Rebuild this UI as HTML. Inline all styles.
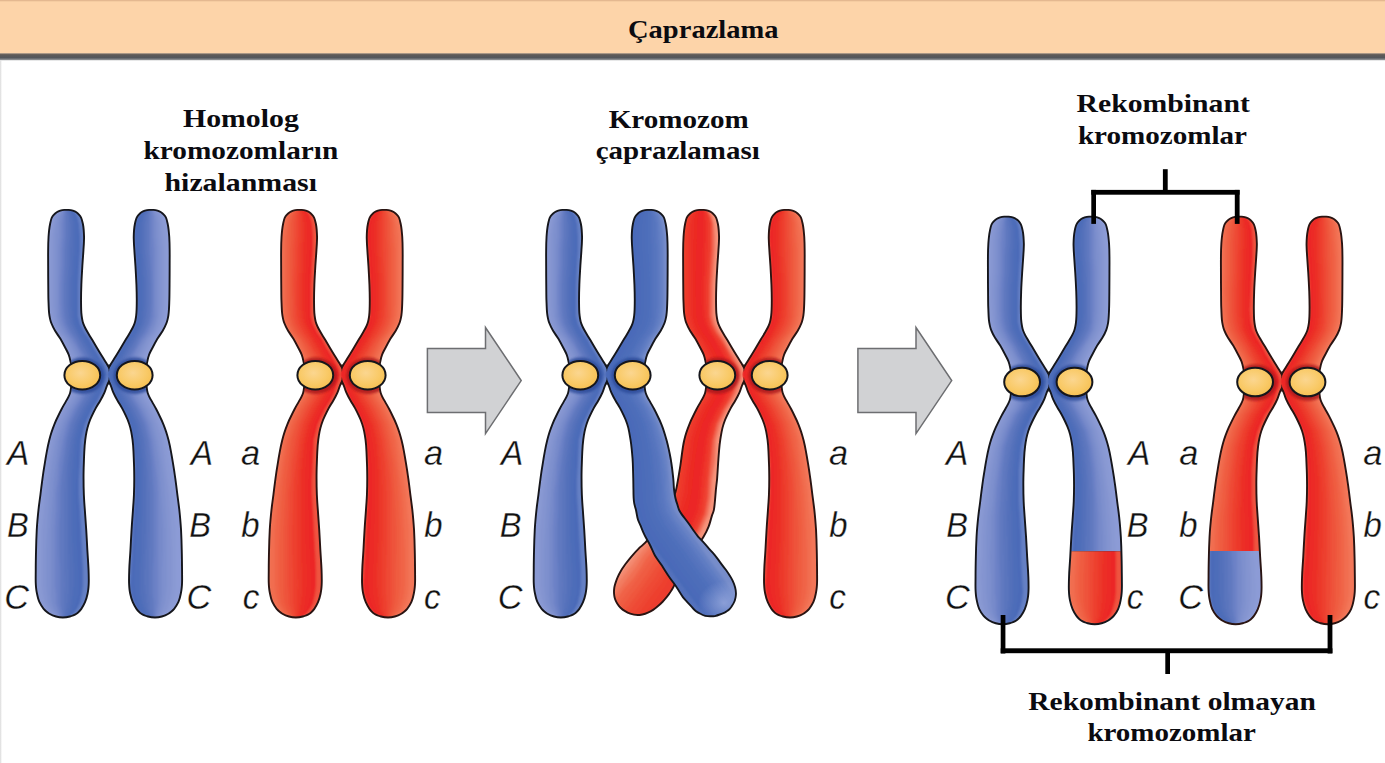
<!DOCTYPE html>
<html><head><meta charset="utf-8"><title>Çaprazlama</title>
<style>
html,body{margin:0;padding:0;background:#fff;width:1385px;height:763px;overflow:hidden}
svg{display:block}
.sf{font-family:"Liberation Serif",serif;font-weight:bold;fill:#0b0b10}
.lb{font-family:"Liberation Sans",sans-serif;font-style:italic;font-size:35px;fill:#111;stroke:#fff;stroke-width:0.3px}
</style></head>
<body>
<svg width="1385" height="763" viewBox="0 0 1385 763">
<defs>
<filter id="bl" x="-20%" y="-5%" width="140%" height="110%"><feGaussianBlur stdDeviation="0.8"/></filter>
<filter id="hb2" x="-30%" y="-30%" width="160%" height="160%"><feGaussianBlur stdDeviation="1.3"/></filter>
<radialGradient id="cg" cx="0.45" cy="0.42" r="0.62"><stop offset="0" stop-color="#fbd690"/><stop offset="0.6" stop-color="#f9ca68"/><stop offset="1" stop-color="#f6bf50"/></radialGradient>
<linearGradient id="hb" x1="0" y1="0" x2="0" y2="1">
<stop offset="0" stop-color="#a08872"/><stop offset="0.2" stop-color="#5e5a58"/><stop offset="0.6" stop-color="#53565b"/>
<stop offset="0.85" stop-color="#8d8f92"/><stop offset="1" stop-color="#ffffff"/></linearGradient>
<radialGradient id="bend"><stop offset="0" stop-color="#b8c2ec" stop-opacity="0.55"/><stop offset="1" stop-color="#b8c2ec" stop-opacity="0"/></radialGradient>
<linearGradient id="lg" x1="0" y1="0" x2="1" y2="0"><stop offset="0" stop-color="#d9d9d9"/><stop offset="1" stop-color="#ffffff"/></linearGradient>
<clipPath id="c1"><path d="M66.40,210.80 C69.03,210.79 72.16,211.14 74.40,212.22 C76.46,213.22 78.27,214.86 79.51,216.74 C80.83,218.73 81.35,221.16 81.93,223.95 C82.69,227.57 83.00,232.45 83.10,236.74 C83.20,241.09 82.77,245.29 82.50,249.89 C82.21,254.96 81.74,260.32 81.40,265.89 C81.04,271.96 80.62,278.66 80.40,284.93 C80.19,291.04 80.02,297.50 80.10,303.02 C80.17,307.68 80.21,312.10 80.71,315.91 C81.12,319.01 81.56,321.54 82.51,324.24 C83.50,327.05 85.16,329.75 86.64,332.42 C88.11,335.09 89.80,337.65 91.37,340.28 C92.94,342.90 94.50,345.55 96.07,348.18 C97.63,350.79 99.33,353.61 100.78,355.99 C102.00,357.99 103.10,359.74 104.18,361.50 C105.19,363.12 106.14,364.63 107.07,366.18 C107.98,367.69 109.18,369.20 109.73,370.69 C110.20,371.97 110.40,373.23 110.40,374.50 C110.40,375.77 110.19,377.01 109.72,378.33 C109.16,379.91 107.86,381.31 106.96,383.23 C105.80,385.72 104.82,389.31 103.56,392.13 C102.37,394.81 101.05,397.23 99.64,399.78 C98.17,402.43 96.55,404.58 94.90,407.75 C92.63,412.10 89.47,418.28 87.70,423.70 C85.98,428.96 85.11,433.90 84.31,439.77 C83.37,446.73 83.18,455.84 82.90,462.82 C82.67,468.60 82.60,473.41 82.60,478.70 C82.60,483.97 82.68,489.23 82.90,494.48 C83.12,499.71 83.53,504.59 83.90,510.13 C84.32,516.38 84.89,523.45 85.30,530.12 C85.72,536.78 86.02,543.45 86.40,550.11 C86.79,556.77 87.40,563.91 87.60,570.07 C87.78,575.38 87.95,580.64 87.70,584.92 C87.51,588.21 87.24,590.77 86.64,593.61 C86.05,596.42 85.22,599.35 84.15,601.87 C83.16,604.20 81.99,606.38 80.58,608.26 C79.24,610.04 77.75,611.71 75.95,612.92 C74.10,614.16 71.79,614.97 69.60,615.57 C67.41,616.16 65.05,616.50 62.80,616.50 C60.59,616.50 58.35,616.16 56.21,615.57 C54.05,614.97 51.86,614.09 49.91,612.89 C47.89,611.64 45.93,609.99 44.34,608.16 C42.73,606.31 41.39,604.16 40.34,601.83 C39.22,599.34 38.55,596.41 37.96,593.61 C37.36,590.77 37.03,588.20 36.80,584.90 C36.50,580.60 36.68,575.34 36.70,570.01 C36.73,563.84 36.83,556.70 37.00,550.05 C37.17,543.40 37.30,536.75 37.70,530.11 C38.10,523.47 38.73,516.42 39.39,510.20 C39.98,504.68 40.72,499.84 41.38,494.64 C42.05,489.43 42.65,484.19 43.38,478.96 C44.11,473.72 44.79,468.95 45.77,463.23 C46.96,456.33 48.39,447.26 50.14,440.45 C51.61,434.76 53.15,430.10 55.17,425.00 C57.24,419.76 60.30,413.73 62.50,409.45 C64.09,406.35 65.48,404.25 66.88,401.59 C68.28,398.92 69.99,396.34 70.91,393.47 C71.84,390.56 72.07,386.88 72.38,384.24 C72.62,382.29 72.71,380.77 72.80,379.10 C72.88,377.52 72.92,376.02 72.90,374.48 C72.88,372.93 72.83,371.41 72.69,369.84 C72.56,368.22 72.33,366.54 72.08,364.90 C71.82,363.28 71.54,361.74 71.15,360.06 C70.72,358.22 70.34,356.33 69.56,354.29 C68.61,351.80 66.96,348.97 65.58,346.32 C64.19,343.64 62.80,340.93 61.23,338.32 C59.63,335.67 57.56,333.17 56.04,330.55 C54.60,328.04 53.23,325.51 52.28,322.94 C51.37,320.47 50.84,318.28 50.38,315.44 C49.80,311.82 49.70,307.47 49.50,302.93 C49.26,297.48 49.27,291.05 49.20,284.98 C49.13,278.74 49.12,272.05 49.10,265.99 C49.09,260.44 49.02,255.09 49.10,250.03 C49.17,245.42 49.16,241.20 49.49,236.84 C49.82,232.52 50.26,227.61 51.06,223.97 C51.67,221.19 52.05,218.74 53.38,216.76 C54.66,214.85 56.69,213.22 58.80,212.22 C61.01,211.18 63.83,210.81 66.40,210.80Z"/></clipPath>
<clipPath id="c2"><path d="M151.40,210.80 C153.97,210.81 156.79,211.18 159.00,212.22 C161.11,213.22 163.14,214.85 164.42,216.76 C165.75,218.74 166.13,221.19 166.74,223.97 C167.54,227.61 167.98,232.52 168.31,236.84 C168.64,241.20 168.63,245.42 168.70,250.03 C168.78,255.09 168.71,260.44 168.70,265.99 C168.68,272.05 168.67,278.74 168.60,284.98 C168.53,291.05 168.54,297.48 168.30,302.93 C168.10,307.47 168.00,311.82 167.42,315.44 C166.96,318.28 166.43,320.47 165.52,322.94 C164.57,325.51 163.20,328.04 161.76,330.55 C160.24,333.17 158.17,335.67 156.57,338.32 C155.00,340.93 153.61,343.64 152.22,346.32 C150.84,348.97 149.19,351.80 148.24,354.29 C147.46,356.33 147.08,358.22 146.65,360.06 C146.26,361.74 145.98,363.28 145.72,364.90 C145.47,366.54 145.24,368.22 145.11,369.84 C144.97,371.41 144.92,372.93 144.90,374.48 C144.88,376.02 144.92,377.52 145.00,379.10 C145.09,380.77 145.18,382.29 145.42,384.24 C145.73,386.88 145.96,390.56 146.89,393.47 C147.81,396.34 149.52,398.92 150.92,401.59 C152.32,404.25 153.71,406.35 155.30,409.45 C157.50,413.73 160.56,419.76 162.63,425.00 C164.65,430.10 166.19,434.76 167.66,440.45 C169.41,447.26 170.84,456.33 172.03,463.23 C173.01,468.95 173.69,473.72 174.42,478.96 C175.15,484.19 175.75,489.43 176.42,494.64 C177.08,499.84 177.82,504.68 178.41,510.20 C179.07,516.42 179.70,523.47 180.10,530.11 C180.50,536.75 180.63,543.40 180.80,550.05 C180.97,556.70 181.07,563.84 181.10,570.01 C181.12,575.34 181.30,580.60 181.00,584.90 C180.77,588.20 180.44,590.77 179.84,593.61 C179.25,596.41 178.58,599.34 177.46,601.83 C176.41,604.16 175.07,606.31 173.46,608.16 C171.87,609.99 169.91,611.64 167.89,612.89 C165.94,614.09 163.75,614.97 161.59,615.57 C159.45,616.16 157.21,616.50 155.00,616.50 C152.75,616.50 150.39,616.16 148.20,615.57 C146.01,614.97 143.70,614.16 141.85,612.92 C140.05,611.71 138.56,610.04 137.22,608.26 C135.81,606.38 134.64,604.20 133.65,601.87 C132.58,599.35 131.75,596.42 131.16,593.61 C130.56,590.77 130.29,588.21 130.10,584.92 C129.85,580.64 130.02,575.38 130.20,570.07 C130.40,563.91 131.01,556.77 131.40,550.11 C131.78,543.45 132.08,536.78 132.50,530.12 C132.91,523.45 133.48,516.38 133.90,510.13 C134.27,504.59 134.68,499.71 134.90,494.48 C135.12,489.23 135.20,483.97 135.20,478.70 C135.20,473.41 135.13,468.60 134.90,462.82 C134.62,455.84 134.43,446.73 133.49,439.77 C132.69,433.90 131.82,428.96 130.10,423.70 C128.33,418.28 125.17,412.10 122.90,407.75 C121.25,404.58 119.63,402.43 118.16,399.78 C116.75,397.23 115.43,394.81 114.24,392.13 C112.98,389.31 112.00,385.72 110.84,383.23 C109.94,381.31 108.64,379.91 108.08,378.33 C107.61,377.01 107.40,375.77 107.40,374.50 C107.40,373.23 107.60,371.97 108.07,370.69 C108.62,369.20 109.82,367.69 110.73,366.18 C111.66,364.63 112.61,363.12 113.62,361.50 C114.70,359.74 115.80,357.99 117.02,355.99 C118.47,353.61 120.17,350.79 121.73,348.18 C123.30,345.55 124.86,342.90 126.43,340.28 C128.00,337.65 129.69,335.09 131.16,332.42 C132.64,329.75 134.30,327.05 135.29,324.24 C136.24,321.54 136.68,319.01 137.09,315.91 C137.59,312.10 137.63,307.68 137.70,303.02 C137.78,297.50 137.61,291.04 137.40,284.93 C137.18,278.66 136.76,271.96 136.40,265.89 C136.06,260.32 135.59,254.96 135.30,249.89 C135.03,245.29 134.60,241.09 134.70,236.74 C134.80,232.45 135.11,227.57 135.87,223.95 C136.45,221.16 136.97,218.73 138.29,216.74 C139.53,214.86 141.34,213.22 143.40,212.22 C145.64,211.14 148.77,210.79 151.40,210.80Z"/></clipPath>
<clipPath id="h3"><path d="M66.40,210.80 C69.03,210.79 72.16,211.14 74.40,212.22 C76.46,213.22 78.27,214.86 79.51,216.74 C80.83,218.73 81.35,221.16 81.93,223.95 C82.69,227.57 83.00,232.45 83.10,236.74 C83.20,241.09 82.77,245.29 82.50,249.89 C82.21,254.96 81.74,260.32 81.40,265.89 C81.04,271.96 80.62,278.66 80.40,284.93 C80.19,291.04 80.02,297.50 80.10,303.02 C80.17,307.68 80.21,312.10 80.71,315.91 C81.12,319.01 81.56,321.54 82.51,324.24 C83.50,327.05 85.16,329.75 86.64,332.42 C88.11,335.09 89.80,337.65 91.37,340.28 C92.94,342.90 94.50,345.55 96.07,348.18 C97.63,350.79 99.33,353.61 100.78,355.99 C102.00,357.99 103.10,359.74 104.18,361.50 C105.19,363.12 106.14,364.63 107.07,366.18 C107.98,367.69 109.18,369.20 109.73,370.69 C110.20,371.97 110.40,373.23 110.40,374.50 C110.40,375.77 110.19,377.01 109.72,378.33 C109.16,379.91 107.86,381.31 106.96,383.23 C105.80,385.72 104.82,389.31 103.56,392.13 C102.37,394.81 101.05,397.23 99.64,399.78 C98.17,402.43 96.55,404.58 94.90,407.75 C92.63,412.10 89.47,418.28 87.70,423.70 C85.98,428.96 85.11,433.90 84.31,439.77 C83.37,446.73 83.18,455.84 82.90,462.82 C82.67,468.60 82.60,473.41 82.60,478.70 C82.60,483.97 82.68,489.23 82.90,494.48 C83.12,499.71 83.53,504.59 83.90,510.13 C84.32,516.38 84.89,523.45 85.30,530.12 C85.72,536.78 86.02,543.45 86.40,550.11 C86.79,556.77 87.40,563.91 87.60,570.07 C87.78,575.38 87.95,580.64 87.70,584.92 C87.51,588.21 87.24,590.77 86.64,593.61 C86.05,596.42 85.22,599.35 84.15,601.87 C83.16,604.20 81.99,606.38 80.58,608.26 C79.24,610.04 77.75,611.71 75.95,612.92 C74.10,614.16 71.79,614.97 69.60,615.57 C67.41,616.16 65.05,616.50 62.80,616.50 C60.59,616.50 58.35,616.16 56.21,615.57 C54.05,614.97 51.86,614.09 49.91,612.89 C47.89,611.64 45.93,609.99 44.34,608.16 C42.73,606.31 41.39,604.16 40.34,601.83 C39.22,599.34 38.55,596.41 37.96,593.61 C37.36,590.77 37.03,588.20 36.80,584.90 C36.50,580.60 36.68,575.34 36.70,570.01 C36.73,563.84 36.83,556.70 37.00,550.05 C37.17,543.40 37.30,536.75 37.70,530.11 C38.10,523.47 38.73,516.42 39.39,510.20 C39.98,504.68 40.72,499.84 41.38,494.64 C42.05,489.43 42.65,484.19 43.38,478.96 C44.11,473.72 44.79,468.95 45.77,463.23 C46.96,456.33 48.39,447.26 50.14,440.45 C51.61,434.76 53.15,430.10 55.17,425.00 C57.24,419.76 60.30,413.73 62.50,409.45 C64.09,406.35 65.48,404.25 66.88,401.59 C68.28,398.92 69.99,396.34 70.91,393.47 C71.84,390.56 72.07,386.88 72.38,384.24 C72.62,382.29 72.71,380.77 72.80,379.10 C72.88,377.52 72.92,376.02 72.90,374.48 C72.88,372.93 72.83,371.41 72.69,369.84 C72.56,368.22 72.33,366.54 72.08,364.90 C71.82,363.28 71.54,361.74 71.15,360.06 C70.72,358.22 70.34,356.33 69.56,354.29 C68.61,351.80 66.96,348.97 65.58,346.32 C64.19,343.64 62.80,340.93 61.23,338.32 C59.63,335.67 57.56,333.17 56.04,330.55 C54.60,328.04 53.23,325.51 52.28,322.94 C51.37,320.47 50.84,318.28 50.38,315.44 C49.80,311.82 49.70,307.47 49.50,302.93 C49.26,297.48 49.27,291.05 49.20,284.98 C49.13,278.74 49.12,272.05 49.10,265.99 C49.09,260.44 49.02,255.09 49.10,250.03 C49.17,245.42 49.16,241.20 49.49,236.84 C49.82,232.52 50.26,227.61 51.06,223.97 C51.67,221.19 52.05,218.74 53.38,216.76 C54.66,214.85 56.69,213.22 58.80,212.22 C61.01,211.18 63.83,210.81 66.40,210.80Z"/><path d="M151.40,210.80 C153.97,210.81 156.79,211.18 159.00,212.22 C161.11,213.22 163.14,214.85 164.42,216.76 C165.75,218.74 166.13,221.19 166.74,223.97 C167.54,227.61 167.98,232.52 168.31,236.84 C168.64,241.20 168.63,245.42 168.70,250.03 C168.78,255.09 168.71,260.44 168.70,265.99 C168.68,272.05 168.67,278.74 168.60,284.98 C168.53,291.05 168.54,297.48 168.30,302.93 C168.10,307.47 168.00,311.82 167.42,315.44 C166.96,318.28 166.43,320.47 165.52,322.94 C164.57,325.51 163.20,328.04 161.76,330.55 C160.24,333.17 158.17,335.67 156.57,338.32 C155.00,340.93 153.61,343.64 152.22,346.32 C150.84,348.97 149.19,351.80 148.24,354.29 C147.46,356.33 147.08,358.22 146.65,360.06 C146.26,361.74 145.98,363.28 145.72,364.90 C145.47,366.54 145.24,368.22 145.11,369.84 C144.97,371.41 144.92,372.93 144.90,374.48 C144.88,376.02 144.92,377.52 145.00,379.10 C145.09,380.77 145.18,382.29 145.42,384.24 C145.73,386.88 145.96,390.56 146.89,393.47 C147.81,396.34 149.52,398.92 150.92,401.59 C152.32,404.25 153.71,406.35 155.30,409.45 C157.50,413.73 160.56,419.76 162.63,425.00 C164.65,430.10 166.19,434.76 167.66,440.45 C169.41,447.26 170.84,456.33 172.03,463.23 C173.01,468.95 173.69,473.72 174.42,478.96 C175.15,484.19 175.75,489.43 176.42,494.64 C177.08,499.84 177.82,504.68 178.41,510.20 C179.07,516.42 179.70,523.47 180.10,530.11 C180.50,536.75 180.63,543.40 180.80,550.05 C180.97,556.70 181.07,563.84 181.10,570.01 C181.12,575.34 181.30,580.60 181.00,584.90 C180.77,588.20 180.44,590.77 179.84,593.61 C179.25,596.41 178.58,599.34 177.46,601.83 C176.41,604.16 175.07,606.31 173.46,608.16 C171.87,609.99 169.91,611.64 167.89,612.89 C165.94,614.09 163.75,614.97 161.59,615.57 C159.45,616.16 157.21,616.50 155.00,616.50 C152.75,616.50 150.39,616.16 148.20,615.57 C146.01,614.97 143.70,614.16 141.85,612.92 C140.05,611.71 138.56,610.04 137.22,608.26 C135.81,606.38 134.64,604.20 133.65,601.87 C132.58,599.35 131.75,596.42 131.16,593.61 C130.56,590.77 130.29,588.21 130.10,584.92 C129.85,580.64 130.02,575.38 130.20,570.07 C130.40,563.91 131.01,556.77 131.40,550.11 C131.78,543.45 132.08,536.78 132.50,530.12 C132.91,523.45 133.48,516.38 133.90,510.13 C134.27,504.59 134.68,499.71 134.90,494.48 C135.12,489.23 135.20,483.97 135.20,478.70 C135.20,473.41 135.13,468.60 134.90,462.82 C134.62,455.84 134.43,446.73 133.49,439.77 C132.69,433.90 131.82,428.96 130.10,423.70 C128.33,418.28 125.17,412.10 122.90,407.75 C121.25,404.58 119.63,402.43 118.16,399.78 C116.75,397.23 115.43,394.81 114.24,392.13 C112.98,389.31 112.00,385.72 110.84,383.23 C109.94,381.31 108.64,379.91 108.08,378.33 C107.61,377.01 107.40,375.77 107.40,374.50 C107.40,373.23 107.60,371.97 108.07,370.69 C108.62,369.20 109.82,367.69 110.73,366.18 C111.66,364.63 112.61,363.12 113.62,361.50 C114.70,359.74 115.80,357.99 117.02,355.99 C118.47,353.61 120.17,350.79 121.73,348.18 C123.30,345.55 124.86,342.90 126.43,340.28 C128.00,337.65 129.69,335.09 131.16,332.42 C132.64,329.75 134.30,327.05 135.29,324.24 C136.24,321.54 136.68,319.01 137.09,315.91 C137.59,312.10 137.63,307.68 137.70,303.02 C137.78,297.50 137.61,291.04 137.40,284.93 C137.18,278.66 136.76,271.96 136.40,265.89 C136.06,260.32 135.59,254.96 135.30,249.89 C135.03,245.29 134.60,241.09 134.70,236.74 C134.80,232.45 135.11,227.57 135.87,223.95 C136.45,221.16 136.97,218.73 138.29,216.74 C139.53,214.86 141.34,213.22 143.40,212.22 C145.64,211.14 148.77,210.79 151.40,210.80Z"/></clipPath>
<clipPath id="c4"><path d="M299.40,210.80 C302.03,210.79 305.16,211.14 307.40,212.22 C309.46,213.22 311.27,214.86 312.51,216.74 C313.83,218.73 314.35,221.16 314.93,223.95 C315.69,227.57 316.00,232.45 316.10,236.74 C316.20,241.09 315.77,245.29 315.50,249.89 C315.21,254.96 314.74,260.32 314.40,265.89 C314.04,271.96 313.62,278.66 313.40,284.93 C313.19,291.04 313.02,297.50 313.10,303.02 C313.17,307.68 313.21,312.10 313.71,315.91 C314.12,319.01 314.56,321.54 315.51,324.24 C316.50,327.05 318.16,329.75 319.64,332.42 C321.11,335.09 322.80,337.65 324.37,340.28 C325.94,342.90 327.50,345.55 329.07,348.18 C330.63,350.79 332.33,353.61 333.78,355.99 C335.00,357.99 336.10,359.74 337.18,361.50 C338.19,363.12 339.14,364.63 340.07,366.18 C340.98,367.69 342.18,369.20 342.73,370.69 C343.20,371.97 343.40,373.23 343.40,374.50 C343.40,375.77 343.19,377.01 342.72,378.33 C342.16,379.91 340.86,381.31 339.96,383.23 C338.80,385.72 337.82,389.31 336.56,392.13 C335.37,394.81 334.05,397.23 332.64,399.78 C331.17,402.43 329.55,404.58 327.90,407.75 C325.63,412.10 322.47,418.28 320.70,423.70 C318.98,428.96 318.11,433.90 317.31,439.77 C316.37,446.73 316.18,455.84 315.90,462.82 C315.67,468.60 315.60,473.41 315.60,478.70 C315.60,483.97 315.68,489.23 315.90,494.48 C316.12,499.71 316.53,504.59 316.90,510.13 C317.32,516.38 317.89,523.45 318.30,530.12 C318.72,536.78 319.02,543.45 319.40,550.11 C319.79,556.77 320.40,563.91 320.60,570.07 C320.78,575.38 320.95,580.64 320.70,584.92 C320.51,588.21 320.24,590.77 319.64,593.61 C319.05,596.42 318.22,599.35 317.15,601.87 C316.16,604.20 314.99,606.38 313.58,608.26 C312.24,610.04 310.75,611.71 308.95,612.92 C307.10,614.16 304.79,614.97 302.60,615.57 C300.41,616.16 298.05,616.50 295.80,616.50 C293.59,616.50 291.35,616.16 289.21,615.57 C287.05,614.97 284.86,614.09 282.91,612.89 C280.89,611.64 278.93,609.99 277.34,608.16 C275.73,606.31 274.39,604.16 273.34,601.83 C272.22,599.34 271.55,596.41 270.96,593.61 C270.36,590.77 270.03,588.20 269.80,584.90 C269.50,580.60 269.68,575.34 269.70,570.01 C269.73,563.84 269.83,556.70 270.00,550.05 C270.17,543.40 270.30,536.75 270.70,530.11 C271.10,523.47 271.73,516.42 272.39,510.20 C272.98,504.68 273.72,499.84 274.38,494.64 C275.05,489.43 275.65,484.19 276.38,478.96 C277.11,473.72 277.79,468.95 278.77,463.23 C279.96,456.33 281.39,447.26 283.14,440.45 C284.61,434.76 286.15,430.10 288.17,425.00 C290.24,419.76 293.30,413.73 295.50,409.45 C297.09,406.35 298.48,404.25 299.88,401.59 C301.28,398.92 302.99,396.34 303.91,393.47 C304.84,390.56 305.07,386.88 305.38,384.24 C305.62,382.29 305.71,380.77 305.80,379.10 C305.88,377.52 305.92,376.02 305.90,374.48 C305.88,372.93 305.83,371.41 305.69,369.84 C305.56,368.22 305.33,366.54 305.08,364.90 C304.82,363.28 304.54,361.74 304.15,360.06 C303.72,358.22 303.34,356.33 302.56,354.29 C301.61,351.80 299.96,348.97 298.58,346.32 C297.19,343.64 295.80,340.93 294.23,338.32 C292.63,335.67 290.56,333.17 289.04,330.55 C287.60,328.04 286.23,325.51 285.28,322.94 C284.37,320.47 283.84,318.28 283.38,315.44 C282.80,311.82 282.70,307.47 282.50,302.93 C282.26,297.48 282.27,291.05 282.20,284.98 C282.13,278.74 282.12,272.05 282.10,265.99 C282.09,260.44 282.02,255.09 282.10,250.03 C282.17,245.42 282.16,241.20 282.49,236.84 C282.82,232.52 283.26,227.61 284.06,223.97 C284.67,221.19 285.05,218.74 286.38,216.76 C287.66,214.85 289.69,213.22 291.80,212.22 C294.01,211.18 296.83,210.81 299.40,210.80Z"/></clipPath>
<clipPath id="c5"><path d="M384.40,210.80 C386.97,210.81 389.79,211.18 392.00,212.22 C394.11,213.22 396.14,214.85 397.42,216.76 C398.75,218.74 399.13,221.19 399.74,223.97 C400.54,227.61 400.98,232.52 401.31,236.84 C401.64,241.20 401.63,245.42 401.70,250.03 C401.78,255.09 401.71,260.44 401.70,265.99 C401.68,272.05 401.67,278.74 401.60,284.98 C401.53,291.05 401.54,297.48 401.30,302.93 C401.10,307.47 401.00,311.82 400.42,315.44 C399.96,318.28 399.43,320.47 398.52,322.94 C397.57,325.51 396.20,328.04 394.76,330.55 C393.24,333.17 391.17,335.67 389.57,338.32 C388.00,340.93 386.61,343.64 385.22,346.32 C383.84,348.97 382.19,351.80 381.24,354.29 C380.46,356.33 380.08,358.22 379.65,360.06 C379.26,361.74 378.98,363.28 378.72,364.90 C378.47,366.54 378.24,368.22 378.11,369.84 C377.97,371.41 377.92,372.93 377.90,374.48 C377.88,376.02 377.92,377.52 378.00,379.10 C378.09,380.77 378.18,382.29 378.42,384.24 C378.73,386.88 378.96,390.56 379.89,393.47 C380.81,396.34 382.52,398.92 383.92,401.59 C385.32,404.25 386.71,406.35 388.30,409.45 C390.50,413.73 393.56,419.76 395.63,425.00 C397.65,430.10 399.19,434.76 400.66,440.45 C402.41,447.26 403.84,456.33 405.03,463.23 C406.01,468.95 406.69,473.72 407.42,478.96 C408.15,484.19 408.75,489.43 409.42,494.64 C410.08,499.84 410.82,504.68 411.41,510.20 C412.07,516.42 412.70,523.47 413.10,530.11 C413.50,536.75 413.63,543.40 413.80,550.05 C413.97,556.70 414.07,563.84 414.10,570.01 C414.12,575.34 414.30,580.60 414.00,584.90 C413.77,588.20 413.44,590.77 412.84,593.61 C412.25,596.41 411.58,599.34 410.46,601.83 C409.41,604.16 408.07,606.31 406.46,608.16 C404.87,609.99 402.91,611.64 400.89,612.89 C398.94,614.09 396.75,614.97 394.59,615.57 C392.45,616.16 390.21,616.50 388.00,616.50 C385.75,616.50 383.39,616.16 381.20,615.57 C379.01,614.97 376.70,614.16 374.85,612.92 C373.05,611.71 371.56,610.04 370.22,608.26 C368.81,606.38 367.64,604.20 366.65,601.87 C365.58,599.35 364.75,596.42 364.16,593.61 C363.56,590.77 363.29,588.21 363.10,584.92 C362.85,580.64 363.02,575.38 363.20,570.07 C363.40,563.91 364.01,556.77 364.40,550.11 C364.78,543.45 365.08,536.78 365.50,530.12 C365.91,523.45 366.48,516.38 366.90,510.13 C367.27,504.59 367.68,499.71 367.90,494.48 C368.12,489.23 368.20,483.97 368.20,478.70 C368.20,473.41 368.13,468.60 367.90,462.82 C367.62,455.84 367.43,446.73 366.49,439.77 C365.69,433.90 364.82,428.96 363.10,423.70 C361.33,418.28 358.17,412.10 355.90,407.75 C354.25,404.58 352.63,402.43 351.16,399.78 C349.75,397.23 348.43,394.81 347.24,392.13 C345.98,389.31 345.00,385.72 343.84,383.23 C342.94,381.31 341.64,379.91 341.08,378.33 C340.61,377.01 340.40,375.77 340.40,374.50 C340.40,373.23 340.60,371.97 341.07,370.69 C341.62,369.20 342.82,367.69 343.73,366.18 C344.66,364.63 345.61,363.12 346.62,361.50 C347.70,359.74 348.80,357.99 350.02,355.99 C351.47,353.61 353.17,350.79 354.73,348.18 C356.30,345.55 357.86,342.90 359.43,340.28 C361.00,337.65 362.69,335.09 364.16,332.42 C365.64,329.75 367.30,327.05 368.29,324.24 C369.24,321.54 369.68,319.01 370.09,315.91 C370.59,312.10 370.63,307.68 370.70,303.02 C370.78,297.50 370.61,291.04 370.40,284.93 C370.18,278.66 369.76,271.96 369.40,265.89 C369.06,260.32 368.59,254.96 368.30,249.89 C368.03,245.29 367.60,241.09 367.70,236.74 C367.80,232.45 368.11,227.57 368.87,223.95 C369.45,221.16 369.97,218.73 371.29,216.74 C372.53,214.86 374.34,213.22 376.40,212.22 C378.64,211.14 381.77,210.79 384.40,210.80Z"/></clipPath>
<clipPath id="h6"><path d="M299.40,210.80 C302.03,210.79 305.16,211.14 307.40,212.22 C309.46,213.22 311.27,214.86 312.51,216.74 C313.83,218.73 314.35,221.16 314.93,223.95 C315.69,227.57 316.00,232.45 316.10,236.74 C316.20,241.09 315.77,245.29 315.50,249.89 C315.21,254.96 314.74,260.32 314.40,265.89 C314.04,271.96 313.62,278.66 313.40,284.93 C313.19,291.04 313.02,297.50 313.10,303.02 C313.17,307.68 313.21,312.10 313.71,315.91 C314.12,319.01 314.56,321.54 315.51,324.24 C316.50,327.05 318.16,329.75 319.64,332.42 C321.11,335.09 322.80,337.65 324.37,340.28 C325.94,342.90 327.50,345.55 329.07,348.18 C330.63,350.79 332.33,353.61 333.78,355.99 C335.00,357.99 336.10,359.74 337.18,361.50 C338.19,363.12 339.14,364.63 340.07,366.18 C340.98,367.69 342.18,369.20 342.73,370.69 C343.20,371.97 343.40,373.23 343.40,374.50 C343.40,375.77 343.19,377.01 342.72,378.33 C342.16,379.91 340.86,381.31 339.96,383.23 C338.80,385.72 337.82,389.31 336.56,392.13 C335.37,394.81 334.05,397.23 332.64,399.78 C331.17,402.43 329.55,404.58 327.90,407.75 C325.63,412.10 322.47,418.28 320.70,423.70 C318.98,428.96 318.11,433.90 317.31,439.77 C316.37,446.73 316.18,455.84 315.90,462.82 C315.67,468.60 315.60,473.41 315.60,478.70 C315.60,483.97 315.68,489.23 315.90,494.48 C316.12,499.71 316.53,504.59 316.90,510.13 C317.32,516.38 317.89,523.45 318.30,530.12 C318.72,536.78 319.02,543.45 319.40,550.11 C319.79,556.77 320.40,563.91 320.60,570.07 C320.78,575.38 320.95,580.64 320.70,584.92 C320.51,588.21 320.24,590.77 319.64,593.61 C319.05,596.42 318.22,599.35 317.15,601.87 C316.16,604.20 314.99,606.38 313.58,608.26 C312.24,610.04 310.75,611.71 308.95,612.92 C307.10,614.16 304.79,614.97 302.60,615.57 C300.41,616.16 298.05,616.50 295.80,616.50 C293.59,616.50 291.35,616.16 289.21,615.57 C287.05,614.97 284.86,614.09 282.91,612.89 C280.89,611.64 278.93,609.99 277.34,608.16 C275.73,606.31 274.39,604.16 273.34,601.83 C272.22,599.34 271.55,596.41 270.96,593.61 C270.36,590.77 270.03,588.20 269.80,584.90 C269.50,580.60 269.68,575.34 269.70,570.01 C269.73,563.84 269.83,556.70 270.00,550.05 C270.17,543.40 270.30,536.75 270.70,530.11 C271.10,523.47 271.73,516.42 272.39,510.20 C272.98,504.68 273.72,499.84 274.38,494.64 C275.05,489.43 275.65,484.19 276.38,478.96 C277.11,473.72 277.79,468.95 278.77,463.23 C279.96,456.33 281.39,447.26 283.14,440.45 C284.61,434.76 286.15,430.10 288.17,425.00 C290.24,419.76 293.30,413.73 295.50,409.45 C297.09,406.35 298.48,404.25 299.88,401.59 C301.28,398.92 302.99,396.34 303.91,393.47 C304.84,390.56 305.07,386.88 305.38,384.24 C305.62,382.29 305.71,380.77 305.80,379.10 C305.88,377.52 305.92,376.02 305.90,374.48 C305.88,372.93 305.83,371.41 305.69,369.84 C305.56,368.22 305.33,366.54 305.08,364.90 C304.82,363.28 304.54,361.74 304.15,360.06 C303.72,358.22 303.34,356.33 302.56,354.29 C301.61,351.80 299.96,348.97 298.58,346.32 C297.19,343.64 295.80,340.93 294.23,338.32 C292.63,335.67 290.56,333.17 289.04,330.55 C287.60,328.04 286.23,325.51 285.28,322.94 C284.37,320.47 283.84,318.28 283.38,315.44 C282.80,311.82 282.70,307.47 282.50,302.93 C282.26,297.48 282.27,291.05 282.20,284.98 C282.13,278.74 282.12,272.05 282.10,265.99 C282.09,260.44 282.02,255.09 282.10,250.03 C282.17,245.42 282.16,241.20 282.49,236.84 C282.82,232.52 283.26,227.61 284.06,223.97 C284.67,221.19 285.05,218.74 286.38,216.76 C287.66,214.85 289.69,213.22 291.80,212.22 C294.01,211.18 296.83,210.81 299.40,210.80Z"/><path d="M384.40,210.80 C386.97,210.81 389.79,211.18 392.00,212.22 C394.11,213.22 396.14,214.85 397.42,216.76 C398.75,218.74 399.13,221.19 399.74,223.97 C400.54,227.61 400.98,232.52 401.31,236.84 C401.64,241.20 401.63,245.42 401.70,250.03 C401.78,255.09 401.71,260.44 401.70,265.99 C401.68,272.05 401.67,278.74 401.60,284.98 C401.53,291.05 401.54,297.48 401.30,302.93 C401.10,307.47 401.00,311.82 400.42,315.44 C399.96,318.28 399.43,320.47 398.52,322.94 C397.57,325.51 396.20,328.04 394.76,330.55 C393.24,333.17 391.17,335.67 389.57,338.32 C388.00,340.93 386.61,343.64 385.22,346.32 C383.84,348.97 382.19,351.80 381.24,354.29 C380.46,356.33 380.08,358.22 379.65,360.06 C379.26,361.74 378.98,363.28 378.72,364.90 C378.47,366.54 378.24,368.22 378.11,369.84 C377.97,371.41 377.92,372.93 377.90,374.48 C377.88,376.02 377.92,377.52 378.00,379.10 C378.09,380.77 378.18,382.29 378.42,384.24 C378.73,386.88 378.96,390.56 379.89,393.47 C380.81,396.34 382.52,398.92 383.92,401.59 C385.32,404.25 386.71,406.35 388.30,409.45 C390.50,413.73 393.56,419.76 395.63,425.00 C397.65,430.10 399.19,434.76 400.66,440.45 C402.41,447.26 403.84,456.33 405.03,463.23 C406.01,468.95 406.69,473.72 407.42,478.96 C408.15,484.19 408.75,489.43 409.42,494.64 C410.08,499.84 410.82,504.68 411.41,510.20 C412.07,516.42 412.70,523.47 413.10,530.11 C413.50,536.75 413.63,543.40 413.80,550.05 C413.97,556.70 414.07,563.84 414.10,570.01 C414.12,575.34 414.30,580.60 414.00,584.90 C413.77,588.20 413.44,590.77 412.84,593.61 C412.25,596.41 411.58,599.34 410.46,601.83 C409.41,604.16 408.07,606.31 406.46,608.16 C404.87,609.99 402.91,611.64 400.89,612.89 C398.94,614.09 396.75,614.97 394.59,615.57 C392.45,616.16 390.21,616.50 388.00,616.50 C385.75,616.50 383.39,616.16 381.20,615.57 C379.01,614.97 376.70,614.16 374.85,612.92 C373.05,611.71 371.56,610.04 370.22,608.26 C368.81,606.38 367.64,604.20 366.65,601.87 C365.58,599.35 364.75,596.42 364.16,593.61 C363.56,590.77 363.29,588.21 363.10,584.92 C362.85,580.64 363.02,575.38 363.20,570.07 C363.40,563.91 364.01,556.77 364.40,550.11 C364.78,543.45 365.08,536.78 365.50,530.12 C365.91,523.45 366.48,516.38 366.90,510.13 C367.27,504.59 367.68,499.71 367.90,494.48 C368.12,489.23 368.20,483.97 368.20,478.70 C368.20,473.41 368.13,468.60 367.90,462.82 C367.62,455.84 367.43,446.73 366.49,439.77 C365.69,433.90 364.82,428.96 363.10,423.70 C361.33,418.28 358.17,412.10 355.90,407.75 C354.25,404.58 352.63,402.43 351.16,399.78 C349.75,397.23 348.43,394.81 347.24,392.13 C345.98,389.31 345.00,385.72 343.84,383.23 C342.94,381.31 341.64,379.91 341.08,378.33 C340.61,377.01 340.40,375.77 340.40,374.50 C340.40,373.23 340.60,371.97 341.07,370.69 C341.62,369.20 342.82,367.69 343.73,366.18 C344.66,364.63 345.61,363.12 346.62,361.50 C347.70,359.74 348.80,357.99 350.02,355.99 C351.47,353.61 353.17,350.79 354.73,348.18 C356.30,345.55 357.86,342.90 359.43,340.28 C361.00,337.65 362.69,335.09 364.16,332.42 C365.64,329.75 367.30,327.05 368.29,324.24 C369.24,321.54 369.68,319.01 370.09,315.91 C370.59,312.10 370.63,307.68 370.70,303.02 C370.78,297.50 370.61,291.04 370.40,284.93 C370.18,278.66 369.76,271.96 369.40,265.89 C369.06,260.32 368.59,254.96 368.30,249.89 C368.03,245.29 367.60,241.09 367.70,236.74 C367.80,232.45 368.11,227.57 368.87,223.95 C369.45,221.16 369.97,218.73 371.29,216.74 C372.53,214.86 374.34,213.22 376.40,212.22 C378.64,211.14 381.77,210.79 384.40,210.80Z"/></clipPath>
<clipPath id="c7"><path d="M786.40,210.80 C788.97,210.81 791.79,211.18 794.00,212.22 C796.11,213.22 798.14,214.85 799.42,216.76 C800.75,218.74 801.13,221.19 801.74,223.97 C802.54,227.61 802.98,232.52 803.31,236.84 C803.64,241.20 803.63,245.42 803.70,250.03 C803.78,255.09 803.71,260.44 803.70,265.99 C803.68,272.05 803.67,278.74 803.60,284.98 C803.53,291.05 803.54,297.48 803.30,302.93 C803.10,307.47 803.00,311.82 802.42,315.44 C801.96,318.28 801.43,320.47 800.52,322.94 C799.57,325.51 798.20,328.04 796.76,330.55 C795.24,333.17 793.17,335.67 791.57,338.32 C790.00,340.93 788.61,343.64 787.22,346.32 C785.84,348.97 784.19,351.80 783.24,354.29 C782.46,356.33 782.08,358.22 781.65,360.06 C781.26,361.74 780.98,363.28 780.72,364.90 C780.47,366.54 780.24,368.22 780.11,369.84 C779.97,371.41 779.92,372.93 779.90,374.48 C779.88,376.02 779.92,377.52 780.00,379.10 C780.09,380.77 780.18,382.29 780.42,384.24 C780.73,386.88 780.96,390.56 781.89,393.47 C782.81,396.34 784.52,398.92 785.92,401.59 C787.32,404.25 788.71,406.35 790.30,409.45 C792.50,413.73 795.56,419.76 797.63,425.00 C799.65,430.10 801.19,434.76 802.66,440.45 C804.41,447.26 805.84,456.33 807.03,463.23 C808.01,468.95 808.69,473.72 809.42,478.96 C810.15,484.19 810.75,489.43 811.42,494.64 C812.08,499.84 812.82,504.68 813.41,510.20 C814.07,516.42 814.70,523.47 815.10,530.11 C815.50,536.75 815.63,543.40 815.80,550.05 C815.97,556.70 816.07,563.84 816.10,570.01 C816.12,575.34 816.30,580.60 816.00,584.90 C815.77,588.20 815.44,590.77 814.84,593.61 C814.25,596.41 813.58,599.34 812.46,601.83 C811.41,604.16 810.07,606.31 808.46,608.16 C806.87,609.99 804.91,611.64 802.89,612.89 C800.94,614.09 798.75,614.97 796.59,615.57 C794.45,616.16 792.21,616.50 790.00,616.50 C787.75,616.50 785.39,616.16 783.20,615.57 C781.01,614.97 778.70,614.16 776.85,612.92 C775.05,611.71 773.56,610.04 772.22,608.26 C770.81,606.38 769.64,604.20 768.65,601.87 C767.58,599.35 766.75,596.42 766.16,593.61 C765.56,590.77 765.29,588.21 765.10,584.92 C764.85,580.64 765.02,575.38 765.20,570.07 C765.40,563.91 766.01,556.77 766.40,550.11 C766.78,543.45 767.08,536.78 767.50,530.12 C767.91,523.45 768.48,516.38 768.90,510.13 C769.27,504.59 769.68,499.71 769.90,494.48 C770.12,489.23 770.20,483.97 770.20,478.70 C770.20,473.41 770.13,468.60 769.90,462.82 C769.62,455.84 769.43,446.73 768.49,439.77 C767.69,433.90 766.82,428.96 765.10,423.70 C763.33,418.28 760.17,412.10 757.90,407.75 C756.25,404.58 754.63,402.43 753.16,399.78 C751.75,397.23 750.43,394.81 749.24,392.13 C747.98,389.31 747.00,385.72 745.84,383.23 C744.94,381.31 743.64,379.91 743.08,378.33 C742.61,377.01 742.40,375.77 742.40,374.50 C742.40,373.23 742.60,371.97 743.07,370.69 C743.62,369.20 744.82,367.69 745.73,366.18 C746.66,364.63 747.61,363.12 748.62,361.50 C749.70,359.74 750.80,357.99 752.02,355.99 C753.47,353.61 755.17,350.79 756.73,348.18 C758.30,345.55 759.86,342.90 761.43,340.28 C763.00,337.65 764.69,335.09 766.16,332.42 C767.64,329.75 769.30,327.05 770.29,324.24 C771.24,321.54 771.68,319.01 772.09,315.91 C772.59,312.10 772.63,307.68 772.70,303.02 C772.78,297.50 772.61,291.04 772.40,284.93 C772.18,278.66 771.76,271.96 771.40,265.89 C771.06,260.32 770.59,254.96 770.30,249.89 C770.03,245.29 769.60,241.09 769.70,236.74 C769.80,232.45 770.11,227.57 770.87,223.95 C771.45,221.16 771.97,218.73 773.29,216.74 C774.53,214.86 776.34,213.22 778.40,212.22 C780.64,211.14 783.77,210.79 786.40,210.80Z"/></clipPath>
<clipPath id="c8"><path d="M701.40,210.80 C704.03,210.79 707.16,211.14 709.40,212.22 C711.46,213.22 713.27,214.86 714.51,216.74 C715.83,218.73 716.35,221.16 716.93,223.95 C717.69,227.57 718.00,232.45 718.10,236.74 C718.20,241.09 717.77,245.29 717.50,249.89 C717.21,254.96 716.74,260.32 716.40,265.89 C716.04,271.96 715.62,278.66 715.40,284.93 C715.19,291.04 715.02,297.50 715.10,303.02 C715.17,307.68 715.21,312.10 715.71,315.91 C716.12,319.01 716.56,321.54 717.51,324.24 C718.50,327.05 720.16,329.75 721.64,332.42 C723.11,335.09 724.80,337.65 726.37,340.28 C727.94,342.90 729.50,345.55 731.07,348.18 C732.63,350.79 734.33,353.61 735.78,355.99 C737.00,357.99 738.10,359.74 739.18,361.50 C740.19,363.12 741.14,364.63 742.07,366.18 C742.98,367.69 744.18,369.20 744.73,370.69 C745.20,371.97 745.40,373.23 745.40,374.50 C745.40,375.77 745.19,377.01 744.72,378.33 C744.16,379.91 742.86,381.31 741.96,383.23 C740.80,385.72 739.82,389.31 738.56,392.13 C737.37,394.81 736.05,397.23 734.64,399.78 C733.17,402.43 731.55,404.58 729.90,407.75 C727.63,412.10 724.47,418.28 722.70,423.70 C720.98,428.95 720.18,434.15 719.32,439.72 C718.40,445.69 718.02,452.12 717.51,458.45 C716.98,464.93 716.71,472.40 716.21,478.14 C715.82,482.63 715.27,486.34 714.91,490.12 C714.58,493.51 714.45,496.52 714.11,499.80 C713.76,503.22 713.51,507.32 712.84,510.23 C712.33,512.41 711.59,513.66 710.89,515.83 C709.94,518.77 709.07,522.93 707.73,526.30 C706.40,529.66 704.79,532.76 702.87,536.03 C700.75,539.64 697.99,543.07 695.41,546.95 C692.52,551.32 689.29,556.38 686.39,560.99 C683.61,565.42 680.63,569.79 678.33,574.10 C676.23,578.02 674.86,582.28 673.02,585.72 C671.46,588.64 670.15,590.88 668.19,593.55 C665.86,596.72 662.78,600.45 659.70,603.31 C656.74,606.07 653.54,608.73 650.11,610.52 C646.82,612.25 642.99,613.69 639.59,614.01 C636.50,614.30 633.49,613.87 630.57,612.82 C627.35,611.67 623.67,609.44 621.21,607.03 C618.93,604.78 617.12,601.92 616.08,599.05 C615.07,596.22 614.80,592.97 615.00,589.92 C615.20,586.78 616.19,583.67 617.37,580.48 C618.70,576.91 620.70,573.04 622.82,569.59 C624.94,566.14 627.48,563.01 630.08,559.80 C632.76,556.48 635.82,552.93 638.67,550.02 C641.19,547.44 643.78,545.65 646.19,543.10 C648.75,540.38 651.02,537.46 653.53,534.13 C656.47,530.22 659.80,525.61 662.62,520.99 C665.55,516.19 668.36,510.76 670.71,505.83 C672.86,501.31 674.94,496.97 676.31,492.58 C677.59,488.48 678.06,484.64 678.87,480.35 C679.76,475.60 680.48,470.94 681.38,465.30 C682.53,458.04 683.44,447.65 685.16,440.41 C686.53,434.59 688.15,430.09 690.17,425.00 C692.24,419.76 695.30,413.73 697.50,409.45 C699.09,406.35 700.48,404.25 701.88,401.59 C703.28,398.92 704.99,396.34 705.91,393.47 C706.84,390.56 707.07,386.88 707.38,384.24 C707.62,382.29 707.71,380.77 707.80,379.10 C707.88,377.52 707.92,376.02 707.90,374.48 C707.88,372.93 707.83,371.41 707.69,369.84 C707.56,368.22 707.33,366.54 707.08,364.90 C706.82,363.28 706.54,361.74 706.15,360.06 C705.72,358.22 705.34,356.33 704.56,354.29 C703.61,351.80 701.96,348.97 700.58,346.32 C699.19,343.64 697.80,340.93 696.23,338.32 C694.63,335.67 692.56,333.17 691.04,330.55 C689.60,328.04 688.23,325.51 687.28,322.94 C686.37,320.47 685.84,318.28 685.38,315.44 C684.80,311.82 684.70,307.47 684.50,302.93 C684.26,297.48 684.27,291.05 684.20,284.98 C684.13,278.74 684.12,272.05 684.10,265.99 C684.09,260.44 684.02,255.09 684.10,250.03 C684.17,245.42 684.16,241.20 684.49,236.84 C684.82,232.52 685.26,227.61 686.06,223.97 C686.67,221.19 687.05,218.74 688.38,216.76 C689.66,214.85 691.69,213.22 693.80,212.22 C696.01,211.18 698.83,210.81 701.40,210.80Z"/></clipPath>
<clipPath id="u8"><rect x="0" y="0" width="1385" height="541.00"/></clipPath>
<clipPath id="d8"><rect x="0" y="541.00" width="1385" height="300"/></clipPath>
<clipPath id="h9"><path d="M701.40,210.80 C704.03,210.79 707.16,211.14 709.40,212.22 C711.46,213.22 713.27,214.86 714.51,216.74 C715.83,218.73 716.35,221.16 716.93,223.95 C717.69,227.57 718.00,232.45 718.10,236.74 C718.20,241.09 717.77,245.29 717.50,249.89 C717.21,254.96 716.74,260.32 716.40,265.89 C716.04,271.96 715.62,278.66 715.40,284.93 C715.19,291.04 715.02,297.50 715.10,303.02 C715.17,307.68 715.21,312.10 715.71,315.91 C716.12,319.01 716.56,321.54 717.51,324.24 C718.50,327.05 720.16,329.75 721.64,332.42 C723.11,335.09 724.80,337.65 726.37,340.28 C727.94,342.90 729.50,345.55 731.07,348.18 C732.63,350.79 734.33,353.61 735.78,355.99 C737.00,357.99 738.10,359.74 739.18,361.50 C740.19,363.12 741.14,364.63 742.07,366.18 C742.98,367.69 744.18,369.20 744.73,370.69 C745.20,371.97 745.40,373.23 745.40,374.50 C745.40,375.77 745.19,377.01 744.72,378.33 C744.16,379.91 742.86,381.31 741.96,383.23 C740.80,385.72 739.82,389.31 738.56,392.13 C737.37,394.81 736.05,397.23 734.64,399.78 C733.17,402.43 731.55,404.58 729.90,407.75 C727.63,412.10 724.47,418.28 722.70,423.70 C720.98,428.95 720.18,434.15 719.32,439.72 C718.40,445.69 718.02,452.12 717.51,458.45 C716.98,464.93 716.71,472.40 716.21,478.14 C715.82,482.63 715.27,486.34 714.91,490.12 C714.58,493.51 714.45,496.52 714.11,499.80 C713.76,503.22 713.51,507.32 712.84,510.23 C712.33,512.41 711.59,513.66 710.89,515.83 C709.94,518.77 709.07,522.93 707.73,526.30 C706.40,529.66 704.79,532.76 702.87,536.03 C700.75,539.64 697.99,543.07 695.41,546.95 C692.52,551.32 689.29,556.38 686.39,560.99 C683.61,565.42 680.63,569.79 678.33,574.10 C676.23,578.02 674.86,582.28 673.02,585.72 C671.46,588.64 670.15,590.88 668.19,593.55 C665.86,596.72 662.78,600.45 659.70,603.31 C656.74,606.07 653.54,608.73 650.11,610.52 C646.82,612.25 642.99,613.69 639.59,614.01 C636.50,614.30 633.49,613.87 630.57,612.82 C627.35,611.67 623.67,609.44 621.21,607.03 C618.93,604.78 617.12,601.92 616.08,599.05 C615.07,596.22 614.80,592.97 615.00,589.92 C615.20,586.78 616.19,583.67 617.37,580.48 C618.70,576.91 620.70,573.04 622.82,569.59 C624.94,566.14 627.48,563.01 630.08,559.80 C632.76,556.48 635.82,552.93 638.67,550.02 C641.19,547.44 643.78,545.65 646.19,543.10 C648.75,540.38 651.02,537.46 653.53,534.13 C656.47,530.22 659.80,525.61 662.62,520.99 C665.55,516.19 668.36,510.76 670.71,505.83 C672.86,501.31 674.94,496.97 676.31,492.58 C677.59,488.48 678.06,484.64 678.87,480.35 C679.76,475.60 680.48,470.94 681.38,465.30 C682.53,458.04 683.44,447.65 685.16,440.41 C686.53,434.59 688.15,430.09 690.17,425.00 C692.24,419.76 695.30,413.73 697.50,409.45 C699.09,406.35 700.48,404.25 701.88,401.59 C703.28,398.92 704.99,396.34 705.91,393.47 C706.84,390.56 707.07,386.88 707.38,384.24 C707.62,382.29 707.71,380.77 707.80,379.10 C707.88,377.52 707.92,376.02 707.90,374.48 C707.88,372.93 707.83,371.41 707.69,369.84 C707.56,368.22 707.33,366.54 707.08,364.90 C706.82,363.28 706.54,361.74 706.15,360.06 C705.72,358.22 705.34,356.33 704.56,354.29 C703.61,351.80 701.96,348.97 700.58,346.32 C699.19,343.64 697.80,340.93 696.23,338.32 C694.63,335.67 692.56,333.17 691.04,330.55 C689.60,328.04 688.23,325.51 687.28,322.94 C686.37,320.47 685.84,318.28 685.38,315.44 C684.80,311.82 684.70,307.47 684.50,302.93 C684.26,297.48 684.27,291.05 684.20,284.98 C684.13,278.74 684.12,272.05 684.10,265.99 C684.09,260.44 684.02,255.09 684.10,250.03 C684.17,245.42 684.16,241.20 684.49,236.84 C684.82,232.52 685.26,227.61 686.06,223.97 C686.67,221.19 687.05,218.74 688.38,216.76 C689.66,214.85 691.69,213.22 693.80,212.22 C696.01,211.18 698.83,210.81 701.40,210.80Z"/><path d="M786.40,210.80 C788.97,210.81 791.79,211.18 794.00,212.22 C796.11,213.22 798.14,214.85 799.42,216.76 C800.75,218.74 801.13,221.19 801.74,223.97 C802.54,227.61 802.98,232.52 803.31,236.84 C803.64,241.20 803.63,245.42 803.70,250.03 C803.78,255.09 803.71,260.44 803.70,265.99 C803.68,272.05 803.67,278.74 803.60,284.98 C803.53,291.05 803.54,297.48 803.30,302.93 C803.10,307.47 803.00,311.82 802.42,315.44 C801.96,318.28 801.43,320.47 800.52,322.94 C799.57,325.51 798.20,328.04 796.76,330.55 C795.24,333.17 793.17,335.67 791.57,338.32 C790.00,340.93 788.61,343.64 787.22,346.32 C785.84,348.97 784.19,351.80 783.24,354.29 C782.46,356.33 782.08,358.22 781.65,360.06 C781.26,361.74 780.98,363.28 780.72,364.90 C780.47,366.54 780.24,368.22 780.11,369.84 C779.97,371.41 779.92,372.93 779.90,374.48 C779.88,376.02 779.92,377.52 780.00,379.10 C780.09,380.77 780.18,382.29 780.42,384.24 C780.73,386.88 780.96,390.56 781.89,393.47 C782.81,396.34 784.52,398.92 785.92,401.59 C787.32,404.25 788.71,406.35 790.30,409.45 C792.50,413.73 795.56,419.76 797.63,425.00 C799.65,430.10 801.19,434.76 802.66,440.45 C804.41,447.26 805.84,456.33 807.03,463.23 C808.01,468.95 808.69,473.72 809.42,478.96 C810.15,484.19 810.75,489.43 811.42,494.64 C812.08,499.84 812.82,504.68 813.41,510.20 C814.07,516.42 814.70,523.47 815.10,530.11 C815.50,536.75 815.63,543.40 815.80,550.05 C815.97,556.70 816.07,563.84 816.10,570.01 C816.12,575.34 816.30,580.60 816.00,584.90 C815.77,588.20 815.44,590.77 814.84,593.61 C814.25,596.41 813.58,599.34 812.46,601.83 C811.41,604.16 810.07,606.31 808.46,608.16 C806.87,609.99 804.91,611.64 802.89,612.89 C800.94,614.09 798.75,614.97 796.59,615.57 C794.45,616.16 792.21,616.50 790.00,616.50 C787.75,616.50 785.39,616.16 783.20,615.57 C781.01,614.97 778.70,614.16 776.85,612.92 C775.05,611.71 773.56,610.04 772.22,608.26 C770.81,606.38 769.64,604.20 768.65,601.87 C767.58,599.35 766.75,596.42 766.16,593.61 C765.56,590.77 765.29,588.21 765.10,584.92 C764.85,580.64 765.02,575.38 765.20,570.07 C765.40,563.91 766.01,556.77 766.40,550.11 C766.78,543.45 767.08,536.78 767.50,530.12 C767.91,523.45 768.48,516.38 768.90,510.13 C769.27,504.59 769.68,499.71 769.90,494.48 C770.12,489.23 770.20,483.97 770.20,478.70 C770.20,473.41 770.13,468.60 769.90,462.82 C769.62,455.84 769.43,446.73 768.49,439.77 C767.69,433.90 766.82,428.96 765.10,423.70 C763.33,418.28 760.17,412.10 757.90,407.75 C756.25,404.58 754.63,402.43 753.16,399.78 C751.75,397.23 750.43,394.81 749.24,392.13 C747.98,389.31 747.00,385.72 745.84,383.23 C744.94,381.31 743.64,379.91 743.08,378.33 C742.61,377.01 742.40,375.77 742.40,374.50 C742.40,373.23 742.60,371.97 743.07,370.69 C743.62,369.20 744.82,367.69 745.73,366.18 C746.66,364.63 747.61,363.12 748.62,361.50 C749.70,359.74 750.80,357.99 752.02,355.99 C753.47,353.61 755.17,350.79 756.73,348.18 C758.30,345.55 759.86,342.90 761.43,340.28 C763.00,337.65 764.69,335.09 766.16,332.42 C767.64,329.75 769.30,327.05 770.29,324.24 C771.24,321.54 771.68,319.01 772.09,315.91 C772.59,312.10 772.63,307.68 772.70,303.02 C772.78,297.50 772.61,291.04 772.40,284.93 C772.18,278.66 771.76,271.96 771.40,265.89 C771.06,260.32 770.59,254.96 770.30,249.89 C770.03,245.29 769.60,241.09 769.70,236.74 C769.80,232.45 770.11,227.57 770.87,223.95 C771.45,221.16 771.97,218.73 773.29,216.74 C774.53,214.86 776.34,213.22 778.40,212.22 C780.64,211.14 783.77,210.79 786.40,210.80Z"/></clipPath>
<clipPath id="c10"><path d="M564.40,210.80 C567.03,210.79 570.16,211.14 572.40,212.22 C574.46,213.22 576.27,214.86 577.51,216.74 C578.83,218.73 579.35,221.16 579.93,223.95 C580.69,227.57 581.00,232.45 581.10,236.74 C581.20,241.09 580.77,245.29 580.50,249.89 C580.21,254.96 579.74,260.32 579.40,265.89 C579.04,271.96 578.62,278.66 578.40,284.93 C578.19,291.04 578.02,297.50 578.10,303.02 C578.17,307.68 578.21,312.10 578.71,315.91 C579.12,319.01 579.56,321.54 580.51,324.24 C581.50,327.05 583.16,329.75 584.64,332.42 C586.11,335.09 587.80,337.65 589.37,340.28 C590.94,342.90 592.50,345.55 594.07,348.18 C595.63,350.79 597.33,353.61 598.78,355.99 C600.00,357.99 601.10,359.74 602.18,361.50 C603.19,363.12 604.14,364.63 605.07,366.18 C605.98,367.69 607.18,369.20 607.73,370.69 C608.20,371.97 608.40,373.23 608.40,374.50 C608.40,375.77 608.19,377.01 607.72,378.33 C607.16,379.91 605.86,381.31 604.96,383.23 C603.80,385.72 602.82,389.31 601.56,392.13 C600.37,394.81 599.05,397.23 597.64,399.78 C596.17,402.43 594.55,404.58 592.90,407.75 C590.63,412.10 587.47,418.28 585.70,423.70 C583.98,428.96 583.11,433.90 582.31,439.77 C581.37,446.73 581.18,455.84 580.90,462.82 C580.67,468.60 580.60,473.41 580.60,478.70 C580.60,483.97 580.68,489.23 580.90,494.48 C581.12,499.71 581.53,504.59 581.90,510.13 C582.32,516.38 582.89,523.45 583.30,530.12 C583.72,536.78 584.02,543.45 584.40,550.11 C584.79,556.77 585.40,563.91 585.60,570.07 C585.78,575.38 585.95,580.64 585.70,584.92 C585.51,588.21 585.24,590.77 584.64,593.61 C584.05,596.42 583.22,599.35 582.15,601.87 C581.16,604.20 579.99,606.38 578.58,608.26 C577.24,610.04 575.75,611.71 573.95,612.92 C572.10,614.16 569.79,614.97 567.60,615.57 C565.41,616.16 563.05,616.50 560.80,616.50 C558.59,616.50 556.35,616.16 554.21,615.57 C552.05,614.97 549.86,614.09 547.91,612.89 C545.89,611.64 543.93,609.99 542.34,608.16 C540.73,606.31 539.39,604.16 538.34,601.83 C537.22,599.34 536.55,596.41 535.96,593.61 C535.36,590.77 535.03,588.20 534.80,584.90 C534.50,580.60 534.68,575.34 534.70,570.01 C534.73,563.84 534.83,556.70 535.00,550.05 C535.17,543.40 535.30,536.75 535.70,530.11 C536.10,523.47 536.73,516.42 537.39,510.20 C537.98,504.68 538.72,499.84 539.38,494.64 C540.05,489.43 540.65,484.19 541.38,478.96 C542.11,473.72 542.79,468.95 543.77,463.23 C544.96,456.33 546.39,447.26 548.14,440.45 C549.61,434.76 551.15,430.10 553.17,425.00 C555.24,419.76 558.30,413.73 560.50,409.45 C562.09,406.35 563.48,404.25 564.88,401.59 C566.28,398.92 567.99,396.34 568.91,393.47 C569.84,390.56 570.07,386.88 570.38,384.24 C570.62,382.29 570.71,380.77 570.80,379.10 C570.88,377.52 570.92,376.02 570.90,374.48 C570.88,372.93 570.83,371.41 570.69,369.84 C570.56,368.22 570.33,366.54 570.08,364.90 C569.82,363.28 569.54,361.74 569.15,360.06 C568.72,358.22 568.34,356.33 567.56,354.29 C566.61,351.80 564.96,348.97 563.58,346.32 C562.19,343.64 560.80,340.93 559.23,338.32 C557.63,335.67 555.56,333.17 554.04,330.55 C552.60,328.04 551.23,325.51 550.28,322.94 C549.37,320.47 548.84,318.28 548.38,315.44 C547.80,311.82 547.70,307.47 547.50,302.93 C547.26,297.48 547.27,291.05 547.20,284.98 C547.13,278.74 547.12,272.05 547.10,265.99 C547.09,260.44 547.02,255.09 547.10,250.03 C547.17,245.42 547.16,241.20 547.49,236.84 C547.82,232.52 548.26,227.61 549.06,223.97 C549.67,221.19 550.05,218.74 551.38,216.76 C552.66,214.85 554.69,213.22 556.80,212.22 C559.01,211.18 561.83,210.81 564.40,210.80Z"/></clipPath>
<clipPath id="c11"><path d="M649.40,210.80 C651.97,210.81 654.79,211.18 657.00,212.22 C659.11,213.22 661.14,214.85 662.42,216.76 C663.75,218.74 664.13,221.19 664.74,223.97 C665.54,227.61 665.98,232.52 666.31,236.84 C666.64,241.20 666.63,245.42 666.70,250.03 C666.78,255.09 666.71,260.44 666.70,265.99 C666.68,272.05 666.67,278.74 666.60,284.98 C666.53,291.05 666.54,297.48 666.30,302.93 C666.10,307.47 666.00,311.82 665.42,315.44 C664.96,318.28 664.43,320.47 663.52,322.94 C662.57,325.51 661.20,328.04 659.76,330.55 C658.24,333.17 656.17,335.67 654.57,338.32 C653.00,340.93 651.61,343.64 650.22,346.32 C648.84,348.97 647.19,351.80 646.24,354.29 C645.46,356.33 645.08,358.22 644.65,360.06 C644.26,361.74 643.98,363.28 643.72,364.90 C643.47,366.54 643.24,368.22 643.11,369.84 C642.97,371.41 642.92,372.93 642.90,374.48 C642.88,376.02 642.92,377.52 643.00,379.10 C643.09,380.77 643.18,382.29 643.42,384.24 C643.73,386.88 643.96,390.56 644.89,393.47 C645.81,396.34 647.52,398.92 648.92,401.59 C650.32,404.25 651.71,406.35 653.30,409.45 C655.50,413.73 658.56,419.76 660.63,425.00 C662.66,430.11 664.19,435.07 665.66,440.49 C667.25,446.33 668.63,452.67 669.73,458.93 C670.85,465.33 671.72,472.77 672.31,478.51 C672.77,482.99 672.78,486.93 673.21,490.51 C673.57,493.43 673.97,495.96 674.55,498.42 C675.06,500.62 675.73,502.51 676.39,504.57 C677.06,506.67 677.44,508.73 678.53,510.90 C679.85,513.54 682.36,516.60 684.15,519.10 C685.71,521.28 687.21,523.09 688.66,525.11 C690.08,527.09 691.33,529.11 692.76,531.11 C694.22,533.15 695.74,535.33 697.35,537.23 C698.89,539.04 700.64,540.59 702.20,542.29 C703.71,543.93 705.18,545.65 706.57,547.25 C707.86,548.73 709.03,550.14 710.28,551.56 C711.52,552.96 712.84,554.29 714.04,555.72 C715.24,557.15 716.33,558.61 717.48,560.14 C718.68,561.74 719.82,563.44 721.07,565.13 C722.40,566.93 723.94,568.77 725.26,570.61 C726.54,572.39 727.77,574.19 728.88,576.00 C729.97,577.75 731.01,579.42 731.87,581.29 C732.77,583.23 733.63,585.36 734.16,587.46 C734.67,589.52 735.05,591.62 735.00,593.75 C734.95,595.94 734.47,598.45 733.79,600.42 C733.20,602.14 732.27,603.59 731.39,605.00 C730.56,606.30 729.83,607.53 728.71,608.61 C727.46,609.80 725.69,610.88 724.10,611.73 C722.57,612.54 720.94,613.04 719.36,613.61 C717.80,614.17 716.24,614.85 714.66,615.13 C713.13,615.40 711.57,615.33 710.04,615.30 C708.51,615.27 706.97,615.34 705.48,614.96 C703.91,614.57 702.34,613.65 700.85,612.90 C699.39,612.17 698.04,611.64 696.62,610.54 C694.79,609.12 692.80,606.52 691.08,604.70 C689.59,603.11 688.18,601.60 686.89,600.21 C685.79,599.02 684.84,598.20 683.83,596.87 C682.57,595.23 681.36,592.96 680.11,590.98 C678.83,588.98 677.68,586.99 676.26,584.92 C674.70,582.64 672.71,580.25 671.05,577.90 C669.43,575.60 667.84,573.21 666.40,570.97 C665.07,568.90 663.95,566.85 662.68,564.95 C661.50,563.17 660.23,561.58 659.06,559.91 C657.92,558.29 656.74,556.80 655.76,555.07 C654.72,553.24 653.95,551.16 653.02,549.18 C652.06,547.17 651.13,545.12 650.08,543.12 C649.02,541.09 647.73,539.12 646.68,537.12 C645.66,535.16 644.71,533.22 643.84,531.23 C642.97,529.27 642.28,527.24 641.45,525.27 C640.64,523.31 639.64,521.70 638.92,519.46 C638.02,516.64 637.53,512.44 636.85,509.57 C636.32,507.34 635.64,505.62 635.27,503.64 C634.90,501.72 634.74,499.96 634.60,497.88 C634.43,495.45 634.46,492.88 634.40,489.96 C634.33,486.37 634.32,482.43 634.20,477.95 C634.05,472.23 633.96,464.89 633.50,458.47 C633.04,452.15 632.43,445.69 631.48,439.71 C630.59,434.14 629.82,428.94 628.10,423.70 C626.33,418.28 623.17,412.10 620.90,407.75 C619.25,404.58 617.63,402.43 616.16,399.78 C614.75,397.23 613.43,394.81 612.24,392.13 C610.98,389.31 610.00,385.72 608.84,383.23 C607.94,381.31 606.64,379.91 606.08,378.33 C605.61,377.01 605.40,375.77 605.40,374.50 C605.40,373.23 605.60,371.97 606.07,370.69 C606.62,369.20 607.82,367.69 608.73,366.18 C609.66,364.63 610.61,363.12 611.62,361.50 C612.70,359.74 613.80,357.99 615.02,355.99 C616.47,353.61 618.17,350.79 619.73,348.18 C621.30,345.55 622.86,342.90 624.43,340.28 C626.00,337.65 627.69,335.09 629.16,332.42 C630.64,329.75 632.30,327.05 633.29,324.24 C634.24,321.54 634.68,319.01 635.09,315.91 C635.59,312.10 635.63,307.68 635.70,303.02 C635.78,297.50 635.61,291.04 635.40,284.93 C635.18,278.66 634.76,271.96 634.40,265.89 C634.06,260.32 633.59,254.96 633.30,249.89 C633.03,245.29 632.60,241.09 632.70,236.74 C632.80,232.45 633.11,227.57 633.87,223.95 C634.45,221.16 634.97,218.73 636.29,216.74 C637.53,214.86 639.34,213.22 641.40,212.22 C643.64,211.14 646.77,210.79 649.40,210.80Z"/></clipPath>
<clipPath id="h12"><path d="M564.40,210.80 C567.03,210.79 570.16,211.14 572.40,212.22 C574.46,213.22 576.27,214.86 577.51,216.74 C578.83,218.73 579.35,221.16 579.93,223.95 C580.69,227.57 581.00,232.45 581.10,236.74 C581.20,241.09 580.77,245.29 580.50,249.89 C580.21,254.96 579.74,260.32 579.40,265.89 C579.04,271.96 578.62,278.66 578.40,284.93 C578.19,291.04 578.02,297.50 578.10,303.02 C578.17,307.68 578.21,312.10 578.71,315.91 C579.12,319.01 579.56,321.54 580.51,324.24 C581.50,327.05 583.16,329.75 584.64,332.42 C586.11,335.09 587.80,337.65 589.37,340.28 C590.94,342.90 592.50,345.55 594.07,348.18 C595.63,350.79 597.33,353.61 598.78,355.99 C600.00,357.99 601.10,359.74 602.18,361.50 C603.19,363.12 604.14,364.63 605.07,366.18 C605.98,367.69 607.18,369.20 607.73,370.69 C608.20,371.97 608.40,373.23 608.40,374.50 C608.40,375.77 608.19,377.01 607.72,378.33 C607.16,379.91 605.86,381.31 604.96,383.23 C603.80,385.72 602.82,389.31 601.56,392.13 C600.37,394.81 599.05,397.23 597.64,399.78 C596.17,402.43 594.55,404.58 592.90,407.75 C590.63,412.10 587.47,418.28 585.70,423.70 C583.98,428.96 583.11,433.90 582.31,439.77 C581.37,446.73 581.18,455.84 580.90,462.82 C580.67,468.60 580.60,473.41 580.60,478.70 C580.60,483.97 580.68,489.23 580.90,494.48 C581.12,499.71 581.53,504.59 581.90,510.13 C582.32,516.38 582.89,523.45 583.30,530.12 C583.72,536.78 584.02,543.45 584.40,550.11 C584.79,556.77 585.40,563.91 585.60,570.07 C585.78,575.38 585.95,580.64 585.70,584.92 C585.51,588.21 585.24,590.77 584.64,593.61 C584.05,596.42 583.22,599.35 582.15,601.87 C581.16,604.20 579.99,606.38 578.58,608.26 C577.24,610.04 575.75,611.71 573.95,612.92 C572.10,614.16 569.79,614.97 567.60,615.57 C565.41,616.16 563.05,616.50 560.80,616.50 C558.59,616.50 556.35,616.16 554.21,615.57 C552.05,614.97 549.86,614.09 547.91,612.89 C545.89,611.64 543.93,609.99 542.34,608.16 C540.73,606.31 539.39,604.16 538.34,601.83 C537.22,599.34 536.55,596.41 535.96,593.61 C535.36,590.77 535.03,588.20 534.80,584.90 C534.50,580.60 534.68,575.34 534.70,570.01 C534.73,563.84 534.83,556.70 535.00,550.05 C535.17,543.40 535.30,536.75 535.70,530.11 C536.10,523.47 536.73,516.42 537.39,510.20 C537.98,504.68 538.72,499.84 539.38,494.64 C540.05,489.43 540.65,484.19 541.38,478.96 C542.11,473.72 542.79,468.95 543.77,463.23 C544.96,456.33 546.39,447.26 548.14,440.45 C549.61,434.76 551.15,430.10 553.17,425.00 C555.24,419.76 558.30,413.73 560.50,409.45 C562.09,406.35 563.48,404.25 564.88,401.59 C566.28,398.92 567.99,396.34 568.91,393.47 C569.84,390.56 570.07,386.88 570.38,384.24 C570.62,382.29 570.71,380.77 570.80,379.10 C570.88,377.52 570.92,376.02 570.90,374.48 C570.88,372.93 570.83,371.41 570.69,369.84 C570.56,368.22 570.33,366.54 570.08,364.90 C569.82,363.28 569.54,361.74 569.15,360.06 C568.72,358.22 568.34,356.33 567.56,354.29 C566.61,351.80 564.96,348.97 563.58,346.32 C562.19,343.64 560.80,340.93 559.23,338.32 C557.63,335.67 555.56,333.17 554.04,330.55 C552.60,328.04 551.23,325.51 550.28,322.94 C549.37,320.47 548.84,318.28 548.38,315.44 C547.80,311.82 547.70,307.47 547.50,302.93 C547.26,297.48 547.27,291.05 547.20,284.98 C547.13,278.74 547.12,272.05 547.10,265.99 C547.09,260.44 547.02,255.09 547.10,250.03 C547.17,245.42 547.16,241.20 547.49,236.84 C547.82,232.52 548.26,227.61 549.06,223.97 C549.67,221.19 550.05,218.74 551.38,216.76 C552.66,214.85 554.69,213.22 556.80,212.22 C559.01,211.18 561.83,210.81 564.40,210.80Z"/><path d="M649.40,210.80 C651.97,210.81 654.79,211.18 657.00,212.22 C659.11,213.22 661.14,214.85 662.42,216.76 C663.75,218.74 664.13,221.19 664.74,223.97 C665.54,227.61 665.98,232.52 666.31,236.84 C666.64,241.20 666.63,245.42 666.70,250.03 C666.78,255.09 666.71,260.44 666.70,265.99 C666.68,272.05 666.67,278.74 666.60,284.98 C666.53,291.05 666.54,297.48 666.30,302.93 C666.10,307.47 666.00,311.82 665.42,315.44 C664.96,318.28 664.43,320.47 663.52,322.94 C662.57,325.51 661.20,328.04 659.76,330.55 C658.24,333.17 656.17,335.67 654.57,338.32 C653.00,340.93 651.61,343.64 650.22,346.32 C648.84,348.97 647.19,351.80 646.24,354.29 C645.46,356.33 645.08,358.22 644.65,360.06 C644.26,361.74 643.98,363.28 643.72,364.90 C643.47,366.54 643.24,368.22 643.11,369.84 C642.97,371.41 642.92,372.93 642.90,374.48 C642.88,376.02 642.92,377.52 643.00,379.10 C643.09,380.77 643.18,382.29 643.42,384.24 C643.73,386.88 643.96,390.56 644.89,393.47 C645.81,396.34 647.52,398.92 648.92,401.59 C650.32,404.25 651.71,406.35 653.30,409.45 C655.50,413.73 658.56,419.76 660.63,425.00 C662.66,430.11 664.19,435.07 665.66,440.49 C667.25,446.33 668.63,452.67 669.73,458.93 C670.85,465.33 671.72,472.77 672.31,478.51 C672.77,482.99 672.78,486.93 673.21,490.51 C673.57,493.43 673.97,495.96 674.55,498.42 C675.06,500.62 675.73,502.51 676.39,504.57 C677.06,506.67 677.44,508.73 678.53,510.90 C679.85,513.54 682.36,516.60 684.15,519.10 C685.71,521.28 687.21,523.09 688.66,525.11 C690.08,527.09 691.33,529.11 692.76,531.11 C694.22,533.15 695.74,535.33 697.35,537.23 C698.89,539.04 700.64,540.59 702.20,542.29 C703.71,543.93 705.18,545.65 706.57,547.25 C707.86,548.73 709.03,550.14 710.28,551.56 C711.52,552.96 712.84,554.29 714.04,555.72 C715.24,557.15 716.33,558.61 717.48,560.14 C718.68,561.74 719.82,563.44 721.07,565.13 C722.40,566.93 723.94,568.77 725.26,570.61 C726.54,572.39 727.77,574.19 728.88,576.00 C729.97,577.75 731.01,579.42 731.87,581.29 C732.77,583.23 733.63,585.36 734.16,587.46 C734.67,589.52 735.05,591.62 735.00,593.75 C734.95,595.94 734.47,598.45 733.79,600.42 C733.20,602.14 732.27,603.59 731.39,605.00 C730.56,606.30 729.83,607.53 728.71,608.61 C727.46,609.80 725.69,610.88 724.10,611.73 C722.57,612.54 720.94,613.04 719.36,613.61 C717.80,614.17 716.24,614.85 714.66,615.13 C713.13,615.40 711.57,615.33 710.04,615.30 C708.51,615.27 706.97,615.34 705.48,614.96 C703.91,614.57 702.34,613.65 700.85,612.90 C699.39,612.17 698.04,611.64 696.62,610.54 C694.79,609.12 692.80,606.52 691.08,604.70 C689.59,603.11 688.18,601.60 686.89,600.21 C685.79,599.02 684.84,598.20 683.83,596.87 C682.57,595.23 681.36,592.96 680.11,590.98 C678.83,588.98 677.68,586.99 676.26,584.92 C674.70,582.64 672.71,580.25 671.05,577.90 C669.43,575.60 667.84,573.21 666.40,570.97 C665.07,568.90 663.95,566.85 662.68,564.95 C661.50,563.17 660.23,561.58 659.06,559.91 C657.92,558.29 656.74,556.80 655.76,555.07 C654.72,553.24 653.95,551.16 653.02,549.18 C652.06,547.17 651.13,545.12 650.08,543.12 C649.02,541.09 647.73,539.12 646.68,537.12 C645.66,535.16 644.71,533.22 643.84,531.23 C642.97,529.27 642.28,527.24 641.45,525.27 C640.64,523.31 639.64,521.70 638.92,519.46 C638.02,516.64 637.53,512.44 636.85,509.57 C636.32,507.34 635.64,505.62 635.27,503.64 C634.90,501.72 634.74,499.96 634.60,497.88 C634.43,495.45 634.46,492.88 634.40,489.96 C634.33,486.37 634.32,482.43 634.20,477.95 C634.05,472.23 633.96,464.89 633.50,458.47 C633.04,452.15 632.43,445.69 631.48,439.71 C630.59,434.14 629.82,428.94 628.10,423.70 C626.33,418.28 623.17,412.10 620.90,407.75 C619.25,404.58 617.63,402.43 616.16,399.78 C614.75,397.23 613.43,394.81 612.24,392.13 C610.98,389.31 610.00,385.72 608.84,383.23 C607.94,381.31 606.64,379.91 606.08,378.33 C605.61,377.01 605.40,375.77 605.40,374.50 C605.40,373.23 605.60,371.97 606.07,370.69 C606.62,369.20 607.82,367.69 608.73,366.18 C609.66,364.63 610.61,363.12 611.62,361.50 C612.70,359.74 613.80,357.99 615.02,355.99 C616.47,353.61 618.17,350.79 619.73,348.18 C621.30,345.55 622.86,342.90 624.43,340.28 C626.00,337.65 627.69,335.09 629.16,332.42 C630.64,329.75 632.30,327.05 633.29,324.24 C634.24,321.54 634.68,319.01 635.09,315.91 C635.59,312.10 635.63,307.68 635.70,303.02 C635.78,297.50 635.61,291.04 635.40,284.93 C635.18,278.66 634.76,271.96 634.40,265.89 C634.06,260.32 633.59,254.96 633.30,249.89 C633.03,245.29 632.60,241.09 632.70,236.74 C632.80,232.45 633.11,227.57 633.87,223.95 C634.45,221.16 634.97,218.73 636.29,216.74 C637.53,214.86 639.34,213.22 641.40,212.22 C643.64,211.14 646.77,210.79 649.40,210.80Z"/></clipPath>
<clipPath id="c13"><path d="M1006.20,217.60 C1008.83,217.59 1011.96,217.94 1014.20,219.02 C1016.26,220.02 1018.07,221.66 1019.31,223.54 C1020.63,225.53 1021.15,227.96 1021.73,230.75 C1022.49,234.37 1022.80,239.25 1022.90,243.54 C1023.00,247.89 1022.57,252.09 1022.30,256.69 C1022.01,261.76 1021.54,267.12 1021.20,272.69 C1020.84,278.76 1020.42,285.46 1020.20,291.73 C1019.99,297.84 1019.82,304.30 1019.90,309.82 C1019.97,314.48 1020.01,318.90 1020.51,322.71 C1020.92,325.81 1021.36,328.34 1022.31,331.04 C1023.30,333.85 1024.96,336.55 1026.44,339.22 C1027.91,341.89 1029.60,344.45 1031.17,347.08 C1032.74,349.70 1034.30,352.35 1035.87,354.98 C1037.43,357.59 1039.13,360.41 1040.58,362.79 C1041.80,364.79 1042.90,366.54 1043.98,368.30 C1044.99,369.92 1045.94,371.43 1046.87,372.98 C1047.78,374.49 1048.98,376.00 1049.53,377.49 C1050.00,378.77 1050.20,380.03 1050.20,381.30 C1050.20,382.57 1049.99,383.81 1049.52,385.13 C1048.96,386.71 1047.66,388.11 1046.76,390.03 C1045.60,392.52 1044.62,396.11 1043.36,398.93 C1042.17,401.61 1040.85,404.03 1039.44,406.58 C1037.97,409.23 1036.35,411.38 1034.70,414.55 C1032.43,418.90 1029.27,425.08 1027.50,430.50 C1025.78,435.76 1024.91,440.70 1024.11,446.57 C1023.17,453.53 1022.98,462.64 1022.70,469.62 C1022.47,475.40 1022.40,480.21 1022.40,485.50 C1022.40,490.77 1022.48,496.03 1022.70,501.28 C1022.92,506.51 1023.33,511.39 1023.70,516.93 C1024.12,523.18 1024.69,530.25 1025.10,536.92 C1025.52,543.58 1025.82,550.25 1026.20,556.91 C1026.59,563.57 1027.20,570.71 1027.40,576.87 C1027.58,582.18 1027.75,587.44 1027.50,591.72 C1027.31,595.01 1027.04,597.57 1026.44,600.41 C1025.85,603.22 1025.02,606.15 1023.95,608.67 C1022.96,611.00 1021.79,613.18 1020.38,615.06 C1019.04,616.84 1017.55,618.51 1015.75,619.72 C1013.90,620.96 1011.59,621.77 1009.40,622.37 C1007.21,622.96 1004.85,623.30 1002.60,623.30 C1000.39,623.30 998.15,622.96 996.01,622.37 C993.85,621.77 991.66,620.89 989.71,619.69 C987.69,618.44 985.73,616.79 984.14,614.96 C982.53,613.11 981.19,610.96 980.14,608.63 C979.02,606.14 978.35,603.21 977.76,600.41 C977.16,597.57 976.83,595.00 976.60,591.70 C976.30,587.40 976.48,582.14 976.50,576.81 C976.53,570.64 976.63,563.50 976.80,556.85 C976.97,550.20 977.10,543.55 977.50,536.91 C977.90,530.27 978.53,523.22 979.19,517.00 C979.78,511.48 980.52,506.64 981.18,501.44 C981.85,496.23 982.45,490.99 983.18,485.76 C983.91,480.52 984.59,475.75 985.57,470.03 C986.76,463.13 988.19,454.06 989.94,447.25 C991.41,441.56 992.95,436.90 994.97,431.80 C997.04,426.56 1000.10,420.53 1002.30,416.25 C1003.89,413.15 1005.28,411.05 1006.68,408.39 C1008.08,405.72 1009.79,403.14 1010.71,400.27 C1011.64,397.36 1011.87,393.68 1012.18,391.04 C1012.42,389.09 1012.51,387.57 1012.60,385.90 C1012.68,384.32 1012.72,382.82 1012.70,381.28 C1012.68,379.73 1012.63,378.21 1012.49,376.64 C1012.36,375.02 1012.13,373.34 1011.88,371.70 C1011.62,370.08 1011.34,368.54 1010.95,366.86 C1010.52,365.02 1010.14,363.13 1009.36,361.09 C1008.41,358.60 1006.76,355.77 1005.38,353.12 C1003.99,350.44 1002.60,347.73 1001.03,345.12 C999.43,342.47 997.36,339.97 995.84,337.35 C994.40,334.84 993.03,332.31 992.08,329.74 C991.17,327.27 990.64,325.08 990.18,322.24 C989.60,318.62 989.50,314.27 989.30,309.73 C989.06,304.28 989.07,297.85 989.00,291.78 C988.93,285.54 988.92,278.85 988.90,272.79 C988.89,267.24 988.82,261.89 988.90,256.83 C988.97,252.22 988.96,248.00 989.29,243.64 C989.62,239.32 990.06,234.41 990.86,230.77 C991.47,227.99 991.85,225.54 993.18,223.56 C994.46,221.65 996.49,220.02 998.60,219.02 C1000.81,217.98 1003.63,217.61 1006.20,217.60Z"/></clipPath>
<clipPath id="c14"><path d="M1091.20,217.60 C1093.77,217.61 1096.59,217.98 1098.80,219.02 C1100.91,220.02 1102.94,221.65 1104.22,223.56 C1105.55,225.54 1105.93,227.99 1106.54,230.77 C1107.34,234.41 1107.78,239.32 1108.11,243.64 C1108.44,248.00 1108.43,252.22 1108.50,256.83 C1108.58,261.89 1108.51,267.24 1108.50,272.79 C1108.48,278.85 1108.47,285.54 1108.40,291.78 C1108.33,297.85 1108.34,304.28 1108.10,309.73 C1107.90,314.27 1107.80,318.62 1107.22,322.24 C1106.76,325.08 1106.23,327.27 1105.32,329.74 C1104.37,332.31 1103.00,334.84 1101.56,337.35 C1100.04,339.97 1097.97,342.47 1096.37,345.12 C1094.80,347.73 1093.41,350.44 1092.02,353.12 C1090.64,355.77 1088.99,358.60 1088.04,361.09 C1087.26,363.13 1086.88,365.02 1086.45,366.86 C1086.06,368.54 1085.78,370.08 1085.52,371.70 C1085.27,373.34 1085.04,375.02 1084.91,376.64 C1084.77,378.21 1084.72,379.73 1084.70,381.28 C1084.68,382.82 1084.72,384.32 1084.80,385.90 C1084.89,387.57 1084.98,389.09 1085.22,391.04 C1085.53,393.68 1085.76,397.36 1086.69,400.27 C1087.61,403.14 1089.32,405.72 1090.72,408.39 C1092.12,411.05 1093.51,413.15 1095.10,416.25 C1097.30,420.53 1100.36,426.56 1102.43,431.80 C1104.45,436.90 1105.99,441.56 1107.46,447.25 C1109.21,454.06 1110.64,463.13 1111.83,470.03 C1112.81,475.75 1113.49,480.52 1114.22,485.76 C1114.95,490.99 1115.55,496.23 1116.22,501.44 C1116.88,506.64 1117.62,511.48 1118.21,517.00 C1118.87,523.22 1119.50,530.27 1119.90,536.91 C1120.30,543.55 1120.43,550.20 1120.60,556.85 C1120.77,563.50 1120.87,570.64 1120.90,576.81 C1120.92,582.14 1121.10,587.40 1120.80,591.70 C1120.57,595.00 1120.24,597.57 1119.64,600.41 C1119.05,603.21 1118.38,606.14 1117.26,608.63 C1116.21,610.96 1114.87,613.11 1113.26,614.96 C1111.67,616.79 1109.71,618.44 1107.69,619.69 C1105.74,620.89 1103.55,621.77 1101.39,622.37 C1099.25,622.96 1097.01,623.30 1094.80,623.30 C1092.55,623.30 1090.19,622.96 1088.00,622.37 C1085.81,621.77 1083.50,620.96 1081.65,619.72 C1079.85,618.51 1078.36,616.84 1077.02,615.06 C1075.61,613.18 1074.44,611.00 1073.45,608.67 C1072.38,606.15 1071.55,603.22 1070.96,600.41 C1070.36,597.57 1070.09,595.01 1069.90,591.72 C1069.65,587.44 1069.82,582.18 1070.00,576.87 C1070.20,570.71 1070.81,563.57 1071.20,556.91 C1071.58,550.25 1071.88,543.58 1072.30,536.92 C1072.71,530.25 1073.28,523.18 1073.70,516.93 C1074.07,511.39 1074.48,506.51 1074.70,501.28 C1074.92,496.03 1075.00,490.77 1075.00,485.50 C1075.00,480.21 1074.93,475.40 1074.70,469.62 C1074.42,462.64 1074.23,453.53 1073.29,446.57 C1072.49,440.70 1071.62,435.76 1069.90,430.50 C1068.13,425.08 1064.97,418.90 1062.70,414.55 C1061.05,411.38 1059.43,409.23 1057.96,406.58 C1056.55,404.03 1055.23,401.61 1054.04,398.93 C1052.78,396.11 1051.80,392.52 1050.64,390.03 C1049.74,388.11 1048.44,386.71 1047.88,385.13 C1047.41,383.81 1047.20,382.57 1047.20,381.30 C1047.20,380.03 1047.40,378.77 1047.87,377.49 C1048.42,376.00 1049.62,374.49 1050.53,372.98 C1051.46,371.43 1052.41,369.92 1053.42,368.30 C1054.50,366.54 1055.60,364.79 1056.82,362.79 C1058.27,360.41 1059.97,357.59 1061.53,354.98 C1063.10,352.35 1064.66,349.70 1066.23,347.08 C1067.80,344.45 1069.49,341.89 1070.96,339.22 C1072.44,336.55 1074.10,333.85 1075.09,331.04 C1076.04,328.34 1076.48,325.81 1076.89,322.71 C1077.39,318.90 1077.43,314.48 1077.50,309.82 C1077.58,304.30 1077.41,297.84 1077.20,291.73 C1076.98,285.46 1076.56,278.76 1076.20,272.69 C1075.86,267.12 1075.39,261.76 1075.10,256.69 C1074.83,252.09 1074.40,247.89 1074.50,243.54 C1074.60,239.25 1074.91,234.37 1075.67,230.75 C1076.25,227.96 1076.77,225.53 1078.09,223.54 C1079.33,221.66 1081.14,220.02 1083.20,219.02 C1085.44,217.94 1088.57,217.59 1091.20,217.60Z"/></clipPath>
<clipPath id="u14"><rect x="0" y="0" width="1385" height="551.30"/></clipPath>
<clipPath id="d14"><rect x="0" y="551.30" width="1385" height="300"/></clipPath>
<clipPath id="h15"><path d="M1006.20,217.60 C1008.83,217.59 1011.96,217.94 1014.20,219.02 C1016.26,220.02 1018.07,221.66 1019.31,223.54 C1020.63,225.53 1021.15,227.96 1021.73,230.75 C1022.49,234.37 1022.80,239.25 1022.90,243.54 C1023.00,247.89 1022.57,252.09 1022.30,256.69 C1022.01,261.76 1021.54,267.12 1021.20,272.69 C1020.84,278.76 1020.42,285.46 1020.20,291.73 C1019.99,297.84 1019.82,304.30 1019.90,309.82 C1019.97,314.48 1020.01,318.90 1020.51,322.71 C1020.92,325.81 1021.36,328.34 1022.31,331.04 C1023.30,333.85 1024.96,336.55 1026.44,339.22 C1027.91,341.89 1029.60,344.45 1031.17,347.08 C1032.74,349.70 1034.30,352.35 1035.87,354.98 C1037.43,357.59 1039.13,360.41 1040.58,362.79 C1041.80,364.79 1042.90,366.54 1043.98,368.30 C1044.99,369.92 1045.94,371.43 1046.87,372.98 C1047.78,374.49 1048.98,376.00 1049.53,377.49 C1050.00,378.77 1050.20,380.03 1050.20,381.30 C1050.20,382.57 1049.99,383.81 1049.52,385.13 C1048.96,386.71 1047.66,388.11 1046.76,390.03 C1045.60,392.52 1044.62,396.11 1043.36,398.93 C1042.17,401.61 1040.85,404.03 1039.44,406.58 C1037.97,409.23 1036.35,411.38 1034.70,414.55 C1032.43,418.90 1029.27,425.08 1027.50,430.50 C1025.78,435.76 1024.91,440.70 1024.11,446.57 C1023.17,453.53 1022.98,462.64 1022.70,469.62 C1022.47,475.40 1022.40,480.21 1022.40,485.50 C1022.40,490.77 1022.48,496.03 1022.70,501.28 C1022.92,506.51 1023.33,511.39 1023.70,516.93 C1024.12,523.18 1024.69,530.25 1025.10,536.92 C1025.52,543.58 1025.82,550.25 1026.20,556.91 C1026.59,563.57 1027.20,570.71 1027.40,576.87 C1027.58,582.18 1027.75,587.44 1027.50,591.72 C1027.31,595.01 1027.04,597.57 1026.44,600.41 C1025.85,603.22 1025.02,606.15 1023.95,608.67 C1022.96,611.00 1021.79,613.18 1020.38,615.06 C1019.04,616.84 1017.55,618.51 1015.75,619.72 C1013.90,620.96 1011.59,621.77 1009.40,622.37 C1007.21,622.96 1004.85,623.30 1002.60,623.30 C1000.39,623.30 998.15,622.96 996.01,622.37 C993.85,621.77 991.66,620.89 989.71,619.69 C987.69,618.44 985.73,616.79 984.14,614.96 C982.53,613.11 981.19,610.96 980.14,608.63 C979.02,606.14 978.35,603.21 977.76,600.41 C977.16,597.57 976.83,595.00 976.60,591.70 C976.30,587.40 976.48,582.14 976.50,576.81 C976.53,570.64 976.63,563.50 976.80,556.85 C976.97,550.20 977.10,543.55 977.50,536.91 C977.90,530.27 978.53,523.22 979.19,517.00 C979.78,511.48 980.52,506.64 981.18,501.44 C981.85,496.23 982.45,490.99 983.18,485.76 C983.91,480.52 984.59,475.75 985.57,470.03 C986.76,463.13 988.19,454.06 989.94,447.25 C991.41,441.56 992.95,436.90 994.97,431.80 C997.04,426.56 1000.10,420.53 1002.30,416.25 C1003.89,413.15 1005.28,411.05 1006.68,408.39 C1008.08,405.72 1009.79,403.14 1010.71,400.27 C1011.64,397.36 1011.87,393.68 1012.18,391.04 C1012.42,389.09 1012.51,387.57 1012.60,385.90 C1012.68,384.32 1012.72,382.82 1012.70,381.28 C1012.68,379.73 1012.63,378.21 1012.49,376.64 C1012.36,375.02 1012.13,373.34 1011.88,371.70 C1011.62,370.08 1011.34,368.54 1010.95,366.86 C1010.52,365.02 1010.14,363.13 1009.36,361.09 C1008.41,358.60 1006.76,355.77 1005.38,353.12 C1003.99,350.44 1002.60,347.73 1001.03,345.12 C999.43,342.47 997.36,339.97 995.84,337.35 C994.40,334.84 993.03,332.31 992.08,329.74 C991.17,327.27 990.64,325.08 990.18,322.24 C989.60,318.62 989.50,314.27 989.30,309.73 C989.06,304.28 989.07,297.85 989.00,291.78 C988.93,285.54 988.92,278.85 988.90,272.79 C988.89,267.24 988.82,261.89 988.90,256.83 C988.97,252.22 988.96,248.00 989.29,243.64 C989.62,239.32 990.06,234.41 990.86,230.77 C991.47,227.99 991.85,225.54 993.18,223.56 C994.46,221.65 996.49,220.02 998.60,219.02 C1000.81,217.98 1003.63,217.61 1006.20,217.60Z"/><path d="M1091.20,217.60 C1093.77,217.61 1096.59,217.98 1098.80,219.02 C1100.91,220.02 1102.94,221.65 1104.22,223.56 C1105.55,225.54 1105.93,227.99 1106.54,230.77 C1107.34,234.41 1107.78,239.32 1108.11,243.64 C1108.44,248.00 1108.43,252.22 1108.50,256.83 C1108.58,261.89 1108.51,267.24 1108.50,272.79 C1108.48,278.85 1108.47,285.54 1108.40,291.78 C1108.33,297.85 1108.34,304.28 1108.10,309.73 C1107.90,314.27 1107.80,318.62 1107.22,322.24 C1106.76,325.08 1106.23,327.27 1105.32,329.74 C1104.37,332.31 1103.00,334.84 1101.56,337.35 C1100.04,339.97 1097.97,342.47 1096.37,345.12 C1094.80,347.73 1093.41,350.44 1092.02,353.12 C1090.64,355.77 1088.99,358.60 1088.04,361.09 C1087.26,363.13 1086.88,365.02 1086.45,366.86 C1086.06,368.54 1085.78,370.08 1085.52,371.70 C1085.27,373.34 1085.04,375.02 1084.91,376.64 C1084.77,378.21 1084.72,379.73 1084.70,381.28 C1084.68,382.82 1084.72,384.32 1084.80,385.90 C1084.89,387.57 1084.98,389.09 1085.22,391.04 C1085.53,393.68 1085.76,397.36 1086.69,400.27 C1087.61,403.14 1089.32,405.72 1090.72,408.39 C1092.12,411.05 1093.51,413.15 1095.10,416.25 C1097.30,420.53 1100.36,426.56 1102.43,431.80 C1104.45,436.90 1105.99,441.56 1107.46,447.25 C1109.21,454.06 1110.64,463.13 1111.83,470.03 C1112.81,475.75 1113.49,480.52 1114.22,485.76 C1114.95,490.99 1115.55,496.23 1116.22,501.44 C1116.88,506.64 1117.62,511.48 1118.21,517.00 C1118.87,523.22 1119.50,530.27 1119.90,536.91 C1120.30,543.55 1120.43,550.20 1120.60,556.85 C1120.77,563.50 1120.87,570.64 1120.90,576.81 C1120.92,582.14 1121.10,587.40 1120.80,591.70 C1120.57,595.00 1120.24,597.57 1119.64,600.41 C1119.05,603.21 1118.38,606.14 1117.26,608.63 C1116.21,610.96 1114.87,613.11 1113.26,614.96 C1111.67,616.79 1109.71,618.44 1107.69,619.69 C1105.74,620.89 1103.55,621.77 1101.39,622.37 C1099.25,622.96 1097.01,623.30 1094.80,623.30 C1092.55,623.30 1090.19,622.96 1088.00,622.37 C1085.81,621.77 1083.50,620.96 1081.65,619.72 C1079.85,618.51 1078.36,616.84 1077.02,615.06 C1075.61,613.18 1074.44,611.00 1073.45,608.67 C1072.38,606.15 1071.55,603.22 1070.96,600.41 C1070.36,597.57 1070.09,595.01 1069.90,591.72 C1069.65,587.44 1069.82,582.18 1070.00,576.87 C1070.20,570.71 1070.81,563.57 1071.20,556.91 C1071.58,550.25 1071.88,543.58 1072.30,536.92 C1072.71,530.25 1073.28,523.18 1073.70,516.93 C1074.07,511.39 1074.48,506.51 1074.70,501.28 C1074.92,496.03 1075.00,490.77 1075.00,485.50 C1075.00,480.21 1074.93,475.40 1074.70,469.62 C1074.42,462.64 1074.23,453.53 1073.29,446.57 C1072.49,440.70 1071.62,435.76 1069.90,430.50 C1068.13,425.08 1064.97,418.90 1062.70,414.55 C1061.05,411.38 1059.43,409.23 1057.96,406.58 C1056.55,404.03 1055.23,401.61 1054.04,398.93 C1052.78,396.11 1051.80,392.52 1050.64,390.03 C1049.74,388.11 1048.44,386.71 1047.88,385.13 C1047.41,383.81 1047.20,382.57 1047.20,381.30 C1047.20,380.03 1047.40,378.77 1047.87,377.49 C1048.42,376.00 1049.62,374.49 1050.53,372.98 C1051.46,371.43 1052.41,369.92 1053.42,368.30 C1054.50,366.54 1055.60,364.79 1056.82,362.79 C1058.27,360.41 1059.97,357.59 1061.53,354.98 C1063.10,352.35 1064.66,349.70 1066.23,347.08 C1067.80,344.45 1069.49,341.89 1070.96,339.22 C1072.44,336.55 1074.10,333.85 1075.09,331.04 C1076.04,328.34 1076.48,325.81 1076.89,322.71 C1077.39,318.90 1077.43,314.48 1077.50,309.82 C1077.58,304.30 1077.41,297.84 1077.20,291.73 C1076.98,285.46 1076.56,278.76 1076.20,272.69 C1075.86,267.12 1075.39,261.76 1075.10,256.69 C1074.83,252.09 1074.40,247.89 1074.50,243.54 C1074.60,239.25 1074.91,234.37 1075.67,230.75 C1076.25,227.96 1076.77,225.53 1078.09,223.54 C1079.33,221.66 1081.14,220.02 1083.20,219.02 C1085.44,217.94 1088.57,217.59 1091.20,217.60Z"/></clipPath>
<clipPath id="c16"><path d="M1239.20,217.60 C1241.83,217.59 1244.96,217.94 1247.20,219.02 C1249.26,220.02 1251.07,221.66 1252.31,223.54 C1253.63,225.53 1254.15,227.96 1254.73,230.75 C1255.49,234.37 1255.80,239.25 1255.90,243.54 C1256.00,247.89 1255.57,252.09 1255.30,256.69 C1255.01,261.76 1254.54,267.12 1254.20,272.69 C1253.84,278.76 1253.42,285.46 1253.20,291.73 C1252.99,297.84 1252.82,304.30 1252.90,309.82 C1252.97,314.48 1253.01,318.90 1253.51,322.71 C1253.92,325.81 1254.36,328.34 1255.31,331.04 C1256.30,333.85 1257.96,336.55 1259.44,339.22 C1260.91,341.89 1262.60,344.45 1264.17,347.08 C1265.74,349.70 1267.30,352.35 1268.87,354.98 C1270.43,357.59 1272.13,360.41 1273.58,362.79 C1274.80,364.79 1275.90,366.54 1276.98,368.30 C1277.99,369.92 1278.94,371.43 1279.87,372.98 C1280.78,374.49 1281.98,376.00 1282.53,377.49 C1283.00,378.77 1283.20,380.03 1283.20,381.30 C1283.20,382.57 1282.99,383.81 1282.52,385.13 C1281.96,386.71 1280.66,388.11 1279.76,390.03 C1278.60,392.52 1277.62,396.11 1276.36,398.93 C1275.17,401.61 1273.85,404.03 1272.44,406.58 C1270.97,409.23 1269.35,411.38 1267.70,414.55 C1265.43,418.90 1262.27,425.08 1260.50,430.50 C1258.78,435.76 1257.91,440.70 1257.11,446.57 C1256.17,453.53 1255.98,462.64 1255.70,469.62 C1255.47,475.40 1255.40,480.21 1255.40,485.50 C1255.40,490.77 1255.48,496.03 1255.70,501.28 C1255.92,506.51 1256.33,511.39 1256.70,516.93 C1257.12,523.18 1257.69,530.25 1258.10,536.92 C1258.52,543.58 1258.82,550.25 1259.20,556.91 C1259.59,563.57 1260.20,570.71 1260.40,576.87 C1260.58,582.18 1260.75,587.44 1260.50,591.72 C1260.31,595.01 1260.04,597.57 1259.44,600.41 C1258.85,603.22 1258.02,606.15 1256.95,608.67 C1255.96,611.00 1254.79,613.18 1253.38,615.06 C1252.04,616.84 1250.55,618.51 1248.75,619.72 C1246.90,620.96 1244.59,621.77 1242.40,622.37 C1240.21,622.96 1237.85,623.30 1235.60,623.30 C1233.39,623.30 1231.15,622.96 1229.01,622.37 C1226.85,621.77 1224.66,620.89 1222.71,619.69 C1220.69,618.44 1218.73,616.79 1217.14,614.96 C1215.53,613.11 1214.19,610.96 1213.14,608.63 C1212.02,606.14 1211.35,603.21 1210.76,600.41 C1210.16,597.57 1209.83,595.00 1209.60,591.70 C1209.30,587.40 1209.48,582.14 1209.50,576.81 C1209.53,570.64 1209.63,563.50 1209.80,556.85 C1209.97,550.20 1210.10,543.55 1210.50,536.91 C1210.90,530.27 1211.53,523.22 1212.19,517.00 C1212.78,511.48 1213.52,506.64 1214.18,501.44 C1214.85,496.23 1215.45,490.99 1216.18,485.76 C1216.91,480.52 1217.59,475.75 1218.57,470.03 C1219.76,463.13 1221.19,454.06 1222.94,447.25 C1224.41,441.56 1225.95,436.90 1227.97,431.80 C1230.04,426.56 1233.10,420.53 1235.30,416.25 C1236.89,413.15 1238.28,411.05 1239.68,408.39 C1241.08,405.72 1242.79,403.14 1243.71,400.27 C1244.64,397.36 1244.87,393.68 1245.18,391.04 C1245.42,389.09 1245.51,387.57 1245.60,385.90 C1245.68,384.32 1245.72,382.82 1245.70,381.28 C1245.68,379.73 1245.63,378.21 1245.49,376.64 C1245.36,375.02 1245.13,373.34 1244.88,371.70 C1244.62,370.08 1244.34,368.54 1243.95,366.86 C1243.52,365.02 1243.14,363.13 1242.36,361.09 C1241.41,358.60 1239.76,355.77 1238.38,353.12 C1236.99,350.44 1235.60,347.73 1234.03,345.12 C1232.43,342.47 1230.36,339.97 1228.84,337.35 C1227.40,334.84 1226.03,332.31 1225.08,329.74 C1224.17,327.27 1223.64,325.08 1223.18,322.24 C1222.60,318.62 1222.50,314.27 1222.30,309.73 C1222.06,304.28 1222.07,297.85 1222.00,291.78 C1221.93,285.54 1221.92,278.85 1221.90,272.79 C1221.89,267.24 1221.82,261.89 1221.90,256.83 C1221.97,252.22 1221.96,248.00 1222.29,243.64 C1222.62,239.32 1223.06,234.41 1223.86,230.77 C1224.47,227.99 1224.85,225.54 1226.18,223.56 C1227.46,221.65 1229.49,220.02 1231.60,219.02 C1233.81,217.98 1236.63,217.61 1239.20,217.60Z"/></clipPath>
<clipPath id="c17"><path d="M1324.20,217.60 C1326.77,217.61 1329.59,217.98 1331.80,219.02 C1333.91,220.02 1335.94,221.65 1337.22,223.56 C1338.55,225.54 1338.93,227.99 1339.54,230.77 C1340.34,234.41 1340.78,239.32 1341.11,243.64 C1341.44,248.00 1341.43,252.22 1341.50,256.83 C1341.58,261.89 1341.51,267.24 1341.50,272.79 C1341.48,278.85 1341.47,285.54 1341.40,291.78 C1341.33,297.85 1341.34,304.28 1341.10,309.73 C1340.90,314.27 1340.80,318.62 1340.22,322.24 C1339.76,325.08 1339.23,327.27 1338.32,329.74 C1337.37,332.31 1336.00,334.84 1334.56,337.35 C1333.04,339.97 1330.97,342.47 1329.37,345.12 C1327.80,347.73 1326.41,350.44 1325.02,353.12 C1323.64,355.77 1321.99,358.60 1321.04,361.09 C1320.26,363.13 1319.88,365.02 1319.45,366.86 C1319.06,368.54 1318.78,370.08 1318.52,371.70 C1318.27,373.34 1318.04,375.02 1317.91,376.64 C1317.77,378.21 1317.72,379.73 1317.70,381.28 C1317.68,382.82 1317.72,384.32 1317.80,385.90 C1317.89,387.57 1317.98,389.09 1318.22,391.04 C1318.53,393.68 1318.76,397.36 1319.69,400.27 C1320.61,403.14 1322.32,405.72 1323.72,408.39 C1325.12,411.05 1326.51,413.15 1328.10,416.25 C1330.30,420.53 1333.36,426.56 1335.43,431.80 C1337.45,436.90 1338.99,441.56 1340.46,447.25 C1342.21,454.06 1343.64,463.13 1344.83,470.03 C1345.81,475.75 1346.49,480.52 1347.22,485.76 C1347.95,490.99 1348.55,496.23 1349.22,501.44 C1349.88,506.64 1350.62,511.48 1351.21,517.00 C1351.87,523.22 1352.50,530.27 1352.90,536.91 C1353.30,543.55 1353.43,550.20 1353.60,556.85 C1353.77,563.50 1353.87,570.64 1353.90,576.81 C1353.92,582.14 1354.10,587.40 1353.80,591.70 C1353.57,595.00 1353.24,597.57 1352.64,600.41 C1352.05,603.21 1351.38,606.14 1350.26,608.63 C1349.21,610.96 1347.87,613.11 1346.26,614.96 C1344.67,616.79 1342.71,618.44 1340.69,619.69 C1338.74,620.89 1336.55,621.77 1334.39,622.37 C1332.25,622.96 1330.01,623.30 1327.80,623.30 C1325.55,623.30 1323.19,622.96 1321.00,622.37 C1318.81,621.77 1316.50,620.96 1314.65,619.72 C1312.85,618.51 1311.36,616.84 1310.02,615.06 C1308.61,613.18 1307.44,611.00 1306.45,608.67 C1305.38,606.15 1304.55,603.22 1303.96,600.41 C1303.36,597.57 1303.09,595.01 1302.90,591.72 C1302.65,587.44 1302.82,582.18 1303.00,576.87 C1303.20,570.71 1303.81,563.57 1304.20,556.91 C1304.58,550.25 1304.88,543.58 1305.30,536.92 C1305.71,530.25 1306.28,523.18 1306.70,516.93 C1307.07,511.39 1307.48,506.51 1307.70,501.28 C1307.92,496.03 1308.00,490.77 1308.00,485.50 C1308.00,480.21 1307.93,475.40 1307.70,469.62 C1307.42,462.64 1307.23,453.53 1306.29,446.57 C1305.49,440.70 1304.62,435.76 1302.90,430.50 C1301.13,425.08 1297.97,418.90 1295.70,414.55 C1294.05,411.38 1292.43,409.23 1290.96,406.58 C1289.55,404.03 1288.23,401.61 1287.04,398.93 C1285.78,396.11 1284.80,392.52 1283.64,390.03 C1282.74,388.11 1281.44,386.71 1280.88,385.13 C1280.41,383.81 1280.20,382.57 1280.20,381.30 C1280.20,380.03 1280.40,378.77 1280.87,377.49 C1281.42,376.00 1282.62,374.49 1283.53,372.98 C1284.46,371.43 1285.41,369.92 1286.42,368.30 C1287.50,366.54 1288.60,364.79 1289.82,362.79 C1291.27,360.41 1292.97,357.59 1294.53,354.98 C1296.10,352.35 1297.66,349.70 1299.23,347.08 C1300.80,344.45 1302.49,341.89 1303.96,339.22 C1305.44,336.55 1307.10,333.85 1308.09,331.04 C1309.04,328.34 1309.48,325.81 1309.89,322.71 C1310.39,318.90 1310.43,314.48 1310.50,309.82 C1310.58,304.30 1310.41,297.84 1310.20,291.73 C1309.98,285.46 1309.56,278.76 1309.20,272.69 C1308.86,267.12 1308.39,261.76 1308.10,256.69 C1307.83,252.09 1307.40,247.89 1307.50,243.54 C1307.60,239.25 1307.91,234.37 1308.67,230.75 C1309.25,227.96 1309.77,225.53 1311.09,223.54 C1312.33,221.66 1314.14,220.02 1316.20,219.02 C1318.44,217.94 1321.57,217.59 1324.20,217.60Z"/></clipPath>
<clipPath id="u16"><rect x="0" y="0" width="1385" height="551.10"/></clipPath>
<clipPath id="d16"><rect x="0" y="551.10" width="1385" height="300"/></clipPath>
<clipPath id="h18"><path d="M1239.20,217.60 C1241.83,217.59 1244.96,217.94 1247.20,219.02 C1249.26,220.02 1251.07,221.66 1252.31,223.54 C1253.63,225.53 1254.15,227.96 1254.73,230.75 C1255.49,234.37 1255.80,239.25 1255.90,243.54 C1256.00,247.89 1255.57,252.09 1255.30,256.69 C1255.01,261.76 1254.54,267.12 1254.20,272.69 C1253.84,278.76 1253.42,285.46 1253.20,291.73 C1252.99,297.84 1252.82,304.30 1252.90,309.82 C1252.97,314.48 1253.01,318.90 1253.51,322.71 C1253.92,325.81 1254.36,328.34 1255.31,331.04 C1256.30,333.85 1257.96,336.55 1259.44,339.22 C1260.91,341.89 1262.60,344.45 1264.17,347.08 C1265.74,349.70 1267.30,352.35 1268.87,354.98 C1270.43,357.59 1272.13,360.41 1273.58,362.79 C1274.80,364.79 1275.90,366.54 1276.98,368.30 C1277.99,369.92 1278.94,371.43 1279.87,372.98 C1280.78,374.49 1281.98,376.00 1282.53,377.49 C1283.00,378.77 1283.20,380.03 1283.20,381.30 C1283.20,382.57 1282.99,383.81 1282.52,385.13 C1281.96,386.71 1280.66,388.11 1279.76,390.03 C1278.60,392.52 1277.62,396.11 1276.36,398.93 C1275.17,401.61 1273.85,404.03 1272.44,406.58 C1270.97,409.23 1269.35,411.38 1267.70,414.55 C1265.43,418.90 1262.27,425.08 1260.50,430.50 C1258.78,435.76 1257.91,440.70 1257.11,446.57 C1256.17,453.53 1255.98,462.64 1255.70,469.62 C1255.47,475.40 1255.40,480.21 1255.40,485.50 C1255.40,490.77 1255.48,496.03 1255.70,501.28 C1255.92,506.51 1256.33,511.39 1256.70,516.93 C1257.12,523.18 1257.69,530.25 1258.10,536.92 C1258.52,543.58 1258.82,550.25 1259.20,556.91 C1259.59,563.57 1260.20,570.71 1260.40,576.87 C1260.58,582.18 1260.75,587.44 1260.50,591.72 C1260.31,595.01 1260.04,597.57 1259.44,600.41 C1258.85,603.22 1258.02,606.15 1256.95,608.67 C1255.96,611.00 1254.79,613.18 1253.38,615.06 C1252.04,616.84 1250.55,618.51 1248.75,619.72 C1246.90,620.96 1244.59,621.77 1242.40,622.37 C1240.21,622.96 1237.85,623.30 1235.60,623.30 C1233.39,623.30 1231.15,622.96 1229.01,622.37 C1226.85,621.77 1224.66,620.89 1222.71,619.69 C1220.69,618.44 1218.73,616.79 1217.14,614.96 C1215.53,613.11 1214.19,610.96 1213.14,608.63 C1212.02,606.14 1211.35,603.21 1210.76,600.41 C1210.16,597.57 1209.83,595.00 1209.60,591.70 C1209.30,587.40 1209.48,582.14 1209.50,576.81 C1209.53,570.64 1209.63,563.50 1209.80,556.85 C1209.97,550.20 1210.10,543.55 1210.50,536.91 C1210.90,530.27 1211.53,523.22 1212.19,517.00 C1212.78,511.48 1213.52,506.64 1214.18,501.44 C1214.85,496.23 1215.45,490.99 1216.18,485.76 C1216.91,480.52 1217.59,475.75 1218.57,470.03 C1219.76,463.13 1221.19,454.06 1222.94,447.25 C1224.41,441.56 1225.95,436.90 1227.97,431.80 C1230.04,426.56 1233.10,420.53 1235.30,416.25 C1236.89,413.15 1238.28,411.05 1239.68,408.39 C1241.08,405.72 1242.79,403.14 1243.71,400.27 C1244.64,397.36 1244.87,393.68 1245.18,391.04 C1245.42,389.09 1245.51,387.57 1245.60,385.90 C1245.68,384.32 1245.72,382.82 1245.70,381.28 C1245.68,379.73 1245.63,378.21 1245.49,376.64 C1245.36,375.02 1245.13,373.34 1244.88,371.70 C1244.62,370.08 1244.34,368.54 1243.95,366.86 C1243.52,365.02 1243.14,363.13 1242.36,361.09 C1241.41,358.60 1239.76,355.77 1238.38,353.12 C1236.99,350.44 1235.60,347.73 1234.03,345.12 C1232.43,342.47 1230.36,339.97 1228.84,337.35 C1227.40,334.84 1226.03,332.31 1225.08,329.74 C1224.17,327.27 1223.64,325.08 1223.18,322.24 C1222.60,318.62 1222.50,314.27 1222.30,309.73 C1222.06,304.28 1222.07,297.85 1222.00,291.78 C1221.93,285.54 1221.92,278.85 1221.90,272.79 C1221.89,267.24 1221.82,261.89 1221.90,256.83 C1221.97,252.22 1221.96,248.00 1222.29,243.64 C1222.62,239.32 1223.06,234.41 1223.86,230.77 C1224.47,227.99 1224.85,225.54 1226.18,223.56 C1227.46,221.65 1229.49,220.02 1231.60,219.02 C1233.81,217.98 1236.63,217.61 1239.20,217.60Z"/><path d="M1324.20,217.60 C1326.77,217.61 1329.59,217.98 1331.80,219.02 C1333.91,220.02 1335.94,221.65 1337.22,223.56 C1338.55,225.54 1338.93,227.99 1339.54,230.77 C1340.34,234.41 1340.78,239.32 1341.11,243.64 C1341.44,248.00 1341.43,252.22 1341.50,256.83 C1341.58,261.89 1341.51,267.24 1341.50,272.79 C1341.48,278.85 1341.47,285.54 1341.40,291.78 C1341.33,297.85 1341.34,304.28 1341.10,309.73 C1340.90,314.27 1340.80,318.62 1340.22,322.24 C1339.76,325.08 1339.23,327.27 1338.32,329.74 C1337.37,332.31 1336.00,334.84 1334.56,337.35 C1333.04,339.97 1330.97,342.47 1329.37,345.12 C1327.80,347.73 1326.41,350.44 1325.02,353.12 C1323.64,355.77 1321.99,358.60 1321.04,361.09 C1320.26,363.13 1319.88,365.02 1319.45,366.86 C1319.06,368.54 1318.78,370.08 1318.52,371.70 C1318.27,373.34 1318.04,375.02 1317.91,376.64 C1317.77,378.21 1317.72,379.73 1317.70,381.28 C1317.68,382.82 1317.72,384.32 1317.80,385.90 C1317.89,387.57 1317.98,389.09 1318.22,391.04 C1318.53,393.68 1318.76,397.36 1319.69,400.27 C1320.61,403.14 1322.32,405.72 1323.72,408.39 C1325.12,411.05 1326.51,413.15 1328.10,416.25 C1330.30,420.53 1333.36,426.56 1335.43,431.80 C1337.45,436.90 1338.99,441.56 1340.46,447.25 C1342.21,454.06 1343.64,463.13 1344.83,470.03 C1345.81,475.75 1346.49,480.52 1347.22,485.76 C1347.95,490.99 1348.55,496.23 1349.22,501.44 C1349.88,506.64 1350.62,511.48 1351.21,517.00 C1351.87,523.22 1352.50,530.27 1352.90,536.91 C1353.30,543.55 1353.43,550.20 1353.60,556.85 C1353.77,563.50 1353.87,570.64 1353.90,576.81 C1353.92,582.14 1354.10,587.40 1353.80,591.70 C1353.57,595.00 1353.24,597.57 1352.64,600.41 C1352.05,603.21 1351.38,606.14 1350.26,608.63 C1349.21,610.96 1347.87,613.11 1346.26,614.96 C1344.67,616.79 1342.71,618.44 1340.69,619.69 C1338.74,620.89 1336.55,621.77 1334.39,622.37 C1332.25,622.96 1330.01,623.30 1327.80,623.30 C1325.55,623.30 1323.19,622.96 1321.00,622.37 C1318.81,621.77 1316.50,620.96 1314.65,619.72 C1312.85,618.51 1311.36,616.84 1310.02,615.06 C1308.61,613.18 1307.44,611.00 1306.45,608.67 C1305.38,606.15 1304.55,603.22 1303.96,600.41 C1303.36,597.57 1303.09,595.01 1302.90,591.72 C1302.65,587.44 1302.82,582.18 1303.00,576.87 C1303.20,570.71 1303.81,563.57 1304.20,556.91 C1304.58,550.25 1304.88,543.58 1305.30,536.92 C1305.71,530.25 1306.28,523.18 1306.70,516.93 C1307.07,511.39 1307.48,506.51 1307.70,501.28 C1307.92,496.03 1308.00,490.77 1308.00,485.50 C1308.00,480.21 1307.93,475.40 1307.70,469.62 C1307.42,462.64 1307.23,453.53 1306.29,446.57 C1305.49,440.70 1304.62,435.76 1302.90,430.50 C1301.13,425.08 1297.97,418.90 1295.70,414.55 C1294.05,411.38 1292.43,409.23 1290.96,406.58 C1289.55,404.03 1288.23,401.61 1287.04,398.93 C1285.78,396.11 1284.80,392.52 1283.64,390.03 C1282.74,388.11 1281.44,386.71 1280.88,385.13 C1280.41,383.81 1280.20,382.57 1280.20,381.30 C1280.20,380.03 1280.40,378.77 1280.87,377.49 C1281.42,376.00 1282.62,374.49 1283.53,372.98 C1284.46,371.43 1285.41,369.92 1286.42,368.30 C1287.50,366.54 1288.60,364.79 1289.82,362.79 C1291.27,360.41 1292.97,357.59 1294.53,354.98 C1296.10,352.35 1297.66,349.70 1299.23,347.08 C1300.80,344.45 1302.49,341.89 1303.96,339.22 C1305.44,336.55 1307.10,333.85 1308.09,331.04 C1309.04,328.34 1309.48,325.81 1309.89,322.71 C1310.39,318.90 1310.43,314.48 1310.50,309.82 C1310.58,304.30 1310.41,297.84 1310.20,291.73 C1309.98,285.46 1309.56,278.76 1309.20,272.69 C1308.86,267.12 1308.39,261.76 1308.10,256.69 C1307.83,252.09 1307.40,247.89 1307.50,243.54 C1307.60,239.25 1307.91,234.37 1308.67,230.75 C1309.25,227.96 1309.77,225.53 1311.09,223.54 C1312.33,221.66 1314.14,220.02 1316.20,219.02 C1318.44,217.94 1321.57,217.59 1324.20,217.60Z"/></clipPath>
</defs>
<rect x="0" y="0" width="1385" height="763" fill="#fff"/>
<rect x="0" y="60" width="2" height="703" fill="url(#lg)"/>
<rect x="0" y="0" width="1385" height="53.2" fill="#fdd4a9"/>
<rect x="0" y="0" width="1385" height="1.3" fill="#e4b890"/>
<rect x="0" y="53.2" width="1385" height="7.6" fill="url(#hb)"/>
<path d="M66.40,208.90 C69.30,208.89 72.70,209.29 75.20,210.50 C77.55,211.64 79.67,213.56 81.10,215.70 C82.57,217.90 83.16,220.59 83.80,223.60 C84.61,227.38 84.90,232.31 85.00,236.70 C85.10,241.11 84.66,245.36 84.40,250.00 C84.11,255.09 83.64,260.44 83.30,266.00 C82.93,272.06 82.52,278.75 82.30,285.00 C82.09,291.08 81.92,297.52 82.00,303.00 C82.07,307.60 82.12,311.98 82.60,315.70 C82.99,318.66 83.39,321.02 84.30,323.60 C85.25,326.30 86.86,328.90 88.30,331.50 C89.76,334.14 91.44,336.69 93.00,339.30 C94.57,341.92 96.13,344.58 97.70,347.20 C99.26,349.81 100.95,352.63 102.40,355.00 C103.62,357.00 104.71,358.74 105.80,360.50 C106.81,362.13 107.75,363.62 108.70,365.20 C109.65,366.79 110.90,368.37 111.50,370.00 C112.04,371.48 112.30,373.00 112.30,374.50 C112.30,376.00 112.03,377.51 111.50,379.00 C110.90,380.67 109.61,382.06 108.70,384.00 C107.53,386.51 106.56,390.06 105.30,392.90 C104.09,395.62 102.73,398.11 101.30,400.70 C99.84,403.35 98.24,405.46 96.60,408.60 C94.36,412.89 91.24,418.97 89.50,424.30 C87.82,429.44 86.98,434.24 86.20,440.00 C85.27,446.88 85.08,455.97 84.80,462.90 C84.57,468.65 84.50,473.44 84.50,478.70 C84.50,483.94 84.58,489.18 84.80,494.40 C85.02,499.61 85.43,504.48 85.80,510.00 C86.22,516.25 86.78,523.33 87.20,530.00 C87.62,536.67 87.92,543.33 88.30,550.00 C88.68,556.67 89.29,563.81 89.50,570.00 C89.68,575.36 89.85,580.64 89.60,585.00 C89.41,588.39 89.12,591.06 88.50,594.00 C87.88,596.93 87.02,599.96 85.90,602.60 C84.85,605.06 83.62,607.39 82.10,609.40 C80.64,611.34 78.98,613.17 77.00,614.50 C74.99,615.85 72.48,616.75 70.10,617.40 C67.74,618.04 65.22,618.40 62.80,618.40 C60.42,618.40 58.00,618.04 55.70,617.40 C53.36,616.75 51.00,615.80 48.90,614.50 C46.73,613.16 44.61,611.37 42.90,609.40 C41.17,607.41 39.72,605.09 38.60,602.60 C37.42,599.98 36.72,596.92 36.10,594.00 C35.48,591.06 35.14,588.39 34.90,585.00 C34.60,580.64 34.78,575.36 34.80,570.00 C34.83,563.81 34.93,556.67 35.10,550.00 C35.27,543.33 35.40,536.66 35.80,530.00 C36.20,523.33 36.83,516.25 37.50,510.00 C38.09,504.47 38.83,499.61 39.50,494.40 C40.17,489.18 40.77,483.94 41.50,478.70 C42.23,473.44 42.91,468.64 43.90,462.90 C45.09,455.96 46.53,446.87 48.30,440.00 C49.79,434.22 51.35,429.47 53.40,424.30 C55.50,419.00 58.59,412.91 60.80,408.60 C62.40,405.49 63.81,403.34 65.20,400.70 C66.57,398.11 68.22,395.66 69.10,392.90 C70.00,390.10 70.20,386.55 70.50,384.00 C70.73,382.10 70.82,380.62 70.90,379.00 C70.98,377.46 71.02,376.00 71.00,374.50 C70.98,373.00 70.93,371.52 70.80,370.00 C70.67,368.42 70.45,366.79 70.20,365.20 C69.95,363.62 69.68,362.12 69.30,360.50 C68.89,358.73 68.55,356.95 67.80,355.00 C66.88,352.58 65.26,349.80 63.90,347.20 C62.52,344.56 61.16,341.89 59.60,339.30 C58.00,336.66 55.93,334.16 54.40,331.50 C52.91,328.92 51.49,326.29 50.50,323.60 C49.55,321.02 48.98,318.67 48.50,315.70 C47.90,311.99 47.80,307.60 47.60,303.00 C47.36,297.52 47.37,291.08 47.30,285.00 C47.23,278.75 47.22,272.06 47.20,266.00 C47.19,260.44 47.12,255.09 47.20,250.00 C47.27,245.36 47.27,241.11 47.60,236.70 C47.93,232.31 48.36,227.38 49.20,223.60 C49.87,220.60 50.31,217.89 51.80,215.70 C53.26,213.54 55.61,211.63 58.00,210.50 C60.46,209.33 63.57,208.91 66.40,208.90Z" fill="#15161c"/>
<path d="M151.40,208.90 C154.23,208.91 157.34,209.33 159.80,210.50 C162.19,211.63 164.54,213.54 166.00,215.70 C167.49,217.89 167.93,220.60 168.60,223.60 C169.44,227.38 169.87,232.31 170.20,236.70 C170.53,241.11 170.53,245.36 170.60,250.00 C170.68,255.09 170.61,260.44 170.60,266.00 C170.58,272.06 170.57,278.75 170.50,285.00 C170.43,291.08 170.44,297.52 170.20,303.00 C170.00,307.60 169.90,311.99 169.30,315.70 C168.82,318.67 168.25,321.02 167.30,323.60 C166.31,326.29 164.89,328.92 163.40,331.50 C161.87,334.16 159.80,336.66 158.20,339.30 C156.64,341.89 155.28,344.56 153.90,347.20 C152.54,349.80 150.92,352.58 150.00,355.00 C149.25,356.95 148.91,358.73 148.50,360.50 C148.12,362.12 147.85,363.62 147.60,365.20 C147.35,366.79 147.13,368.42 147.00,370.00 C146.87,371.52 146.82,373.00 146.80,374.50 C146.78,376.00 146.82,377.46 146.90,379.00 C146.98,380.62 147.07,382.10 147.30,384.00 C147.60,386.55 147.80,390.10 148.70,392.90 C149.58,395.66 151.23,398.11 152.60,400.70 C153.99,403.34 155.40,405.49 157.00,408.60 C159.21,412.91 162.30,419.00 164.40,424.30 C166.45,429.47 168.01,434.22 169.50,440.00 C171.27,446.87 172.71,455.96 173.90,462.90 C174.89,468.64 175.57,473.44 176.30,478.70 C177.03,483.94 177.63,489.18 178.30,494.40 C178.97,499.61 179.71,504.47 180.30,510.00 C180.97,516.25 181.60,523.33 182.00,530.00 C182.40,536.66 182.53,543.33 182.70,550.00 C182.87,556.67 182.97,563.81 183.00,570.00 C183.02,575.36 183.20,580.64 182.90,585.00 C182.66,588.39 182.32,591.06 181.70,594.00 C181.08,596.92 180.38,599.98 179.20,602.60 C178.08,605.09 176.63,607.41 174.90,609.40 C173.19,611.37 171.07,613.16 168.90,614.50 C166.80,615.80 164.44,616.75 162.10,617.40 C159.80,618.04 157.38,618.40 155.00,618.40 C152.58,618.40 150.06,618.04 147.70,617.40 C145.32,616.75 142.81,615.85 140.80,614.50 C138.82,613.17 137.16,611.34 135.70,609.40 C134.18,607.39 132.95,605.06 131.90,602.60 C130.78,599.96 129.92,596.93 129.30,594.00 C128.68,591.06 128.39,588.39 128.20,585.00 C127.95,580.64 128.12,575.36 128.30,570.00 C128.51,563.81 129.12,556.67 129.50,550.00 C129.88,543.33 130.18,536.67 130.60,530.00 C131.02,523.33 131.58,516.25 132.00,510.00 C132.37,504.48 132.78,499.61 133.00,494.40 C133.22,489.18 133.30,483.94 133.30,478.70 C133.30,473.44 133.23,468.65 133.00,462.90 C132.72,455.97 132.53,446.88 131.60,440.00 C130.82,434.24 129.98,429.44 128.30,424.30 C126.56,418.97 123.44,412.89 121.20,408.60 C119.56,405.46 117.96,403.35 116.50,400.70 C115.07,398.11 113.71,395.62 112.50,392.90 C111.24,390.06 110.27,386.51 109.10,384.00 C108.19,382.06 106.90,380.67 106.30,379.00 C105.77,377.51 105.50,376.00 105.50,374.50 C105.50,373.00 105.76,371.48 106.30,370.00 C106.90,368.37 108.15,366.79 109.10,365.20 C110.05,363.62 110.99,362.13 112.00,360.50 C113.09,358.74 114.18,357.00 115.40,355.00 C116.85,352.63 118.54,349.81 120.10,347.20 C121.67,344.58 123.23,341.92 124.80,339.30 C126.36,336.69 128.04,334.14 129.50,331.50 C130.94,328.90 132.55,326.30 133.50,323.60 C134.41,321.02 134.81,318.66 135.20,315.70 C135.68,311.98 135.73,307.60 135.80,303.00 C135.88,297.52 135.71,291.08 135.50,285.00 C135.28,278.75 134.87,272.06 134.50,266.00 C134.16,260.44 133.69,255.09 133.40,250.00 C133.14,245.36 132.70,241.11 132.80,236.70 C132.90,232.31 133.19,227.38 134.00,223.60 C134.64,220.59 135.23,217.90 136.70,215.70 C138.13,213.56 140.25,211.64 142.60,210.50 C145.10,209.29 148.50,208.89 151.40,208.90Z" fill="#15161c"/>
<g clip-path="url(#c1)">
<g filter="url(#bl)"><polygon points="66,209 53,210 43,216 39,224 36,237 36,250 36,266 37,285 37,303 38,316 40,324 44,332 50,339 54,347 57,355 58,360 59,365 59,370 59,374 59,379 59,384 58,393 54,401 50,409 43,424 37,440 32,463 29,479 26,494 23,510 20,530 19,550 18,570 18,585 20,594 24,603 31,609 40,614 51,617 63,618 63,618 58,617 52,614 48,609 45,603 43,594 42,585 42,570 42,550 42,530 44,510 45,494 47,479 49,463 53,440 58,424 65,409 70,401 74,393 75,384 76,379 76,374 76,370 75,365 74,360 72,355 68,347 64,339 59,332 55,324 53,316 52,303 52,285 52,266 52,250 52,237 54,224 55,216 60,210 66,209" fill="#8c9bd6"/>
<polygon points="66,209 59,210 53,216 51,224 49,237 49,250 49,266 49,285 49,303 50,316 52,324 56,332 61,339 65,347 69,355 71,360 72,365 72,370 73,374 73,379 72,384 71,393 67,401 62,409 55,424 50,440 46,463 43,479 41,494 40,510 38,530 37,550 37,570 37,585 38,594 41,603 45,609 50,614 56,617 63,618 63,618 59,617 55,614 51,609 48,603 47,594 46,585 46,570 46,550 47,530 48,510 49,494 50,479 52,463 56,440 61,424 68,409 73,401 77,393 78,384 79,379 80,374 79,370 78,365 77,360 75,355 71,347 67,339 61,332 58,324 56,316 55,303 55,285 55,266 55,250 55,237 56,224 58,216 62,210 66,209" fill="#8999d3"/>
<polygon points="66,209 60,210 55,216 54,224 52,237 52,250 52,266 52,285 52,303 53,316 55,324 59,332 64,339 68,347 72,355 74,360 75,365 76,370 76,374 76,379 75,384 74,393 70,401 65,409 58,424 53,440 49,463 47,479 45,494 44,510 42,530 42,550 42,570 42,585 43,594 45,603 48,609 52,614 58,617 63,618 63,618 60,617 57,614 54,609 52,603 51,594 51,585 51,570 51,550 51,530 52,510 53,494 54,479 56,463 59,440 64,424 71,409 76,401 80,393 82,384 83,379 83,374 83,370 81,365 80,360 78,355 74,347 69,339 64,332 60,324 58,316 58,303 58,285 58,266 58,250 59,237 59,224 60,216 63,210 66,209" fill="#8494d0"/>
<polygon points="66,209 62,210 58,216 56,224 55,237 55,250 55,266 55,285 55,303 56,316 58,324 61,332 67,339 71,347 75,355 77,360 78,365 79,370 80,374 79,379 78,384 77,393 73,401 68,409 61,424 56,440 52,463 50,479 49,494 48,510 47,530 46,550 46,570 46,585 47,594 48,603 51,609 55,614 59,617 63,618 63,618 61,617 59,614 58,609 56,603 56,594 55,585 55,570 55,550 55,530 56,510 56,494 58,479 59,463 63,440 67,424 74,409 79,401 83,393 85,384 86,379 86,374 86,370 85,365 83,360 81,355 77,347 72,339 67,332 63,324 61,316 60,303 60,285 61,266 61,250 62,237 62,224 63,216 64,210 66,209" fill="#7e90ce"/>
<polygon points="66,209 63,210 60,216 59,224 59,237 58,250 58,266 58,285 58,303 58,316 60,324 64,332 69,339 74,347 78,355 80,360 81,365 83,370 83,374 83,379 82,384 80,393 76,401 71,409 64,424 59,440 56,463 54,479 53,494 52,510 51,530 51,550 51,570 51,585 51,594 52,603 54,609 57,614 60,617 63,618 63,618 62,617 62,614 61,609 60,603 60,594 60,585 60,570 59,550 59,530 60,510 60,494 61,479 63,463 66,440 70,424 77,409 82,401 86,393 88,384 90,379 90,374 89,370 88,365 86,360 84,355 79,347 75,339 70,332 66,324 64,316 63,303 63,285 64,266 64,250 65,237 65,224 65,216 66,210 66,209" fill="#778aca"/>
<polygon points="66,209 64,210 63,216 62,224 62,237 61,250 61,266 60,285 60,303 61,316 63,324 67,332 72,339 77,347 81,355 83,360 85,365 86,370 86,374 86,379 85,384 83,393 79,401 74,409 67,424 63,440 59,463 58,479 56,494 56,510 55,530 55,550 55,570 55,585 56,594 56,603 58,609 59,614 61,617 63,618 63,618 64,617 64,614 64,609 64,603 64,594 65,585 64,570 64,550 64,530 64,510 64,494 65,479 66,463 69,440 73,424 80,409 85,401 89,393 91,384 93,379 93,374 93,370 91,365 89,360 87,355 82,347 78,339 73,332 69,324 67,316 66,303 66,285 67,266 67,250 68,237 68,224 68,216 67,210 66,209" fill="#6c81c6"/>
<polygon points="66,209 66,210 65,216 65,224 65,237 64,250 64,266 63,285 63,303 64,316 66,324 70,332 75,339 79,347 84,355 86,360 88,365 89,370 90,374 90,379 88,384 86,393 82,401 77,409 70,424 66,440 63,463 61,479 60,494 60,510 59,530 59,550 60,570 60,585 60,594 60,603 61,609 62,614 62,617 63,618 63,618 65,617 66,614 67,609 68,603 69,594 69,585 69,570 68,550 68,530 68,510 68,494 68,479 69,463 72,440 76,424 83,409 88,401 92,393 94,384 96,379 97,374 96,370 94,365 92,360 89,355 85,347 80,339 76,332 72,324 70,316 69,303 69,285 70,266 70,250 71,237 71,224 70,216 69,210 66,209" fill="#6179c0"/>
<polygon points="66,209 67,210 68,216 68,224 68,237 67,250 67,266 66,285 66,303 67,316 69,324 73,332 78,339 82,347 87,355 89,360 91,365 93,370 93,374 93,379 91,384 89,393 85,401 80,409 73,424 69,440 66,463 65,479 64,494 64,510 64,530 64,550 64,570 65,585 64,594 64,603 64,609 64,614 64,617 63,618 63,618 66,617 69,614 71,609 72,603 73,594 74,585 74,570 73,550 72,530 72,510 72,494 72,479 73,463 75,440 79,424 86,409 91,401 95,393 98,384 100,379 100,374 100,370 97,365 95,360 92,355 88,347 83,339 78,332 74,324 73,316 72,303 72,285 73,266 74,250 74,237 74,224 73,216 70,210 66,209" fill="#5a74bd"/>
<polygon points="66,209 69,210 70,216 71,224 71,237 70,250 70,266 69,285 69,303 70,316 72,324 76,332 80,339 85,347 89,355 92,360 94,365 96,370 97,374 96,379 94,384 92,393 88,401 83,409 76,424 72,440 69,463 68,479 68,494 68,510 68,530 68,550 69,570 69,585 69,594 68,603 67,609 66,614 65,617 63,618 63,618 67,617 71,614 74,609 76,603 78,594 78,585 78,570 77,550 76,530 76,510 75,494 76,479 76,463 78,440 82,424 89,409 94,401 98,393 101,384 103,379 104,374 103,370 101,365 98,360 95,355 91,347 86,339 81,332 77,324 75,316 75,303 75,285 76,266 77,250 77,237 77,224 75,216 72,210 66,209" fill="#5370ba"/>
<polygon points="66,209 70,210 73,216 74,224 74,237 74,250 73,266 72,285 72,303 73,316 74,324 78,332 83,339 88,347 92,355 95,360 97,365 100,370 100,374 100,379 98,384 95,393 91,401 86,409 79,424 75,440 73,463 72,479 72,494 72,510 72,530 73,550 74,570 74,585 73,594 72,603 71,609 69,614 66,617 63,618 63,618 68,617 73,614 77,609 80,603 82,594 83,585 83,570 82,550 81,530 80,510 79,494 79,479 80,463 81,440 85,424 92,409 97,401 101,393 104,384 106,379 107,374 106,370 104,365 101,360 98,355 93,347 89,339 84,332 80,324 78,316 78,303 78,285 79,266 80,250 80,237 79,224 77,216 73,210 66,209" fill="#4e6db9"/>
<polygon points="66,209 72,210 75,216 77,224 77,237 77,250 76,266 75,285 75,303 75,316 77,324 81,332 86,339 91,347 95,355 98,360 101,365 103,370 104,374 103,379 101,384 98,393 94,401 89,409 82,424 78,440 76,463 76,479 75,494 76,510 76,530 77,550 78,570 78,585 78,594 76,603 74,609 71,614 67,617 63,618 63,618 70,617 76,614 80,609 84,603 86,594 87,585 87,570 86,550 85,530 84,510 83,494 83,479 83,463 85,440 88,424 95,409 100,401 104,393 107,384 110,379 111,374 110,370 107,365 104,360 101,355 96,347 92,339 87,332 83,324 81,316 81,303 81,285 82,266 83,250 83,237 82,224 80,216 74,210 66,209" fill="#4b6bb8"/>
<polygon points="66,209 73,210 77,216 79,224 80,237 80,250 79,266 78,285 78,303 78,316 80,324 84,332 89,339 93,347 98,355 101,360 104,365 106,370 107,374 106,379 104,384 101,393 97,401 92,409 85,424 81,440 80,463 79,479 79,494 80,510 81,530 82,550 83,570 83,585 82,594 80,603 77,609 73,614 68,617 63,618 63,618 74,617 85,614 94,609 100,603 104,594 106,585 106,570 104,550 103,530 100,510 98,494 97,479 97,463 98,440 100,424 107,409 112,401 116,393 120,384 124,379 125,374 124,370 120,365 117,360 113,355 108,347 103,339 98,332 94,324 93,316 92,303 93,285 94,266 96,250 96,237 94,224 90,216 80,210 66,209" fill="#6580c4"/></g>
</g>
<g clip-path="url(#c2)">
<g filter="url(#bl)"><polygon points="151,209 137,210 128,216 124,224 122,237 122,250 124,266 125,285 125,303 125,316 123,324 119,332 115,339 110,347 105,355 101,360 98,365 94,370 93,374 94,379 98,384 102,393 106,401 110,409 117,424 120,440 121,463 120,479 119,494 118,510 115,530 114,550 112,570 112,585 114,594 118,603 124,609 132,614 143,617 155,618 155,618 150,617 144,614 141,609 138,603 136,594 135,585 135,570 136,550 137,530 138,510 139,494 139,479 138,463 136,440 133,424 126,409 121,401 117,393 114,384 111,379 111,374 111,370 114,365 117,360 120,355 124,347 129,339 134,332 138,324 139,316 140,303 140,285 139,266 138,250 137,237 138,224 140,216 145,210 151,209" fill="#6580c4"/>
<polygon points="151,209 143,210 138,216 135,224 134,237 135,250 136,266 137,285 137,303 137,316 135,324 131,332 126,339 122,347 117,355 114,360 111,365 108,370 107,374 108,379 111,384 114,393 118,401 123,409 130,424 133,440 135,463 135,479 135,494 134,510 133,530 132,550 131,570 130,585 131,594 134,603 137,609 142,614 148,617 155,618 155,618 151,617 147,614 144,609 142,603 140,594 140,585 140,570 141,550 141,530 142,510 142,494 142,479 142,463 139,440 136,424 129,409 124,401 120,393 117,384 115,379 114,374 115,370 117,365 120,360 123,355 127,347 132,339 137,332 141,324 142,316 143,303 143,285 142,266 141,250 141,237 141,224 143,216 146,210 151,209" fill="#4b6bb8"/>
<polygon points="151,209 145,210 140,216 138,224 137,237 138,250 139,266 140,285 140,303 139,316 138,324 134,332 129,339 124,347 120,355 117,360 114,365 111,370 111,374 111,379 114,384 117,393 121,401 126,409 133,424 136,440 138,463 139,479 139,494 138,510 137,530 136,550 135,570 135,585 136,594 138,603 141,609 144,614 150,617 155,618 155,618 152,617 149,614 147,609 146,603 145,594 144,585 144,570 145,550 146,530 146,510 146,494 146,479 145,463 143,440 139,424 132,409 127,401 123,393 120,384 118,379 118,374 118,370 120,365 123,360 125,355 130,347 135,339 139,332 143,324 145,316 146,303 146,285 145,266 144,250 144,237 144,224 145,216 148,210 151,209" fill="#4e6db9"/>
<polygon points="151,209 146,210 143,216 141,224 141,237 141,250 142,266 143,285 143,303 142,316 141,324 137,332 132,339 127,347 123,355 120,360 117,365 115,370 114,374 115,379 117,384 120,393 124,401 129,409 136,424 139,440 142,463 142,479 142,494 142,510 141,530 141,550 140,570 140,585 140,594 142,603 144,609 147,614 151,617 155,618 155,618 153,617 151,614 150,609 150,603 149,594 149,585 149,570 149,550 150,530 150,510 150,494 149,479 148,463 146,440 142,424 135,409 130,401 126,393 123,384 122,379 121,374 122,370 124,365 126,360 128,355 133,347 137,339 142,332 146,324 148,316 149,303 149,285 148,266 147,250 147,237 147,224 148,216 149,210 151,209" fill="#5370ba"/>
<polygon points="151,209 148,210 145,216 144,224 144,237 144,250 145,266 146,285 146,303 145,316 143,324 139,332 135,339 130,347 125,355 123,360 120,365 118,370 118,374 118,379 120,384 123,393 127,401 132,409 139,424 143,440 145,463 146,479 146,494 146,510 146,530 145,550 144,570 144,585 145,594 146,603 147,609 149,614 152,617 155,618 155,618 154,617 154,614 154,609 154,603 153,594 153,585 153,570 154,550 154,530 154,510 154,494 153,479 152,463 149,440 145,424 138,409 133,401 129,393 127,384 125,379 124,374 125,370 127,365 129,360 131,355 136,347 140,339 145,332 149,324 151,316 152,303 152,285 151,266 150,250 150,237 150,224 150,216 150,210 151,209" fill="#5a74bd"/>
<polygon points="151,209 149,210 148,216 147,224 147,237 147,250 148,266 149,285 149,303 148,316 146,324 142,332 137,339 133,347 128,355 126,360 124,365 122,370 121,374 122,379 123,384 126,393 130,401 135,409 142,424 146,440 148,463 149,479 150,494 150,510 150,530 149,550 149,570 149,585 149,594 150,603 150,609 151,614 153,617 155,618 155,618 156,617 156,614 157,609 158,603 158,594 158,585 158,570 158,550 158,530 158,510 158,494 157,479 155,463 152,440 148,424 141,409 136,401 132,393 130,384 128,379 128,374 128,370 130,365 132,360 134,355 138,347 143,339 148,332 152,324 154,316 154,303 154,285 154,266 154,250 153,237 153,224 153,216 152,210 151,209" fill="#6179c0"/>
<polygon points="151,209 150,210 150,216 150,224 150,237 150,250 151,266 152,285 152,303 151,316 149,324 145,332 140,339 136,347 131,355 129,360 127,365 125,370 124,374 125,379 127,384 129,393 133,401 138,409 145,424 149,440 152,463 153,479 154,494 154,510 154,530 154,550 153,570 153,585 153,594 154,603 154,609 154,614 154,617 155,618 155,618 157,617 158,614 160,609 161,603 162,594 162,585 162,570 163,550 163,530 162,510 161,494 160,479 159,463 155,440 151,424 144,409 139,401 135,393 133,384 132,379 131,374 132,370 133,365 135,360 137,355 141,347 146,339 151,332 155,324 157,316 157,303 157,285 157,266 157,250 156,237 156,224 155,216 153,210 151,209" fill="#6c81c6"/>
<polygon points="151,209 152,210 153,216 153,224 153,237 154,250 154,266 154,285 154,303 154,316 152,324 148,332 143,339 138,347 134,355 132,360 130,365 128,370 128,374 128,379 130,384 132,393 136,401 141,409 148,424 152,440 155,463 157,479 158,494 158,510 158,530 158,550 158,570 158,585 158,594 158,603 157,609 156,614 156,617 155,618 155,618 158,617 161,614 163,609 165,603 166,594 167,585 167,570 167,550 167,530 166,510 165,494 164,479 162,463 158,440 154,424 147,409 142,401 138,393 136,384 135,379 135,374 135,370 136,365 138,360 140,355 144,347 148,339 154,332 157,324 159,316 160,303 160,285 160,266 160,250 159,237 159,224 157,216 155,210 151,209" fill="#778aca"/>
<polygon points="151,209 153,210 155,216 156,224 156,237 157,250 157,266 157,285 157,303 157,316 155,324 151,332 146,339 141,347 137,355 135,360 133,365 132,370 131,374 132,379 133,384 135,393 139,401 144,409 151,424 155,440 159,463 160,479 161,494 162,510 163,530 163,550 162,570 162,585 162,594 161,603 160,609 158,614 157,617 155,618 155,618 159,617 163,614 167,609 169,603 171,594 172,585 172,570 172,550 171,530 170,510 169,494 167,479 165,463 162,440 157,424 150,409 145,401 141,393 139,384 138,379 138,374 139,370 140,365 141,360 143,355 147,347 151,339 156,332 160,324 162,316 163,303 163,285 163,266 163,250 162,237 161,224 160,216 156,210 151,209" fill="#7e90ce"/>
<polygon points="151,209 155,210 157,216 159,224 159,237 160,250 160,266 160,285 160,303 159,316 157,324 154,332 148,339 144,347 140,355 138,360 136,365 135,370 135,374 135,379 136,384 138,393 142,401 147,409 154,424 158,440 162,463 164,479 165,494 166,510 167,530 167,550 167,570 167,585 166,594 165,603 163,609 161,614 158,617 155,618 155,618 160,617 165,614 170,609 173,603 175,594 176,585 176,570 176,550 176,530 174,510 173,494 171,479 169,463 165,440 160,424 153,409 148,401 144,393 143,384 142,379 142,374 142,370 143,365 144,360 146,355 150,347 154,339 159,332 163,324 165,316 166,303 166,285 166,266 166,250 166,237 164,224 162,216 158,210 151,209" fill="#8494d0"/>
<polygon points="151,209 156,210 160,216 161,224 162,237 163,250 163,266 163,285 163,303 162,316 160,324 156,332 151,339 147,347 143,355 141,360 140,365 139,370 138,374 138,379 139,384 141,393 145,401 150,409 157,424 162,440 165,463 167,479 169,494 170,510 171,530 172,550 172,570 172,585 171,594 169,603 167,609 163,614 159,617 155,618 155,618 162,617 168,614 173,609 177,603 180,594 181,585 181,570 180,550 180,530 178,510 176,494 175,479 172,463 168,440 163,424 156,409 151,401 147,393 146,384 145,379 145,374 145,370 146,365 147,360 149,355 152,347 157,339 162,332 166,324 168,316 169,303 169,285 169,266 169,250 169,237 167,224 165,216 159,210 151,209" fill="#8999d3"/>
<polygon points="151,209 158,210 162,216 164,224 166,237 166,250 166,266 166,285 166,303 165,316 163,324 159,332 154,339 150,347 146,355 144,360 143,365 142,370 142,374 142,379 143,384 144,393 148,401 153,409 160,424 165,440 169,463 171,479 173,494 174,510 176,530 176,550 176,570 176,585 175,594 173,603 170,609 165,614 160,617 155,618 155,618 166,617 177,614 187,609 193,603 197,594 199,585 199,570 199,550 197,530 195,510 192,494 189,479 186,463 181,440 175,424 168,409 163,401 160,393 159,384 159,379 159,374 159,370 159,365 159,360 160,355 164,347 168,339 174,332 177,324 180,316 181,303 181,285 181,266 182,250 181,237 179,224 175,216 165,210 151,209" fill="#8c9bd6"/></g>
</g>
<path d="M107.60,364.60 L110.20,364.60 L108.90,372.10 Z M107.60,384.60 L110.20,384.60 L108.90,377.10 Z" fill="#15161c" opacity="0.85"/>
<g clip-path="url(#h3)"><g filter="url(#hb2)" opacity="0.8"><ellipse cx="82.60" cy="375.80" rx="21.6" ry="18.2" fill="#2c4a98"/><ellipse cx="135.00" cy="375.80" rx="21.6" ry="18.2" fill="#2c4a98"/></g></g>
<ellipse cx="82.30" cy="375.20" rx="17.90" ry="14.30" fill="url(#cg)" stroke="#15161c" stroke-width="2"/>
<ellipse cx="134.70" cy="375.20" rx="17.90" ry="14.30" fill="url(#cg)" stroke="#15161c" stroke-width="2"/>
<path d="M299.40,208.90 C302.30,208.89 305.70,209.29 308.20,210.50 C310.55,211.64 312.67,213.56 314.10,215.70 C315.57,217.90 316.16,220.59 316.80,223.60 C317.61,227.38 317.90,232.31 318.00,236.70 C318.10,241.11 317.66,245.36 317.40,250.00 C317.11,255.09 316.64,260.44 316.30,266.00 C315.93,272.06 315.52,278.75 315.30,285.00 C315.09,291.08 314.92,297.52 315.00,303.00 C315.07,307.60 315.12,311.98 315.60,315.70 C315.99,318.66 316.39,321.02 317.30,323.60 C318.25,326.30 319.86,328.90 321.30,331.50 C322.76,334.14 324.44,336.69 326.00,339.30 C327.57,341.92 329.13,344.58 330.70,347.20 C332.26,349.81 333.95,352.63 335.40,355.00 C336.62,357.00 337.71,358.74 338.80,360.50 C339.81,362.13 340.75,363.62 341.70,365.20 C342.65,366.79 343.90,368.37 344.50,370.00 C345.04,371.48 345.30,373.00 345.30,374.50 C345.30,376.00 345.03,377.51 344.50,379.00 C343.90,380.67 342.61,382.06 341.70,384.00 C340.53,386.51 339.56,390.06 338.30,392.90 C337.09,395.62 335.73,398.11 334.30,400.70 C332.84,403.35 331.24,405.46 329.60,408.60 C327.36,412.89 324.24,418.97 322.50,424.30 C320.82,429.44 319.98,434.24 319.20,440.00 C318.27,446.88 318.08,455.97 317.80,462.90 C317.57,468.65 317.50,473.44 317.50,478.70 C317.50,483.94 317.58,489.18 317.80,494.40 C318.02,499.61 318.43,504.48 318.80,510.00 C319.22,516.25 319.78,523.33 320.20,530.00 C320.62,536.67 320.92,543.33 321.30,550.00 C321.68,556.67 322.29,563.81 322.50,570.00 C322.68,575.36 322.85,580.64 322.60,585.00 C322.41,588.39 322.12,591.06 321.50,594.00 C320.88,596.93 320.02,599.96 318.90,602.60 C317.85,605.06 316.62,607.39 315.10,609.40 C313.64,611.34 311.98,613.17 310.00,614.50 C307.99,615.85 305.48,616.75 303.10,617.40 C300.74,618.04 298.22,618.40 295.80,618.40 C293.42,618.40 291.00,618.04 288.70,617.40 C286.36,616.75 284.00,615.80 281.90,614.50 C279.73,613.16 277.61,611.37 275.90,609.40 C274.17,607.41 272.72,605.09 271.60,602.60 C270.42,599.98 269.72,596.92 269.10,594.00 C268.48,591.06 268.14,588.39 267.90,585.00 C267.60,580.64 267.78,575.36 267.80,570.00 C267.83,563.81 267.93,556.67 268.10,550.00 C268.27,543.33 268.40,536.66 268.80,530.00 C269.20,523.33 269.83,516.25 270.50,510.00 C271.09,504.47 271.83,499.61 272.50,494.40 C273.17,489.18 273.77,483.94 274.50,478.70 C275.23,473.44 275.91,468.64 276.90,462.90 C278.09,455.96 279.53,446.87 281.30,440.00 C282.79,434.22 284.35,429.47 286.40,424.30 C288.50,419.00 291.59,412.91 293.80,408.60 C295.40,405.49 296.81,403.34 298.20,400.70 C299.57,398.11 301.22,395.66 302.10,392.90 C303.00,390.10 303.20,386.55 303.50,384.00 C303.73,382.10 303.82,380.62 303.90,379.00 C303.98,377.46 304.02,376.00 304.00,374.50 C303.98,373.00 303.93,371.52 303.80,370.00 C303.67,368.42 303.45,366.79 303.20,365.20 C302.95,363.62 302.68,362.12 302.30,360.50 C301.89,358.73 301.55,356.95 300.80,355.00 C299.88,352.58 298.26,349.80 296.90,347.20 C295.52,344.56 294.16,341.89 292.60,339.30 C291.00,336.66 288.93,334.16 287.40,331.50 C285.91,328.92 284.49,326.29 283.50,323.60 C282.55,321.02 281.98,318.67 281.50,315.70 C280.90,311.99 280.80,307.60 280.60,303.00 C280.36,297.52 280.37,291.08 280.30,285.00 C280.23,278.75 280.22,272.06 280.20,266.00 C280.19,260.44 280.12,255.09 280.20,250.00 C280.27,245.36 280.27,241.11 280.60,236.70 C280.93,232.31 281.36,227.38 282.20,223.60 C282.87,220.60 283.31,217.89 284.80,215.70 C286.26,213.54 288.61,211.63 291.00,210.50 C293.46,209.33 296.57,208.91 299.40,208.90Z" fill="#2a1412"/>
<path d="M384.40,208.90 C387.23,208.91 390.34,209.33 392.80,210.50 C395.19,211.63 397.54,213.54 399.00,215.70 C400.49,217.89 400.93,220.60 401.60,223.60 C402.44,227.38 402.87,232.31 403.20,236.70 C403.53,241.11 403.53,245.36 403.60,250.00 C403.68,255.09 403.61,260.44 403.60,266.00 C403.58,272.06 403.57,278.75 403.50,285.00 C403.43,291.08 403.44,297.52 403.20,303.00 C403.00,307.60 402.90,311.99 402.30,315.70 C401.82,318.67 401.25,321.02 400.30,323.60 C399.31,326.29 397.89,328.92 396.40,331.50 C394.87,334.16 392.80,336.66 391.20,339.30 C389.64,341.89 388.28,344.56 386.90,347.20 C385.54,349.80 383.92,352.58 383.00,355.00 C382.25,356.95 381.91,358.73 381.50,360.50 C381.12,362.12 380.85,363.62 380.60,365.20 C380.35,366.79 380.13,368.42 380.00,370.00 C379.87,371.52 379.82,373.00 379.80,374.50 C379.78,376.00 379.82,377.46 379.90,379.00 C379.98,380.62 380.07,382.10 380.30,384.00 C380.60,386.55 380.80,390.10 381.70,392.90 C382.58,395.66 384.23,398.11 385.60,400.70 C386.99,403.34 388.40,405.49 390.00,408.60 C392.21,412.91 395.30,419.00 397.40,424.30 C399.45,429.47 401.01,434.22 402.50,440.00 C404.27,446.87 405.71,455.96 406.90,462.90 C407.89,468.64 408.57,473.44 409.30,478.70 C410.03,483.94 410.63,489.18 411.30,494.40 C411.97,499.61 412.71,504.47 413.30,510.00 C413.97,516.25 414.60,523.33 415.00,530.00 C415.40,536.66 415.53,543.33 415.70,550.00 C415.87,556.67 415.97,563.81 416.00,570.00 C416.02,575.36 416.20,580.64 415.90,585.00 C415.66,588.39 415.32,591.06 414.70,594.00 C414.08,596.92 413.38,599.98 412.20,602.60 C411.08,605.09 409.63,607.41 407.90,609.40 C406.19,611.37 404.07,613.16 401.90,614.50 C399.80,615.80 397.44,616.75 395.10,617.40 C392.80,618.04 390.38,618.40 388.00,618.40 C385.58,618.40 383.06,618.04 380.70,617.40 C378.32,616.75 375.81,615.85 373.80,614.50 C371.82,613.17 370.16,611.34 368.70,609.40 C367.18,607.39 365.95,605.06 364.90,602.60 C363.78,599.96 362.92,596.93 362.30,594.00 C361.68,591.06 361.39,588.39 361.20,585.00 C360.95,580.64 361.12,575.36 361.30,570.00 C361.51,563.81 362.12,556.67 362.50,550.00 C362.88,543.33 363.18,536.67 363.60,530.00 C364.02,523.33 364.58,516.25 365.00,510.00 C365.37,504.48 365.78,499.61 366.00,494.40 C366.22,489.18 366.30,483.94 366.30,478.70 C366.30,473.44 366.23,468.65 366.00,462.90 C365.72,455.97 365.53,446.88 364.60,440.00 C363.82,434.24 362.98,429.44 361.30,424.30 C359.56,418.97 356.44,412.89 354.20,408.60 C352.56,405.46 350.96,403.35 349.50,400.70 C348.07,398.11 346.71,395.62 345.50,392.90 C344.24,390.06 343.27,386.51 342.10,384.00 C341.19,382.06 339.90,380.67 339.30,379.00 C338.77,377.51 338.50,376.00 338.50,374.50 C338.50,373.00 338.76,371.48 339.30,370.00 C339.90,368.37 341.15,366.79 342.10,365.20 C343.05,363.62 343.99,362.13 345.00,360.50 C346.09,358.74 347.18,357.00 348.40,355.00 C349.85,352.63 351.54,349.81 353.10,347.20 C354.67,344.58 356.23,341.92 357.80,339.30 C359.36,336.69 361.04,334.14 362.50,331.50 C363.94,328.90 365.55,326.30 366.50,323.60 C367.41,321.02 367.81,318.66 368.20,315.70 C368.68,311.98 368.73,307.60 368.80,303.00 C368.88,297.52 368.71,291.08 368.50,285.00 C368.28,278.75 367.87,272.06 367.50,266.00 C367.16,260.44 366.69,255.09 366.40,250.00 C366.14,245.36 365.70,241.11 365.80,236.70 C365.90,232.31 366.19,227.38 367.00,223.60 C367.64,220.59 368.23,217.90 369.70,215.70 C371.13,213.56 373.25,211.64 375.60,210.50 C378.10,209.29 381.50,208.89 384.40,208.90Z" fill="#2a1412"/>
<g clip-path="url(#c4)">
<g filter="url(#bl)"><polygon points="299,209 286,210 276,216 272,224 269,237 269,250 269,266 270,285 270,303 271,316 273,324 277,332 283,339 287,347 290,355 291,360 292,365 292,370 292,374 292,379 292,384 291,393 287,401 283,409 276,424 270,440 265,463 262,479 259,494 256,510 253,530 252,550 251,570 251,585 253,594 257,603 264,609 273,614 284,617 296,618 296,618 290,617 285,614 281,609 278,603 276,594 275,585 275,570 275,550 275,530 277,510 278,494 280,479 282,463 286,440 291,424 298,409 303,401 307,393 308,384 309,379 309,374 309,370 308,365 307,360 305,355 301,347 297,339 292,332 288,324 286,316 285,303 285,285 285,266 285,250 285,237 287,224 288,216 293,210 299,209" fill="#f37658"/>
<polygon points="299,209 292,210 286,216 284,224 282,237 282,250 282,266 282,285 282,303 283,316 285,324 289,332 294,339 298,347 302,355 304,360 305,365 305,370 306,374 306,379 305,384 304,393 300,401 295,409 288,424 283,440 279,463 276,479 274,494 273,510 271,530 270,550 270,570 270,585 271,594 274,603 278,609 283,614 289,617 296,618 296,618 292,617 288,614 284,609 281,603 280,594 279,585 279,570 279,550 280,530 281,510 282,494 283,479 285,463 289,440 294,424 301,409 306,401 310,393 311,384 312,379 313,374 312,370 311,365 310,360 308,355 304,347 300,339 294,332 291,324 289,316 288,303 288,285 288,266 288,250 288,237 289,224 291,216 295,210 299,209" fill="#f16d4f"/>
<polygon points="299,209 293,210 288,216 287,224 285,237 285,250 285,266 285,285 285,303 286,316 288,324 292,332 297,339 301,347 305,355 307,360 308,365 309,370 309,374 309,379 308,384 307,393 303,401 298,409 291,424 286,440 282,463 280,479 278,494 277,510 275,530 275,550 275,570 275,585 276,594 278,603 281,609 285,614 290,617 296,618 296,618 293,617 290,614 287,609 285,603 284,594 284,585 284,570 284,550 284,530 285,510 286,494 287,479 289,463 292,440 297,424 304,409 309,401 313,393 315,384 316,379 316,374 316,370 314,365 313,360 311,355 307,347 302,339 297,332 293,324 291,316 291,303 291,285 291,266 291,250 292,237 292,224 293,216 296,210 299,209" fill="#f06447"/>
<polygon points="299,209 295,210 291,216 289,224 288,237 288,250 288,266 288,285 288,303 289,316 291,324 294,332 300,339 304,347 308,355 310,360 311,365 312,370 313,374 312,379 311,384 310,393 306,401 301,409 294,424 289,440 285,463 283,479 282,494 281,510 280,530 279,550 279,570 279,585 280,594 281,603 284,609 288,614 292,617 296,618 296,618 294,617 292,614 291,609 289,603 289,594 288,585 288,570 288,550 288,530 289,510 289,494 291,479 292,463 296,440 300,424 307,409 312,401 316,393 318,384 319,379 319,374 319,370 318,365 316,360 314,355 310,347 305,339 300,332 296,324 294,316 294,303 293,285 294,266 294,250 295,237 295,224 296,216 297,210 299,209" fill="#ef5b41"/>
<polygon points="299,209 296,210 293,216 292,224 292,237 291,250 291,266 291,285 291,303 291,316 293,324 297,332 302,339 307,347 311,355 313,360 314,365 316,370 316,374 316,379 315,384 313,393 309,401 304,409 297,424 292,440 289,463 287,479 286,494 285,510 284,530 284,550 284,570 284,585 284,594 285,603 287,609 290,614 293,617 296,618 296,618 295,617 295,614 294,609 293,603 293,594 293,585 293,570 292,550 292,530 293,510 293,494 294,479 296,463 299,440 303,424 310,409 315,401 319,393 321,384 323,379 323,374 322,370 321,365 319,360 317,355 312,347 308,339 303,332 299,324 297,316 296,303 296,285 297,266 297,250 298,237 298,224 298,216 299,210 299,209" fill="#ee533a"/>
<polygon points="299,209 297,210 296,216 295,224 295,237 294,250 294,266 293,285 294,303 294,316 296,324 300,332 305,339 310,347 314,355 316,360 318,365 319,370 319,374 319,379 318,384 316,393 312,401 307,409 300,424 296,440 292,463 291,479 289,494 289,510 288,530 288,550 288,570 288,585 289,594 289,603 291,609 292,614 294,617 296,618 296,618 296,617 297,614 297,609 297,603 297,594 298,585 297,570 297,550 297,530 297,510 297,494 298,479 299,463 302,440 306,424 313,409 318,401 322,393 324,384 326,379 326,374 326,370 324,365 322,360 320,355 315,347 311,339 306,332 302,324 300,316 299,303 299,285 300,266 300,250 301,237 301,224 301,216 300,210 299,209" fill="#ee4934"/>
<polygon points="299,209 299,210 298,216 298,224 298,237 297,250 297,266 296,285 296,303 297,316 299,324 303,332 308,339 312,347 317,355 319,360 321,365 322,370 323,374 323,379 321,384 319,393 315,401 310,409 303,424 299,440 296,463 294,479 293,494 293,510 292,530 292,550 293,570 293,585 293,594 293,603 294,609 295,614 295,617 296,618 296,618 298,617 299,614 300,609 301,603 302,594 302,585 302,570 301,550 301,530 301,510 301,494 301,479 302,463 305,440 309,424 316,409 321,401 325,393 327,384 329,379 330,374 329,370 327,365 325,360 322,355 318,347 313,339 309,332 305,324 303,316 302,303 302,285 303,266 303,250 304,237 304,224 303,216 302,210 299,209" fill="#ed402f"/>
<polygon points="299,209 300,210 301,216 301,224 301,237 300,250 300,266 299,285 299,303 300,316 302,324 306,332 311,339 315,347 320,355 322,360 324,365 326,370 326,374 326,379 324,384 322,393 318,401 313,409 306,424 302,440 299,463 298,479 297,494 297,510 297,530 297,550 297,570 298,585 297,594 297,603 297,609 297,614 296,617 296,618 296,618 299,617 302,614 304,609 305,603 306,594 307,585 307,570 306,550 305,530 305,510 305,494 305,479 306,463 308,440 312,424 319,409 324,401 328,393 331,384 333,379 333,374 333,370 330,365 328,360 325,355 321,347 316,339 311,332 307,324 306,316 305,303 305,285 306,266 307,250 307,237 307,224 306,216 303,210 299,209" fill="#ec372a"/>
<polygon points="299,209 302,210 303,216 304,224 304,237 303,250 303,266 302,285 302,303 303,316 305,324 309,332 313,339 318,347 322,355 325,360 327,365 329,370 330,374 329,379 327,384 325,393 321,401 316,409 309,424 305,440 302,463 301,479 301,494 301,510 301,530 301,550 302,570 302,585 302,594 301,603 300,609 299,614 298,617 296,618 296,618 300,617 304,614 307,609 309,603 311,594 311,585 311,570 310,550 309,530 309,510 308,494 309,479 309,463 311,440 315,424 322,409 327,401 331,393 334,384 336,379 337,374 336,370 334,365 331,360 328,355 324,347 319,339 314,332 310,324 308,316 308,303 308,285 309,266 310,250 310,237 310,224 308,216 305,210 299,209" fill="#ec2f27"/>
<polygon points="299,209 303,210 306,216 307,224 307,237 307,250 306,266 305,285 305,303 306,316 307,324 311,332 316,339 321,347 325,355 328,360 330,365 333,370 333,374 333,379 331,384 328,393 324,401 319,409 312,424 308,440 306,463 305,479 305,494 305,510 305,530 306,550 307,570 307,585 306,594 305,603 304,609 302,614 299,617 296,618 296,618 301,617 306,614 310,609 313,603 315,594 316,585 316,570 315,550 314,530 313,510 312,494 312,479 313,463 314,440 318,424 325,409 330,401 334,393 337,384 339,379 340,374 339,370 337,365 334,360 331,355 326,347 322,339 317,332 313,324 311,316 311,303 311,285 312,266 313,250 313,237 312,224 310,216 306,210 299,209" fill="#ec2925"/>
<polygon points="299,209 305,210 308,216 310,224 310,237 310,250 309,266 308,285 308,303 308,316 310,324 314,332 319,339 324,347 328,355 331,360 334,365 336,370 337,374 336,379 334,384 331,393 327,401 322,409 315,424 311,440 309,463 309,479 308,494 309,510 309,530 310,550 311,570 311,585 311,594 309,603 307,609 304,614 300,617 296,618 296,618 302,617 309,614 313,609 317,603 319,594 320,585 320,570 319,550 318,530 317,510 316,494 316,479 316,463 318,440 321,424 328,409 333,401 337,393 340,384 343,379 344,374 343,370 340,365 337,360 334,355 329,347 325,339 320,332 316,324 314,316 314,303 314,285 315,266 316,250 316,237 315,224 313,216 307,210 299,209" fill="#ec2625"/>
<polygon points="299,209 306,210 310,216 312,224 313,237 313,250 312,266 311,285 311,303 311,316 313,324 317,332 322,339 326,347 331,355 334,360 337,365 339,370 340,374 339,379 337,384 334,393 330,401 325,409 318,424 314,440 313,463 312,479 312,494 313,510 314,530 315,550 316,570 316,585 315,594 313,603 310,609 306,614 301,617 296,618 296,618 307,617 318,614 327,609 333,603 337,594 339,585 339,570 337,550 336,530 333,510 331,494 330,479 330,463 331,440 333,424 340,409 345,401 349,393 353,384 357,379 358,374 357,370 353,365 350,360 346,355 341,347 336,339 331,332 327,324 326,316 325,303 326,285 327,266 329,250 329,237 327,224 323,216 313,210 299,209" fill="#ef5340"/></g>
</g>
<g clip-path="url(#c5)">
<g filter="url(#bl)"><polygon points="384,209 370,210 361,216 357,224 355,237 355,250 357,266 358,285 358,303 358,316 356,324 352,332 348,339 343,347 338,355 334,360 331,365 327,370 326,374 327,379 331,384 335,393 339,401 343,409 350,424 353,440 354,463 353,479 352,494 351,510 348,530 347,550 345,570 345,585 347,594 351,603 357,609 365,614 376,617 388,618 388,618 383,617 377,614 374,609 371,603 369,594 368,585 368,570 369,550 370,530 371,510 372,494 372,479 371,463 369,440 366,424 359,409 354,401 350,393 347,384 344,379 344,374 344,370 347,365 350,360 353,355 357,347 362,339 367,332 371,324 372,316 373,303 373,285 372,266 371,250 370,237 371,224 373,216 378,210 384,209" fill="#ef5340"/>
<polygon points="384,209 376,210 371,216 368,224 367,237 368,250 369,266 370,285 370,303 370,316 368,324 364,332 359,339 355,347 350,355 347,360 344,365 341,370 340,374 341,379 344,384 347,393 351,401 356,409 363,424 366,440 368,463 368,479 368,494 367,510 366,530 365,550 364,570 363,585 364,594 367,603 370,609 375,614 381,617 388,618 388,618 384,617 380,614 377,609 375,603 373,594 373,585 373,570 374,550 374,530 375,510 375,494 375,479 375,463 372,440 369,424 362,409 357,401 353,393 350,384 348,379 347,374 348,370 350,365 353,360 356,355 360,347 365,339 370,332 374,324 375,316 376,303 376,285 375,266 374,250 374,237 374,224 376,216 379,210 384,209" fill="#ec2625"/>
<polygon points="384,209 378,210 373,216 371,224 370,237 371,250 372,266 373,285 373,303 372,316 371,324 367,332 362,339 357,347 353,355 350,360 347,365 344,370 344,374 344,379 347,384 350,393 354,401 359,409 366,424 369,440 371,463 372,479 372,494 371,510 370,530 369,550 368,570 368,585 369,594 371,603 374,609 377,614 383,617 388,618 388,618 385,617 382,614 380,609 379,603 378,594 377,585 377,570 378,550 379,530 379,510 379,494 379,479 378,463 376,440 372,424 365,409 360,401 356,393 353,384 351,379 351,374 351,370 353,365 356,360 358,355 363,347 368,339 372,332 376,324 378,316 379,303 379,285 378,266 377,250 377,237 377,224 378,216 381,210 384,209" fill="#ec2925"/>
<polygon points="384,209 379,210 376,216 374,224 374,237 374,250 375,266 376,285 376,303 375,316 374,324 370,332 365,339 360,347 356,355 353,360 350,365 348,370 347,374 348,379 350,384 353,393 357,401 362,409 369,424 372,440 375,463 375,479 375,494 375,510 374,530 374,550 373,570 373,585 373,594 375,603 377,609 380,614 384,617 388,618 388,618 386,617 384,614 383,609 383,603 382,594 382,585 382,570 382,550 383,530 383,510 383,494 382,479 381,463 379,440 375,424 368,409 363,401 359,393 356,384 355,379 354,374 355,370 357,365 359,360 361,355 366,347 370,339 375,332 379,324 381,316 382,303 382,285 381,266 380,250 380,237 380,224 381,216 382,210 384,209" fill="#ec2f27"/>
<polygon points="384,209 381,210 378,216 377,224 377,237 377,250 378,266 379,285 379,303 378,316 376,324 372,332 368,339 363,347 358,355 356,360 353,365 351,370 351,374 351,379 353,384 356,393 360,401 365,409 372,424 376,440 378,463 379,479 379,494 379,510 379,530 378,550 377,570 377,585 378,594 379,603 380,609 382,614 385,617 388,618 388,618 387,617 387,614 387,609 387,603 386,594 386,585 386,570 387,550 387,530 387,510 387,494 386,479 385,463 382,440 378,424 371,409 366,401 362,393 360,384 358,379 357,374 358,370 360,365 362,360 364,355 369,347 373,339 378,332 382,324 384,316 385,303 385,285 384,266 383,250 383,237 383,224 383,216 383,210 384,209" fill="#ec372a"/>
<polygon points="384,209 382,210 381,216 380,224 380,237 380,250 381,266 382,285 382,303 381,316 379,324 375,332 370,339 366,347 361,355 359,360 357,365 355,370 354,374 355,379 356,384 359,393 363,401 368,409 375,424 379,440 381,463 382,479 383,494 383,510 383,530 382,550 382,570 382,585 382,594 383,603 383,609 384,614 386,617 388,618 388,618 389,617 389,614 390,609 391,603 391,594 391,585 391,570 391,550 391,530 391,510 391,494 390,479 388,463 385,440 381,424 374,409 369,401 365,393 363,384 361,379 361,374 361,370 363,365 365,360 367,355 371,347 376,339 381,332 385,324 387,316 387,303 387,285 387,266 387,250 386,237 386,224 386,216 385,210 384,209" fill="#ed402f"/>
<polygon points="384,209 383,210 383,216 383,224 383,237 383,250 384,266 385,285 385,303 384,316 382,324 378,332 373,339 369,347 364,355 362,360 360,365 358,370 357,374 358,379 360,384 362,393 366,401 371,409 378,424 382,440 385,463 386,479 387,494 387,510 387,530 387,550 386,570 386,585 386,594 387,603 387,609 387,614 387,617 388,618 388,618 390,617 391,614 393,609 394,603 395,594 395,585 395,570 396,550 396,530 395,510 394,494 393,479 392,463 388,440 384,424 377,409 372,401 368,393 366,384 365,379 364,374 365,370 366,365 368,360 370,355 374,347 379,339 384,332 388,324 390,316 390,303 390,285 390,266 390,250 389,237 389,224 388,216 386,210 384,209" fill="#ee4934"/>
<polygon points="384,209 385,210 386,216 386,224 386,237 387,250 387,266 387,285 387,303 387,316 385,324 381,332 376,339 371,347 367,355 365,360 363,365 361,370 361,374 361,379 363,384 365,393 369,401 374,409 381,424 385,440 388,463 390,479 391,494 391,510 391,530 391,550 391,570 391,585 391,594 391,603 390,609 389,614 389,617 388,618 388,618 391,617 394,614 396,609 398,603 399,594 400,585 400,570 400,550 400,530 399,510 398,494 397,479 395,463 391,440 387,424 380,409 375,401 371,393 369,384 368,379 368,374 368,370 369,365 371,360 373,355 377,347 381,339 387,332 390,324 392,316 393,303 393,285 393,266 393,250 392,237 392,224 390,216 388,210 384,209" fill="#ee533a"/>
<polygon points="384,209 386,210 388,216 389,224 389,237 390,250 390,266 390,285 390,303 390,316 388,324 384,332 379,339 374,347 370,355 368,360 366,365 365,370 364,374 365,379 366,384 368,393 372,401 377,409 384,424 388,440 392,463 393,479 394,494 395,510 396,530 396,550 395,570 395,585 395,594 394,603 393,609 391,614 390,617 388,618 388,618 392,617 396,614 400,609 402,603 404,594 405,585 405,570 405,550 404,530 403,510 402,494 400,479 398,463 395,440 390,424 383,409 378,401 374,393 372,384 371,379 371,374 372,370 373,365 374,360 376,355 380,347 384,339 389,332 393,324 395,316 396,303 396,285 396,266 396,250 395,237 394,224 393,216 389,210 384,209" fill="#ef5b41"/>
<polygon points="384,209 388,210 390,216 392,224 392,237 393,250 393,266 393,285 393,303 392,316 390,324 387,332 381,339 377,347 373,355 371,360 369,365 368,370 368,374 368,379 369,384 371,393 375,401 380,409 387,424 391,440 395,463 397,479 398,494 399,510 400,530 400,550 400,570 400,585 399,594 398,603 396,609 394,614 391,617 388,618 388,618 393,617 398,614 403,609 406,603 408,594 409,585 409,570 409,550 409,530 407,510 406,494 404,479 402,463 398,440 393,424 386,409 381,401 377,393 376,384 375,379 375,374 375,370 376,365 377,360 379,355 383,347 387,339 392,332 396,324 398,316 399,303 399,285 399,266 399,250 399,237 397,224 395,216 391,210 384,209" fill="#f06447"/>
<polygon points="384,209 389,210 393,216 394,224 395,237 396,250 396,266 396,285 396,303 395,316 393,324 389,332 384,339 380,347 376,355 374,360 373,365 372,370 371,374 371,379 372,384 374,393 378,401 383,409 390,424 395,440 398,463 400,479 402,494 403,510 404,530 405,550 405,570 405,585 404,594 402,603 400,609 396,614 392,617 388,618 388,618 394,617 401,614 406,609 410,603 413,594 414,585 414,570 413,550 413,530 411,510 409,494 408,479 405,463 401,440 396,424 389,409 384,401 380,393 379,384 378,379 378,374 378,370 379,365 380,360 382,355 385,347 390,339 395,332 399,324 401,316 402,303 402,285 402,266 402,250 402,237 400,224 398,216 392,210 384,209" fill="#f16d4f"/>
<polygon points="384,209 391,210 395,216 397,224 399,237 399,250 399,266 399,285 399,303 398,316 396,324 392,332 387,339 383,347 379,355 377,360 376,365 375,370 375,374 375,379 376,384 377,393 381,401 386,409 393,424 398,440 402,463 404,479 406,494 407,510 409,530 409,550 409,570 409,585 408,594 406,603 403,609 398,614 393,617 388,618 388,618 399,617 410,614 420,609 426,603 430,594 432,585 432,570 432,550 430,530 428,510 425,494 422,479 419,463 414,440 408,424 401,409 396,401 393,393 392,384 392,379 392,374 392,370 392,365 392,360 393,355 397,347 401,339 407,332 410,324 413,316 414,303 414,285 414,266 415,250 414,237 412,224 408,216 398,210 384,209" fill="#f37658"/></g>
</g>
<path d="M340.60,364.60 L343.20,364.60 L341.90,372.10 Z M340.60,384.60 L343.20,384.60 L341.90,377.10 Z" fill="#2a1412" opacity="0.85"/>
<g clip-path="url(#h6)"><g filter="url(#hb2)" opacity="0.8"><ellipse cx="315.60" cy="375.80" rx="21.6" ry="18.2" fill="#a8141a"/><ellipse cx="368.00" cy="375.80" rx="21.6" ry="18.2" fill="#a8141a"/></g></g>
<ellipse cx="315.30" cy="375.20" rx="17.90" ry="14.30" fill="url(#cg)" stroke="#15161c" stroke-width="2"/>
<ellipse cx="367.70" cy="375.20" rx="17.90" ry="14.30" fill="url(#cg)" stroke="#15161c" stroke-width="2"/>
<path d="M701.40,208.90 C704.30,208.89 707.70,209.29 710.20,210.50 C712.55,211.64 714.67,213.56 716.10,215.70 C717.57,217.90 718.16,220.59 718.80,223.60 C719.61,227.38 719.90,232.31 720.00,236.70 C720.10,241.11 719.66,245.36 719.40,250.00 C719.11,255.09 718.64,260.44 718.30,266.00 C717.93,272.06 717.52,278.75 717.30,285.00 C717.09,291.08 716.92,297.52 717.00,303.00 C717.07,307.60 717.12,311.98 717.60,315.70 C717.99,318.66 718.39,321.02 719.30,323.60 C720.25,326.30 721.86,328.90 723.30,331.50 C724.76,334.14 726.44,336.69 728.00,339.30 C729.57,341.92 731.13,344.58 732.70,347.20 C734.26,349.81 735.95,352.63 737.40,355.00 C738.62,357.00 739.71,358.74 740.80,360.50 C741.81,362.13 742.75,363.62 743.70,365.20 C744.65,366.79 745.90,368.37 746.50,370.00 C747.04,371.48 747.30,373.00 747.30,374.50 C747.30,376.00 747.03,377.51 746.50,379.00 C745.90,380.67 744.61,382.06 743.70,384.00 C742.53,386.51 741.56,390.06 740.30,392.90 C739.09,395.62 737.73,398.11 736.30,400.70 C734.84,403.35 733.24,405.46 731.60,408.60 C729.36,412.89 726.24,418.97 724.50,424.30 C722.82,429.44 722.04,434.52 721.20,440.00 C720.30,445.91 719.91,452.31 719.40,458.60 C718.87,465.07 718.60,472.55 718.10,478.30 C717.71,482.80 717.16,486.51 716.80,490.30 C716.48,493.70 716.34,496.70 716.00,500.00 C715.65,503.46 715.39,507.63 714.70,510.60 C714.18,512.85 713.42,514.17 712.70,516.40 C711.73,519.40 710.86,523.57 709.50,527.00 C708.13,530.44 706.47,533.65 704.50,537.00 C702.36,540.65 699.59,544.09 697.00,548.00 C694.11,552.37 690.89,557.41 688.00,562.00 C685.23,566.40 682.28,570.72 680.00,575.00 C677.91,578.91 676.55,583.13 674.70,586.60 C673.10,589.60 671.73,591.94 669.70,594.70 C667.31,597.95 664.17,601.75 661.00,604.70 C657.92,607.56 654.59,610.32 651.00,612.20 C647.51,614.02 643.46,615.55 639.80,615.90 C636.44,616.22 633.09,615.74 629.90,614.60 C626.44,613.36 622.54,611.00 619.90,608.40 C617.42,605.97 615.43,602.83 614.30,599.70 C613.19,596.62 612.90,593.09 613.10,589.80 C613.31,586.46 614.36,583.16 615.60,579.80 C616.97,576.10 619.03,572.14 621.20,568.60 C623.36,565.07 625.96,561.87 628.60,558.60 C631.32,555.23 634.43,551.64 637.30,548.70 C639.82,546.12 642.41,544.33 644.80,541.80 C647.32,539.13 649.53,536.27 652.00,533.00 C654.91,529.14 658.21,524.57 661.00,520.00 C663.89,515.26 666.68,509.87 669.00,505.00 C671.12,500.56 673.15,496.31 674.50,492.00 C675.76,487.98 676.21,484.23 677.00,480.00 C677.88,475.29 678.60,470.64 679.50,465.00 C680.66,457.73 681.57,447.31 683.30,440.00 C684.70,434.10 686.35,429.47 688.40,424.30 C690.50,419.00 693.59,412.91 695.80,408.60 C697.40,405.49 698.81,403.34 700.20,400.70 C701.57,398.11 703.22,395.66 704.10,392.90 C705.00,390.10 705.20,386.55 705.50,384.00 C705.73,382.10 705.82,380.62 705.90,379.00 C705.98,377.46 706.02,376.00 706.00,374.50 C705.98,373.00 705.93,371.52 705.80,370.00 C705.67,368.42 705.45,366.79 705.20,365.20 C704.95,363.62 704.68,362.12 704.30,360.50 C703.89,358.73 703.55,356.95 702.80,355.00 C701.88,352.58 700.26,349.80 698.90,347.20 C697.52,344.56 696.16,341.89 694.60,339.30 C693.00,336.66 690.93,334.16 689.40,331.50 C687.91,328.92 686.49,326.29 685.50,323.60 C684.55,321.02 683.98,318.67 683.50,315.70 C682.90,311.99 682.80,307.60 682.60,303.00 C682.36,297.52 682.37,291.08 682.30,285.00 C682.23,278.75 682.22,272.06 682.20,266.00 C682.19,260.44 682.12,255.09 682.20,250.00 C682.27,245.36 682.27,241.11 682.60,236.70 C682.93,232.31 683.36,227.38 684.20,223.60 C684.87,220.60 685.31,217.89 686.80,215.70 C688.26,213.54 690.61,211.63 693.00,210.50 C695.46,209.33 698.57,208.91 701.40,208.90Z" fill="#2a1412"/>
<path d="M786.40,208.90 C789.23,208.91 792.34,209.33 794.80,210.50 C797.19,211.63 799.54,213.54 801.00,215.70 C802.49,217.89 802.93,220.60 803.60,223.60 C804.44,227.38 804.87,232.31 805.20,236.70 C805.53,241.11 805.53,245.36 805.60,250.00 C805.68,255.09 805.61,260.44 805.60,266.00 C805.58,272.06 805.57,278.75 805.50,285.00 C805.43,291.08 805.44,297.52 805.20,303.00 C805.00,307.60 804.90,311.99 804.30,315.70 C803.82,318.67 803.25,321.02 802.30,323.60 C801.31,326.29 799.89,328.92 798.40,331.50 C796.87,334.16 794.80,336.66 793.20,339.30 C791.64,341.89 790.28,344.56 788.90,347.20 C787.54,349.80 785.92,352.58 785.00,355.00 C784.25,356.95 783.91,358.73 783.50,360.50 C783.12,362.12 782.85,363.62 782.60,365.20 C782.35,366.79 782.13,368.42 782.00,370.00 C781.87,371.52 781.82,373.00 781.80,374.50 C781.78,376.00 781.82,377.46 781.90,379.00 C781.98,380.62 782.07,382.10 782.30,384.00 C782.60,386.55 782.80,390.10 783.70,392.90 C784.58,395.66 786.23,398.11 787.60,400.70 C788.99,403.34 790.40,405.49 792.00,408.60 C794.21,412.91 797.30,419.00 799.40,424.30 C801.45,429.47 803.01,434.22 804.50,440.00 C806.27,446.87 807.71,455.96 808.90,462.90 C809.89,468.64 810.57,473.44 811.30,478.70 C812.03,483.94 812.63,489.18 813.30,494.40 C813.97,499.61 814.71,504.47 815.30,510.00 C815.97,516.25 816.60,523.33 817.00,530.00 C817.40,536.66 817.53,543.33 817.70,550.00 C817.87,556.67 817.97,563.81 818.00,570.00 C818.02,575.36 818.20,580.64 817.90,585.00 C817.66,588.39 817.32,591.06 816.70,594.00 C816.08,596.92 815.38,599.98 814.20,602.60 C813.08,605.09 811.63,607.41 809.90,609.40 C808.19,611.37 806.07,613.16 803.90,614.50 C801.80,615.80 799.44,616.75 797.10,617.40 C794.80,618.04 792.38,618.40 790.00,618.40 C787.58,618.40 785.06,618.04 782.70,617.40 C780.32,616.75 777.81,615.85 775.80,614.50 C773.82,613.17 772.16,611.34 770.70,609.40 C769.18,607.39 767.95,605.06 766.90,602.60 C765.78,599.96 764.92,596.93 764.30,594.00 C763.68,591.06 763.39,588.39 763.20,585.00 C762.95,580.64 763.12,575.36 763.30,570.00 C763.51,563.81 764.12,556.67 764.50,550.00 C764.88,543.33 765.18,536.67 765.60,530.00 C766.02,523.33 766.58,516.25 767.00,510.00 C767.37,504.48 767.78,499.61 768.00,494.40 C768.22,489.18 768.30,483.94 768.30,478.70 C768.30,473.44 768.23,468.65 768.00,462.90 C767.72,455.97 767.53,446.88 766.60,440.00 C765.82,434.24 764.98,429.44 763.30,424.30 C761.56,418.97 758.44,412.89 756.20,408.60 C754.56,405.46 752.96,403.35 751.50,400.70 C750.07,398.11 748.71,395.62 747.50,392.90 C746.24,390.06 745.27,386.51 744.10,384.00 C743.19,382.06 741.90,380.67 741.30,379.00 C740.77,377.51 740.50,376.00 740.50,374.50 C740.50,373.00 740.76,371.48 741.30,370.00 C741.90,368.37 743.15,366.79 744.10,365.20 C745.05,363.62 745.99,362.13 747.00,360.50 C748.09,358.74 749.18,357.00 750.40,355.00 C751.85,352.63 753.54,349.81 755.10,347.20 C756.67,344.58 758.23,341.92 759.80,339.30 C761.36,336.69 763.04,334.14 764.50,331.50 C765.94,328.90 767.55,326.30 768.50,323.60 C769.41,321.02 769.81,318.66 770.20,315.70 C770.68,311.98 770.73,307.60 770.80,303.00 C770.88,297.52 770.71,291.08 770.50,285.00 C770.28,278.75 769.87,272.06 769.50,266.00 C769.16,260.44 768.69,255.09 768.40,250.00 C768.14,245.36 767.70,241.11 767.80,236.70 C767.90,232.31 768.19,227.38 769.00,223.60 C769.64,220.59 770.23,217.90 771.70,215.70 C773.13,213.56 775.25,211.64 777.60,210.50 C780.10,209.29 783.50,208.89 786.40,208.90Z" fill="#2a1412"/>
<g clip-path="url(#c8)">
<g clip-path="url(#u8)"><g filter="url(#bl)"><polygon points="701,209 688,210 678,216 674,224 671,237 671,250 671,266 672,285 672,303 673,316 675,324 679,332 685,339 689,347 692,355 693,360 694,365 694,370 694,374 694,379 694,384 693,393 689,401 685,409 678,424 672,440 669,454 666,474 663,490 660,499 656,505 648,514 636,527 622,541 615,552 608,560 600,571 591,583 582,595 600,608 608,596 617,584 626,573 633,564 640,554 652,540 664,526 673,515 678,505 681,493 683,476 686,457 688,440 693,424 700,409 705,401 709,393 710,384 711,379 711,374 711,370 710,365 709,360 707,355 703,347 699,339 694,332 690,324 688,316 687,303 687,285 687,266 687,250 687,237 689,224 690,216 695,210 701,209" fill="#ef513c"/>
<polygon points="701,209 694,210 688,216 686,224 684,237 684,250 684,266 684,285 684,303 685,316 687,324 691,332 696,339 700,347 704,355 706,360 707,365 707,370 708,374 708,379 707,384 706,393 702,401 697,409 690,424 685,440 682,456 679,476 677,492 674,504 669,513 661,523 649,537 636,552 629,562 622,571 614,582 605,594 597,605 604,610 612,599 621,587 629,576 636,567 643,556 655,542 667,528 676,516 681,506 684,493 686,477 689,457 691,440 696,424 703,409 708,401 712,393 713,384 714,379 715,374 714,370 713,365 712,360 710,355 706,347 702,339 696,332 693,324 691,316 690,303 690,285 690,266 690,250 690,237 691,224 693,216 697,210 701,209" fill="#ee3a2b"/>
<polygon points="701,209 695,210 690,216 689,224 687,237 687,250 687,266 687,285 687,303 688,316 690,324 694,332 699,339 703,347 707,355 709,360 710,365 711,370 711,374 711,379 710,384 709,393 705,401 700,409 693,424 688,440 686,457 683,476 681,493 678,505 673,515 664,526 652,540 640,554 633,564 626,573 617,584 608,596 600,608 607,613 615,602 624,589 633,579 640,569 646,559 658,545 670,530 679,518 684,507 688,494 689,477 692,458 694,440 699,424 706,409 711,401 715,393 717,384 718,379 718,374 718,370 716,365 715,360 713,355 709,347 704,339 699,332 695,324 693,316 693,303 693,285 693,266 693,250 694,237 694,224 695,216 698,210 701,209" fill="#ed3429"/>
<polygon points="701,209 697,210 693,216 691,224 690,237 690,250 690,266 690,285 690,303 691,316 693,324 696,332 702,339 706,347 710,355 712,360 713,365 714,370 715,374 714,379 713,384 712,393 708,401 703,409 696,424 691,440 689,457 686,477 684,493 681,506 676,516 667,528 655,542 643,556 636,567 629,576 621,587 612,599 604,610 611,615 619,604 628,592 636,581 643,571 650,561 661,547 673,533 682,520 688,508 691,494 693,477 695,458 698,440 702,424 709,409 714,401 718,393 720,384 721,379 721,374 721,370 720,365 718,360 716,355 712,347 707,339 702,332 698,324 696,316 696,303 695,285 696,266 696,250 697,237 697,224 698,216 699,210 701,209" fill="#ec2e26"/>
<polygon points="701,209 698,210 695,216 694,224 694,237 693,250 693,266 693,285 693,303 693,316 695,324 699,332 704,339 709,347 713,355 715,360 716,365 718,370 718,374 718,379 717,384 715,393 711,401 706,409 699,424 694,440 692,458 689,477 688,494 684,507 679,518 670,530 658,545 646,559 640,569 633,579 624,589 615,602 607,613 614,618 622,607 631,595 640,584 647,574 653,564 664,550 676,535 685,522 691,509 694,495 696,478 698,458 701,440 705,424 712,409 717,401 721,393 723,384 725,379 725,374 724,370 723,365 721,360 719,355 714,347 710,339 705,332 701,324 699,316 698,303 698,285 699,266 699,250 700,237 700,224 700,216 701,210 701,209" fill="#ec2a24"/>
<polygon points="701,209 699,210 698,216 697,224 697,237 696,250 696,266 695,285 696,303 696,316 698,324 702,332 707,339 712,347 716,355 718,360 720,365 721,370 721,374 721,379 720,384 718,393 714,401 709,409 702,424 698,440 695,458 693,477 691,494 688,508 682,520 673,533 661,547 650,561 643,571 636,581 628,592 619,604 611,615 618,620 626,609 635,597 643,586 650,576 657,566 668,552 680,537 689,524 695,511 698,495 699,478 702,459 704,440 708,424 715,409 720,401 724,393 726,384 728,379 728,374 728,370 726,365 724,360 722,355 717,347 713,339 708,332 704,324 702,316 701,303 701,285 702,266 702,250 703,237 703,224 703,216 702,210 701,209" fill="#ec2825"/>
<polygon points="701,209 701,210 700,216 700,224 700,237 699,250 699,266 698,285 698,303 699,316 701,324 705,332 710,339 714,347 719,355 721,360 723,365 724,370 725,374 725,379 723,384 721,393 717,401 712,409 705,424 701,440 698,458 696,478 694,495 691,509 685,522 676,535 664,550 653,564 647,574 640,584 631,595 622,607 614,618 621,623 629,612 638,600 646,589 654,579 660,569 671,555 683,539 692,526 698,512 701,496 702,479 705,459 707,440 711,424 718,409 723,401 727,393 729,384 731,379 732,374 731,370 729,365 727,360 724,355 720,347 715,339 711,332 707,324 705,316 704,303 704,285 705,266 705,250 706,237 706,224 705,216 704,210 701,209" fill="#ec2726"/>
<polygon points="701,209 702,210 703,216 703,224 703,237 702,250 702,266 701,285 701,303 702,316 704,324 708,332 713,339 717,347 722,355 724,360 726,365 728,370 728,374 728,379 726,384 724,393 720,401 715,409 708,424 704,440 702,459 699,478 698,495 695,511 689,524 680,537 668,552 657,566 650,576 643,586 635,597 626,609 618,620 625,625 633,614 642,603 650,592 658,581 664,571 674,557 686,542 695,528 702,513 704,496 706,479 708,460 710,440 714,424 721,409 726,401 730,393 733,384 735,379 735,374 735,370 732,365 730,360 727,355 723,347 718,339 713,332 709,324 708,316 707,303 707,285 708,266 709,250 709,237 709,224 708,216 705,210 701,209" fill="#ec2a28"/>
<polygon points="701,209 704,210 705,216 706,224 706,237 705,250 705,266 704,285 704,303 705,316 707,324 711,332 715,339 720,347 724,355 727,360 729,365 731,370 732,374 731,379 729,384 727,393 723,401 718,409 711,424 707,440 705,459 702,479 701,496 698,512 692,526 683,539 671,555 660,569 654,579 646,589 638,600 629,612 621,623 628,628 636,617 645,605 653,594 661,584 667,574 677,560 689,544 698,530 705,514 708,497 709,479 711,460 713,440 717,424 724,409 729,401 733,393 736,384 738,379 739,374 738,370 736,365 733,360 730,355 726,347 721,339 716,332 712,324 710,316 710,303 710,285 711,266 712,250 712,237 712,224 710,216 707,210 701,209" fill="#ee362c"/>
<polygon points="701,209 705,210 708,216 709,224 709,237 709,250 708,266 707,285 707,303 708,316 709,324 713,332 718,339 723,347 727,355 730,360 732,365 735,370 735,374 735,379 733,384 730,393 726,401 721,409 714,424 710,440 708,460 706,479 704,496 702,513 695,528 686,542 674,557 664,571 658,581 650,592 642,603 633,614 625,625 632,630 640,620 649,608 657,597 665,586 670,576 680,562 692,546 701,531 708,515 711,497 712,480 715,461 716,440 720,424 727,409 732,401 736,393 739,384 741,379 742,374 741,370 739,365 736,360 733,355 728,347 724,339 719,332 715,324 713,316 713,303 713,285 714,266 715,250 715,237 714,224 712,216 708,210 701,209" fill="#ef4332"/>
<polygon points="701,209 707,210 710,216 712,224 712,237 712,250 711,266 710,285 710,303 710,316 712,324 716,332 721,339 726,347 730,355 733,360 736,365 738,370 739,374 738,379 736,384 733,393 729,401 724,409 717,424 713,440 711,460 709,479 708,497 705,514 698,530 689,544 677,560 667,574 661,584 653,594 645,605 636,617 628,628 635,633 643,622 652,610 660,599 668,588 674,578 683,565 695,549 705,533 712,516 715,498 716,480 718,461 720,440 723,424 730,409 735,401 739,393 742,384 745,379 746,374 745,370 742,365 739,360 736,355 731,347 727,339 722,332 718,324 716,316 716,303 716,285 717,266 718,250 718,237 717,224 715,216 709,210 701,209" fill="#f26c56"/>
<polygon points="701,209 708,210 712,216 714,224 715,237 715,250 714,266 713,285 713,303 713,316 715,324 719,332 724,339 728,347 733,355 736,360 739,365 741,370 742,374 741,379 739,384 736,393 732,401 727,409 720,424 716,440 715,461 712,480 711,497 708,515 701,531 692,546 680,562 670,576 665,586 657,597 649,608 640,620 632,630 650,643 657,633 666,621 675,610 683,598 688,589 696,575 708,558 718,541 726,521 729,500 729,482 731,463 733,440 735,424 742,409 747,401 751,393 755,384 759,379 760,374 759,370 755,365 752,360 748,355 743,347 738,339 733,332 729,324 728,316 727,303 728,285 729,266 731,250 731,237 729,224 725,216 715,210 701,209" fill="#f6937a"/></g></g>
<g clip-path="url(#d8)"><g filter="url(#bl)"><polygon points="701,209 688,210 678,216 674,224 671,237 671,250 671,266 672,285 672,303 673,316 675,324 679,332 685,339 689,347 692,355 693,360 694,365 694,370 694,374 694,379 694,384 693,393 689,401 685,409 678,424 672,440 669,454 666,474 663,490 660,499 656,505 648,514 636,527 622,541 615,552 608,560 600,571 591,583 582,595 600,608 608,596 617,584 626,573 633,564 640,554 652,540 664,526 673,515 678,505 681,493 683,476 686,457 688,440 693,424 700,409 705,401 709,393 710,384 711,379 711,374 711,370 710,365 709,360 707,355 703,347 699,339 694,332 690,324 688,316 687,303 687,285 687,266 687,250 687,237 689,224 690,216 695,210 701,209" fill="#f7a58f"/>
<polygon points="701,209 694,210 688,216 686,224 684,237 684,250 684,266 684,285 684,303 685,316 687,324 691,332 696,339 700,347 704,355 706,360 707,365 707,370 708,374 708,379 707,384 706,393 702,401 697,409 690,424 685,440 682,456 679,476 677,492 674,504 669,513 661,523 649,537 636,552 629,562 622,571 614,582 605,594 597,605 604,610 612,599 621,587 629,576 636,567 643,556 655,542 667,528 676,516 681,506 684,493 686,477 689,457 691,440 696,424 703,409 708,401 712,393 713,384 714,379 715,374 714,370 713,365 712,360 710,355 706,347 702,339 696,332 693,324 691,316 690,303 690,285 690,266 690,250 690,237 691,224 693,216 697,210 701,209" fill="#f4896f"/>
<polygon points="701,209 695,210 690,216 689,224 687,237 687,250 687,266 687,285 687,303 688,316 690,324 694,332 699,339 703,347 707,355 709,360 710,365 711,370 711,374 711,379 710,384 709,393 705,401 700,409 693,424 688,440 686,457 683,476 681,493 678,505 673,515 664,526 652,540 640,554 633,564 626,573 617,584 608,596 600,608 607,613 615,602 624,589 633,579 640,569 646,559 658,545 670,530 679,518 684,507 688,494 689,477 692,458 694,440 699,424 706,409 711,401 715,393 717,384 718,379 718,374 718,370 716,365 715,360 713,355 709,347 704,339 699,332 695,324 693,316 693,303 693,285 693,266 693,250 694,237 694,224 695,216 698,210 701,209" fill="#f27b61"/>
<polygon points="701,209 697,210 693,216 691,224 690,237 690,250 690,266 690,285 690,303 691,316 693,324 696,332 702,339 706,347 710,355 712,360 713,365 714,370 715,374 714,379 713,384 712,393 708,401 703,409 696,424 691,440 689,457 686,477 684,493 681,506 676,516 667,528 655,542 643,556 636,567 629,576 621,587 612,599 604,610 611,615 619,604 628,592 636,581 643,571 650,561 661,547 673,533 682,520 688,508 691,494 693,477 695,458 698,440 702,424 709,409 714,401 718,393 720,384 721,379 721,374 721,370 720,365 718,360 716,355 712,347 707,339 702,332 698,324 696,316 696,303 695,285 696,266 696,250 697,237 697,224 698,216 699,210 701,209" fill="#f16e52"/>
<polygon points="701,209 698,210 695,216 694,224 694,237 693,250 693,266 693,285 693,303 693,316 695,324 699,332 704,339 709,347 713,355 715,360 716,365 718,370 718,374 718,379 717,384 715,393 711,401 706,409 699,424 694,440 692,458 689,477 688,494 684,507 679,518 670,530 658,545 646,559 640,569 633,579 624,589 615,602 607,613 614,618 622,607 631,595 640,584 647,574 653,564 664,550 676,535 685,522 691,509 694,495 696,478 698,458 701,440 705,424 712,409 717,401 721,393 723,384 725,379 725,374 724,370 723,365 721,360 719,355 714,347 710,339 705,332 701,324 699,316 698,303 698,285 699,266 699,250 700,237 700,224 700,216 701,210 701,209" fill="#f06247"/>
<polygon points="701,209 699,210 698,216 697,224 697,237 696,250 696,266 695,285 696,303 696,316 698,324 702,332 707,339 712,347 716,355 718,360 720,365 721,370 721,374 721,379 720,384 718,393 714,401 709,409 702,424 698,440 695,458 693,477 691,494 688,508 682,520 673,533 661,547 650,561 643,571 636,581 628,592 619,604 611,615 618,620 626,609 635,597 643,586 650,576 657,566 668,552 680,537 689,524 695,511 698,495 699,478 702,459 704,440 708,424 715,409 720,401 724,393 726,384 728,379 728,374 728,370 726,365 724,360 722,355 717,347 713,339 708,332 704,324 702,316 701,303 701,285 702,266 702,250 703,237 703,224 703,216 702,210 701,209" fill="#ef5c42"/>
<polygon points="701,209 701,210 700,216 700,224 700,237 699,250 699,266 698,285 698,303 699,316 701,324 705,332 710,339 714,347 719,355 721,360 723,365 724,370 725,374 725,379 723,384 721,393 717,401 712,409 705,424 701,440 698,458 696,478 694,495 691,509 685,522 676,535 664,550 653,564 647,574 640,584 631,595 622,607 614,618 621,623 629,612 638,600 646,589 654,579 660,569 671,555 683,539 692,526 698,512 701,496 702,479 705,459 707,440 711,424 718,409 723,401 727,393 729,384 731,379 732,374 731,370 729,365 727,360 724,355 720,347 715,339 711,332 707,324 705,316 704,303 704,285 705,266 705,250 706,237 706,224 705,216 704,210 701,209" fill="#ef563d"/>
<polygon points="701,209 702,210 703,216 703,224 703,237 702,250 702,266 701,285 701,303 702,316 704,324 708,332 713,339 717,347 722,355 724,360 726,365 728,370 728,374 728,379 726,384 724,393 720,401 715,409 708,424 704,440 702,459 699,478 698,495 695,511 689,524 680,537 668,552 657,566 650,576 643,586 635,597 626,609 618,620 625,625 633,614 642,603 650,592 658,581 664,571 674,557 686,542 695,528 702,513 704,496 706,479 708,460 710,440 714,424 721,409 726,401 730,393 733,384 735,379 735,374 735,370 732,365 730,360 727,355 723,347 718,339 713,332 709,324 708,316 707,303 707,285 708,266 709,250 709,237 709,224 708,216 705,210 701,209" fill="#ee5038"/>
<polygon points="701,209 704,210 705,216 706,224 706,237 705,250 705,266 704,285 704,303 705,316 707,324 711,332 715,339 720,347 724,355 727,360 729,365 731,370 732,374 731,379 729,384 727,393 723,401 718,409 711,424 707,440 705,459 702,479 701,496 698,512 692,526 683,539 671,555 660,569 654,579 646,589 638,600 629,612 621,623 628,628 636,617 645,605 653,594 661,584 667,574 677,560 689,544 698,530 705,514 708,497 709,479 711,460 713,440 717,424 724,409 729,401 733,393 736,384 738,379 739,374 738,370 736,365 733,360 730,355 726,347 721,339 716,332 712,324 710,316 710,303 710,285 711,266 712,250 712,237 712,224 710,216 707,210 701,209" fill="#ee4a34"/>
<polygon points="701,209 705,210 708,216 709,224 709,237 709,250 708,266 707,285 707,303 708,316 709,324 713,332 718,339 723,347 727,355 730,360 732,365 735,370 735,374 735,379 733,384 730,393 726,401 721,409 714,424 710,440 708,460 706,479 704,496 702,513 695,528 686,542 674,557 664,571 658,581 650,592 642,603 633,614 625,625 632,630 640,620 649,608 657,597 665,586 670,576 680,562 692,546 701,531 708,515 711,497 712,480 715,461 716,440 720,424 727,409 732,401 736,393 739,384 741,379 742,374 741,370 739,365 736,360 733,355 728,347 724,339 719,332 715,324 713,316 713,303 713,285 714,266 715,250 715,237 714,224 712,216 708,210 701,209" fill="#ed4532"/>
<polygon points="701,209 707,210 710,216 712,224 712,237 712,250 711,266 710,285 710,303 710,316 712,324 716,332 721,339 726,347 730,355 733,360 736,365 738,370 739,374 738,379 736,384 733,393 729,401 724,409 717,424 713,440 711,460 709,479 708,497 705,514 698,530 689,544 677,560 667,574 661,584 653,594 645,605 636,617 628,628 635,633 643,622 652,610 660,599 668,588 674,578 683,565 695,549 705,533 712,516 715,498 716,480 718,461 720,440 723,424 730,409 735,401 739,393 742,384 745,379 746,374 745,370 742,365 739,360 736,355 731,347 727,339 722,332 718,324 716,316 716,303 716,285 717,266 718,250 718,237 717,224 715,216 709,210 701,209" fill="#ed412f"/>
<polygon points="701,209 708,210 712,216 714,224 715,237 715,250 714,266 713,285 713,303 713,316 715,324 719,332 724,339 728,347 733,355 736,360 739,365 741,370 742,374 741,379 739,384 736,393 732,401 727,409 720,424 716,440 715,461 712,480 711,497 708,515 701,531 692,546 680,562 670,576 665,586 657,597 649,608 640,620 632,630 650,643 657,633 666,621 675,610 683,598 688,589 696,575 708,558 718,541 726,521 729,500 729,482 731,463 733,440 735,424 742,409 747,401 751,393 755,384 759,379 760,374 759,370 755,365 752,360 748,355 743,347 738,339 733,332 729,324 728,316 727,303 728,285 729,266 731,250 731,237 729,224 725,216 715,210 701,209" fill="#ec3c2d"/></g></g>
</g>
<g clip-path="url(#c7)">
<g filter="url(#bl)"><polygon points="786,209 772,210 763,216 759,224 757,237 757,250 759,266 760,285 760,303 760,316 758,324 754,332 750,339 745,347 740,355 736,360 733,365 729,370 728,374 729,379 733,384 737,393 741,401 745,409 752,424 755,440 756,463 755,479 754,494 753,510 750,530 749,550 747,570 747,585 749,594 753,603 759,609 767,614 778,617 790,618 790,618 784,617 779,614 776,609 773,603 771,594 770,585 770,570 771,550 772,530 773,510 774,494 774,479 773,463 771,440 768,424 761,409 756,401 752,393 749,384 746,379 746,374 746,370 749,365 752,360 755,355 759,347 764,339 769,332 773,324 774,316 775,303 775,285 774,266 773,250 772,237 773,224 775,216 780,210 786,209" fill="#ef5340"/>
<polygon points="786,209 778,210 773,216 770,224 769,237 770,250 771,266 772,285 772,303 772,316 770,324 766,332 761,339 757,347 752,355 749,360 746,365 743,370 742,374 743,379 746,384 749,393 753,401 758,409 765,424 768,440 770,463 770,479 770,494 769,510 768,530 767,550 766,570 765,585 766,594 769,603 772,609 777,614 783,617 790,618 790,618 786,617 782,614 779,609 777,603 775,594 775,585 775,570 776,550 776,530 777,510 777,494 777,479 777,463 774,440 771,424 764,409 759,401 755,393 752,384 750,379 749,374 750,370 752,365 755,360 758,355 762,347 767,339 772,332 776,324 777,316 778,303 778,285 777,266 776,250 776,237 776,224 778,216 781,210 786,209" fill="#ec2625"/>
<polygon points="786,209 780,210 775,216 773,224 772,237 773,250 774,266 775,285 775,303 774,316 773,324 769,332 764,339 759,347 755,355 752,360 749,365 746,370 746,374 746,379 749,384 752,393 756,401 761,409 768,424 771,440 773,463 774,479 774,494 773,510 772,530 771,550 770,570 770,585 771,594 773,603 776,609 779,614 784,617 790,618 790,618 787,617 784,614 782,609 781,603 780,594 779,585 779,570 780,550 781,530 781,510 781,494 781,479 780,463 778,440 774,424 767,409 762,401 758,393 755,384 753,379 753,374 753,370 755,365 758,360 760,355 765,347 770,339 774,332 778,324 780,316 781,303 781,285 780,266 779,250 779,237 779,224 780,216 783,210 786,209" fill="#ec2925"/>
<polygon points="786,209 781,210 778,216 776,224 776,237 776,250 777,266 778,285 778,303 777,316 776,324 772,332 767,339 762,347 758,355 755,360 752,365 750,370 749,374 750,379 752,384 755,393 759,401 764,409 771,424 774,440 777,463 777,479 777,494 777,510 776,530 776,550 775,570 775,585 775,594 777,603 779,609 782,614 786,617 790,618 790,618 788,617 786,614 785,609 785,603 784,594 784,585 784,570 784,550 785,530 785,510 785,494 784,479 783,463 781,440 777,424 770,409 765,401 761,393 758,384 757,379 756,374 757,370 759,365 761,360 763,355 768,347 772,339 777,332 781,324 783,316 784,303 784,285 783,266 782,250 782,237 782,224 783,216 784,210 786,209" fill="#ec2f27"/>
<polygon points="786,209 783,210 780,216 779,224 779,237 779,250 780,266 781,285 781,303 780,316 778,324 774,332 770,339 765,347 760,355 758,360 755,365 753,370 753,374 753,379 755,384 758,393 762,401 767,409 774,424 778,440 780,463 781,479 781,494 781,510 781,530 780,550 779,570 779,585 780,594 781,603 782,609 784,614 787,617 790,618 790,618 789,617 789,614 789,609 789,603 788,594 788,585 788,570 789,550 789,530 789,510 789,494 788,479 787,463 784,440 780,424 773,409 768,401 764,393 762,384 760,379 759,374 760,370 762,365 764,360 766,355 771,347 775,339 780,332 784,324 786,316 787,303 787,285 786,266 785,250 785,237 785,224 785,216 785,210 786,209" fill="#ec372a"/>
<polygon points="786,209 784,210 783,216 782,224 782,237 782,250 783,266 784,285 784,303 783,316 781,324 777,332 772,339 768,347 763,355 761,360 759,365 757,370 756,374 757,379 758,384 761,393 765,401 770,409 777,424 781,440 783,463 784,479 785,494 785,510 785,530 784,550 784,570 784,585 784,594 785,603 785,609 786,614 788,617 790,618 790,618 790,617 791,614 792,609 793,603 793,594 793,585 793,570 793,550 793,530 793,510 793,494 792,479 790,463 787,440 783,424 776,409 771,401 767,393 765,384 763,379 763,374 763,370 765,365 767,360 769,355 773,347 778,339 783,332 787,324 789,316 789,303 789,285 789,266 789,250 788,237 788,224 788,216 787,210 786,209" fill="#ed402f"/>
<polygon points="786,209 785,210 785,216 785,224 785,237 785,250 786,266 787,285 787,303 786,316 784,324 780,332 775,339 771,347 766,355 764,360 762,365 760,370 759,374 760,379 762,384 764,393 768,401 773,409 780,424 784,440 787,463 788,479 789,494 789,510 789,530 789,550 788,570 788,585 788,594 789,603 789,609 789,614 789,617 790,618 790,618 792,617 793,614 795,609 796,603 797,594 797,585 797,570 798,550 798,530 797,510 796,494 795,479 794,463 790,440 786,424 779,409 774,401 770,393 768,384 767,379 766,374 767,370 768,365 770,360 772,355 776,347 781,339 786,332 790,324 792,316 792,303 792,285 792,266 792,250 791,237 791,224 790,216 788,210 786,209" fill="#ee4934"/>
<polygon points="786,209 787,210 788,216 788,224 788,237 789,250 789,266 789,285 789,303 789,316 787,324 783,332 778,339 773,347 769,355 767,360 765,365 763,370 763,374 763,379 765,384 767,393 771,401 776,409 783,424 787,440 790,463 792,479 793,494 793,510 793,530 793,550 793,570 793,585 793,594 793,603 792,609 791,614 790,617 790,618 790,618 793,617 796,614 798,609 800,603 801,594 802,585 802,570 802,550 802,530 801,510 800,494 799,479 797,463 793,440 789,424 782,409 777,401 773,393 771,384 770,379 770,374 770,370 771,365 773,360 775,355 779,347 783,339 789,332 792,324 794,316 795,303 795,285 795,266 795,250 794,237 794,224 792,216 790,210 786,209" fill="#ee533a"/>
<polygon points="786,209 788,210 790,216 791,224 791,237 792,250 792,266 792,285 792,303 792,316 790,324 786,332 781,339 776,347 772,355 770,360 768,365 767,370 766,374 767,379 768,384 770,393 774,401 779,409 786,424 790,440 794,463 795,479 796,494 797,510 798,530 798,550 797,570 797,585 797,594 796,603 795,609 793,614 792,617 790,618 790,618 794,617 798,614 802,609 804,603 806,594 807,585 807,570 807,550 806,530 805,510 804,494 802,479 800,463 797,440 792,424 785,409 780,401 776,393 774,384 773,379 773,374 774,370 775,365 776,360 778,355 782,347 786,339 791,332 795,324 797,316 798,303 798,285 798,266 798,250 797,237 796,224 795,216 791,210 786,209" fill="#ef5b41"/>
<polygon points="786,209 790,210 792,216 794,224 794,237 795,250 795,266 795,285 795,303 794,316 792,324 789,332 783,339 779,347 775,355 773,360 771,365 770,370 770,374 770,379 771,384 773,393 777,401 782,409 789,424 793,440 797,463 799,479 800,494 801,510 802,530 802,550 802,570 802,585 801,594 800,603 798,609 796,614 793,617 790,618 790,618 795,617 800,614 805,609 808,603 810,594 811,585 811,570 811,550 811,530 809,510 808,494 806,479 804,463 800,440 795,424 788,409 783,401 779,393 778,384 777,379 777,374 777,370 778,365 779,360 781,355 785,347 789,339 794,332 798,324 800,316 801,303 801,285 801,266 801,250 801,237 799,224 797,216 793,210 786,209" fill="#f06447"/>
<polygon points="786,209 791,210 795,216 796,224 797,237 798,250 798,266 798,285 798,303 797,316 795,324 791,332 786,339 782,347 778,355 776,360 775,365 774,370 773,374 773,379 774,384 776,393 780,401 785,409 792,424 797,440 800,463 802,479 804,494 805,510 806,530 807,550 807,570 807,585 806,594 804,603 802,609 798,614 794,617 790,618 790,618 796,617 803,614 808,609 812,603 815,594 816,585 816,570 815,550 815,530 813,510 811,494 810,479 807,463 803,440 798,424 791,409 786,401 782,393 781,384 780,379 780,374 780,370 781,365 782,360 784,355 787,347 792,339 797,332 801,324 803,316 804,303 804,285 804,266 804,250 804,237 802,224 800,216 794,210 786,209" fill="#f16d4f"/>
<polygon points="786,209 793,210 797,216 799,224 801,237 801,250 801,266 801,285 801,303 800,316 798,324 794,332 789,339 785,347 781,355 779,360 778,365 777,370 777,374 777,379 778,384 779,393 783,401 788,409 795,424 800,440 804,463 806,479 808,494 809,510 811,530 811,550 811,570 811,585 810,594 808,603 805,609 800,614 795,617 790,618 790,618 801,617 812,614 822,609 828,603 832,594 834,585 834,570 834,550 832,530 830,510 827,494 824,479 821,463 816,440 810,424 803,409 798,401 795,393 794,384 794,379 794,374 794,370 794,365 794,360 795,355 799,347 803,339 809,332 812,324 815,316 816,303 816,285 816,266 817,250 816,237 814,224 810,216 800,210 786,209" fill="#f37658"/></g>
</g>
<path d="M742.60,364.60 L745.20,364.60 L743.90,372.10 Z M742.60,384.60 L745.20,384.60 L743.90,377.10 Z" fill="#2a1412" opacity="0.85"/>
<g clip-path="url(#h9)"><g filter="url(#hb2)" opacity="0.8"><ellipse cx="717.60" cy="375.80" rx="21.6" ry="18.2" fill="#a8141a"/><ellipse cx="770.00" cy="375.80" rx="21.6" ry="18.2" fill="#a8141a"/></g></g>
<ellipse cx="717.30" cy="375.20" rx="17.90" ry="14.30" fill="url(#cg)" stroke="#15161c" stroke-width="2"/>
<ellipse cx="769.70" cy="375.20" rx="17.90" ry="14.30" fill="url(#cg)" stroke="#15161c" stroke-width="2"/>
<path d="M564.40,208.90 C567.30,208.89 570.70,209.29 573.20,210.50 C575.55,211.64 577.67,213.56 579.10,215.70 C580.57,217.90 581.16,220.59 581.80,223.60 C582.61,227.38 582.90,232.31 583.00,236.70 C583.10,241.11 582.66,245.36 582.40,250.00 C582.11,255.09 581.64,260.44 581.30,266.00 C580.93,272.06 580.52,278.75 580.30,285.00 C580.09,291.08 579.92,297.52 580.00,303.00 C580.07,307.60 580.12,311.98 580.60,315.70 C580.99,318.66 581.39,321.02 582.30,323.60 C583.25,326.30 584.86,328.90 586.30,331.50 C587.76,334.14 589.44,336.69 591.00,339.30 C592.57,341.92 594.13,344.58 595.70,347.20 C597.26,349.81 598.95,352.63 600.40,355.00 C601.62,357.00 602.71,358.74 603.80,360.50 C604.81,362.13 605.75,363.62 606.70,365.20 C607.65,366.79 608.90,368.37 609.50,370.00 C610.04,371.48 610.30,373.00 610.30,374.50 C610.30,376.00 610.03,377.51 609.50,379.00 C608.90,380.67 607.61,382.06 606.70,384.00 C605.53,386.51 604.56,390.06 603.30,392.90 C602.09,395.62 600.73,398.11 599.30,400.70 C597.84,403.35 596.24,405.46 594.60,408.60 C592.36,412.89 589.24,418.97 587.50,424.30 C585.82,429.44 584.98,434.24 584.20,440.00 C583.27,446.88 583.08,455.97 582.80,462.90 C582.57,468.65 582.50,473.44 582.50,478.70 C582.50,483.94 582.58,489.18 582.80,494.40 C583.02,499.61 583.43,504.48 583.80,510.00 C584.22,516.25 584.78,523.33 585.20,530.00 C585.62,536.67 585.92,543.33 586.30,550.00 C586.68,556.67 587.29,563.81 587.50,570.00 C587.68,575.36 587.85,580.64 587.60,585.00 C587.41,588.39 587.12,591.06 586.50,594.00 C585.88,596.93 585.02,599.96 583.90,602.60 C582.85,605.06 581.62,607.39 580.10,609.40 C578.64,611.34 576.98,613.17 575.00,614.50 C572.99,615.85 570.48,616.75 568.10,617.40 C565.74,618.04 563.22,618.40 560.80,618.40 C558.42,618.40 556.00,618.04 553.70,617.40 C551.36,616.75 549.00,615.80 546.90,614.50 C544.73,613.16 542.61,611.37 540.90,609.40 C539.17,607.41 537.72,605.09 536.60,602.60 C535.42,599.98 534.72,596.92 534.10,594.00 C533.48,591.06 533.14,588.39 532.90,585.00 C532.60,580.64 532.78,575.36 532.80,570.00 C532.83,563.81 532.93,556.67 533.10,550.00 C533.27,543.33 533.40,536.66 533.80,530.00 C534.20,523.33 534.83,516.25 535.50,510.00 C536.09,504.47 536.83,499.61 537.50,494.40 C538.17,489.18 538.77,483.94 539.50,478.70 C540.23,473.44 540.91,468.64 541.90,462.90 C543.09,455.96 544.53,446.87 546.30,440.00 C547.79,434.22 549.35,429.47 551.40,424.30 C553.50,419.00 556.59,412.91 558.80,408.60 C560.40,405.49 561.81,403.34 563.20,400.70 C564.57,398.11 566.22,395.66 567.10,392.90 C568.00,390.10 568.20,386.55 568.50,384.00 C568.73,382.10 568.82,380.62 568.90,379.00 C568.98,377.46 569.02,376.00 569.00,374.50 C568.98,373.00 568.93,371.52 568.80,370.00 C568.67,368.42 568.45,366.79 568.20,365.20 C567.95,363.62 567.68,362.12 567.30,360.50 C566.89,358.73 566.55,356.95 565.80,355.00 C564.88,352.58 563.26,349.80 561.90,347.20 C560.52,344.56 559.16,341.89 557.60,339.30 C556.00,336.66 553.93,334.16 552.40,331.50 C550.91,328.92 549.49,326.29 548.50,323.60 C547.55,321.02 546.98,318.67 546.50,315.70 C545.90,311.99 545.80,307.60 545.60,303.00 C545.36,297.52 545.37,291.08 545.30,285.00 C545.23,278.75 545.22,272.06 545.20,266.00 C545.19,260.44 545.12,255.09 545.20,250.00 C545.27,245.36 545.27,241.11 545.60,236.70 C545.93,232.31 546.36,227.38 547.20,223.60 C547.87,220.60 548.31,217.89 549.80,215.70 C551.26,213.54 553.61,211.63 556.00,210.50 C558.46,209.33 561.57,208.91 564.40,208.90Z" fill="#15161c"/>
<path d="M649.40,208.90 C652.23,208.91 655.34,209.33 657.80,210.50 C660.19,211.63 662.54,213.54 664.00,215.70 C665.49,217.89 665.93,220.60 666.60,223.60 C667.44,227.38 667.87,232.31 668.20,236.70 C668.53,241.11 668.53,245.36 668.60,250.00 C668.68,255.09 668.61,260.44 668.60,266.00 C668.58,272.06 668.57,278.75 668.50,285.00 C668.43,291.08 668.44,297.52 668.20,303.00 C668.00,307.60 667.90,311.99 667.30,315.70 C666.82,318.67 666.25,321.02 665.30,323.60 C664.31,326.29 662.89,328.92 661.40,331.50 C659.87,334.16 657.80,336.66 656.20,339.30 C654.64,341.89 653.28,344.56 651.90,347.20 C650.54,349.80 648.92,352.58 648.00,355.00 C647.25,356.95 646.91,358.73 646.50,360.50 C646.12,362.12 645.85,363.62 645.60,365.20 C645.35,366.79 645.13,368.42 645.00,370.00 C644.87,371.52 644.82,373.00 644.80,374.50 C644.78,376.00 644.82,377.46 644.90,379.00 C644.98,380.62 645.07,382.10 645.30,384.00 C645.60,386.55 645.80,390.10 646.70,392.90 C647.58,395.66 649.23,398.11 650.60,400.70 C651.99,403.34 653.40,405.49 655.00,408.60 C657.21,412.91 660.30,419.00 662.40,424.30 C664.45,429.47 666.01,434.51 667.50,440.00 C669.10,445.90 670.49,452.29 671.60,458.60 C672.73,465.05 673.60,472.54 674.20,478.30 C674.66,482.79 674.67,486.75 675.10,490.30 C675.45,493.16 675.84,495.61 676.40,498.00 C676.90,500.14 677.57,502.00 678.20,504.00 C678.83,506.00 679.17,507.93 680.20,510.00 C681.48,512.56 683.93,515.54 685.70,518.00 C687.25,520.16 688.76,521.98 690.20,524.00 C691.62,525.98 692.88,528.02 694.30,530.00 C695.74,532.02 697.22,534.14 698.80,536.00 C700.32,537.79 702.05,539.32 703.60,541.00 C705.12,542.65 706.60,544.39 708.00,546.00 C709.29,547.48 710.45,548.88 711.70,550.30 C712.95,551.72 714.29,553.05 715.50,554.50 C716.72,555.95 717.84,557.45 719.00,559.00 C720.21,560.61 721.34,562.30 722.60,564.00 C723.93,565.80 725.47,567.65 726.80,569.50 C728.10,571.31 729.35,573.14 730.50,575.00 C731.62,576.81 732.70,578.55 733.60,580.50 C734.54,582.54 735.45,584.78 736.00,587.00 C736.55,589.21 736.95,591.51 736.90,593.80 C736.84,596.17 736.33,598.87 735.60,601.00 C734.96,602.87 733.97,604.46 733.00,606.00 C732.09,607.45 731.25,608.81 730.00,610.00 C728.63,611.31 726.72,612.49 725.00,613.40 C723.38,614.26 721.68,614.80 720.00,615.40 C718.34,616.00 716.69,616.70 715.00,617.00 C713.35,617.29 711.67,617.23 710.00,617.20 C708.33,617.17 706.63,617.21 705.00,616.80 C703.30,616.37 701.61,615.41 700.00,614.60 C698.41,613.81 696.93,613.19 695.40,612.00 C693.49,610.51 691.45,607.86 689.70,606.00 C688.19,604.40 686.80,602.91 685.50,601.50 C684.36,600.26 683.35,599.38 682.30,598.00 C681.01,596.31 679.77,594.00 678.50,592.00 C677.23,590.00 676.11,588.05 674.70,586.00 C673.14,583.73 671.16,581.35 669.50,579.00 C667.87,576.69 666.25,574.26 664.80,572.00 C663.47,569.94 662.36,567.89 661.10,566.00 C659.92,564.24 658.67,562.67 657.50,561.00 C656.34,559.34 655.12,557.79 654.10,556.00 C653.04,554.13 652.25,552.00 651.30,550.00 C650.35,548.00 649.44,545.98 648.40,544.00 C647.34,541.98 646.06,540.02 645.00,538.00 C643.96,536.02 642.99,534.02 642.10,532.00 C641.22,530.02 640.53,527.99 639.70,526.00 C638.86,523.99 637.83,522.30 637.10,520.00 C636.19,517.13 635.69,512.90 635.00,510.00 C634.46,507.74 633.78,506.01 633.40,504.00 C633.02,502.01 632.85,500.15 632.70,498.00 C632.53,495.53 632.56,492.94 632.50,490.00 C632.43,486.40 632.42,482.48 632.30,478.00 C632.15,472.31 632.06,464.99 631.60,458.60 C631.15,452.33 630.54,445.92 629.60,440.00 C628.73,434.52 627.98,429.44 626.30,424.30 C624.56,418.97 621.44,412.89 619.20,408.60 C617.56,405.46 615.96,403.35 614.50,400.70 C613.07,398.11 611.71,395.62 610.50,392.90 C609.24,390.06 608.27,386.51 607.10,384.00 C606.19,382.06 604.90,380.67 604.30,379.00 C603.77,377.51 603.50,376.00 603.50,374.50 C603.50,373.00 603.76,371.48 604.30,370.00 C604.90,368.37 606.15,366.79 607.10,365.20 C608.05,363.62 608.99,362.13 610.00,360.50 C611.09,358.74 612.18,357.00 613.40,355.00 C614.85,352.63 616.54,349.81 618.10,347.20 C619.67,344.58 621.23,341.92 622.80,339.30 C624.36,336.69 626.04,334.14 627.50,331.50 C628.94,328.90 630.55,326.30 631.50,323.60 C632.41,321.02 632.81,318.66 633.20,315.70 C633.68,311.98 633.73,307.60 633.80,303.00 C633.88,297.52 633.71,291.08 633.50,285.00 C633.28,278.75 632.87,272.06 632.50,266.00 C632.16,260.44 631.69,255.09 631.40,250.00 C631.14,245.36 630.70,241.11 630.80,236.70 C630.90,232.31 631.19,227.38 632.00,223.60 C632.64,220.59 633.23,217.90 634.70,215.70 C636.13,213.56 638.25,211.64 640.60,210.50 C643.10,209.29 646.50,208.89 649.40,208.90Z" fill="#15161c"/>
<g clip-path="url(#c10)">
<g filter="url(#bl)"><polygon points="564,209 551,210 541,216 537,224 534,237 534,250 534,266 535,285 535,303 536,316 538,324 542,332 548,339 552,347 555,355 556,360 557,365 557,370 557,374 557,379 557,384 556,393 552,401 548,409 541,424 535,440 530,463 527,479 524,494 521,510 518,530 517,550 516,570 516,585 518,594 522,603 529,609 538,614 549,617 561,618 561,618 556,617 550,614 546,609 543,603 541,594 540,585 540,570 540,550 540,530 542,510 543,494 545,479 547,463 551,440 556,424 563,409 568,401 572,393 573,384 574,379 574,374 574,370 573,365 572,360 570,355 566,347 562,339 557,332 553,324 551,316 550,303 550,285 550,266 550,250 550,237 552,224 553,216 558,210 564,209" fill="#8c9bd6"/>
<polygon points="564,209 557,210 551,216 549,224 547,237 547,250 547,266 547,285 547,303 548,316 550,324 554,332 559,339 563,347 567,355 569,360 570,365 570,370 571,374 571,379 570,384 569,393 565,401 560,409 553,424 548,440 544,463 541,479 539,494 538,510 536,530 535,550 535,570 535,585 536,594 539,603 543,609 548,614 554,617 561,618 561,618 557,617 553,614 549,609 546,603 545,594 544,585 544,570 544,550 545,530 546,510 547,494 548,479 550,463 554,440 559,424 566,409 571,401 575,393 576,384 577,379 578,374 577,370 576,365 575,360 573,355 569,347 565,339 559,332 556,324 554,316 553,303 553,285 553,266 553,250 553,237 554,224 556,216 560,210 564,209" fill="#8999d3"/>
<polygon points="564,209 558,210 553,216 552,224 550,237 550,250 550,266 550,285 550,303 551,316 553,324 557,332 562,339 566,347 570,355 572,360 573,365 574,370 574,374 574,379 573,384 572,393 568,401 563,409 556,424 551,440 547,463 545,479 543,494 542,510 540,530 540,550 540,570 540,585 541,594 543,603 546,609 550,614 556,617 561,618 561,618 558,617 555,614 552,609 550,603 549,594 549,585 549,570 549,550 549,530 550,510 551,494 552,479 554,463 557,440 562,424 569,409 574,401 578,393 580,384 581,379 581,374 581,370 579,365 578,360 576,355 572,347 567,339 562,332 558,324 556,316 556,303 556,285 556,266 556,250 557,237 557,224 558,216 561,210 564,209" fill="#8494d0"/>
<polygon points="564,209 560,210 556,216 554,224 553,237 553,250 553,266 553,285 553,303 554,316 556,324 559,332 565,339 569,347 573,355 575,360 576,365 577,370 578,374 577,379 576,384 575,393 571,401 566,409 559,424 554,440 550,463 548,479 547,494 546,510 545,530 544,550 544,570 544,585 545,594 546,603 549,609 553,614 557,617 561,618 561,618 559,617 557,614 556,609 554,603 554,594 553,585 553,570 553,550 553,530 554,510 554,494 556,479 557,463 561,440 565,424 572,409 577,401 581,393 583,384 584,379 584,374 584,370 583,365 581,360 579,355 575,347 570,339 565,332 561,324 559,316 558,303 558,285 559,266 559,250 560,237 560,224 561,216 562,210 564,209" fill="#7e90ce"/>
<polygon points="564,209 561,210 558,216 557,224 557,237 556,250 556,266 556,285 556,303 556,316 558,324 562,332 567,339 572,347 576,355 578,360 579,365 581,370 581,374 581,379 580,384 578,393 574,401 569,409 562,424 557,440 554,463 552,479 551,494 550,510 549,530 549,550 549,570 549,585 549,594 550,603 552,609 555,614 558,617 561,618 561,618 560,617 560,614 559,609 558,603 558,594 558,585 558,570 557,550 557,530 558,510 558,494 559,479 561,463 564,440 568,424 575,409 580,401 584,393 586,384 588,379 588,374 587,370 586,365 584,360 582,355 577,347 573,339 568,332 564,324 562,316 561,303 561,285 562,266 562,250 563,237 563,224 563,216 564,210 564,209" fill="#778aca"/>
<polygon points="564,209 562,210 561,216 560,224 560,237 559,250 559,266 558,285 558,303 559,316 561,324 565,332 570,339 575,347 579,355 581,360 583,365 584,370 584,374 584,379 583,384 581,393 577,401 572,409 565,424 561,440 557,463 556,479 554,494 554,510 553,530 553,550 553,570 553,585 554,594 554,603 556,609 557,614 559,617 561,618 561,618 562,617 562,614 562,609 562,603 562,594 563,585 562,570 562,550 562,530 562,510 562,494 563,479 564,463 567,440 571,424 578,409 583,401 587,393 589,384 591,379 591,374 591,370 589,365 587,360 585,355 580,347 576,339 571,332 567,324 565,316 564,303 564,285 565,266 565,250 566,237 566,224 566,216 565,210 564,209" fill="#6c81c6"/>
<polygon points="564,209 564,210 563,216 563,224 563,237 562,250 562,266 561,285 561,303 562,316 564,324 568,332 573,339 577,347 582,355 584,360 586,365 587,370 588,374 588,379 586,384 584,393 580,401 575,409 568,424 564,440 561,463 559,479 558,494 558,510 557,530 557,550 558,570 558,585 558,594 558,603 559,609 560,614 560,617 561,618 561,618 563,617 564,614 565,609 566,603 567,594 567,585 567,570 566,550 566,530 566,510 566,494 566,479 567,463 570,440 574,424 581,409 586,401 590,393 592,384 594,379 595,374 594,370 592,365 590,360 587,355 583,347 578,339 574,332 570,324 568,316 567,303 567,285 568,266 568,250 569,237 569,224 568,216 567,210 564,209" fill="#6179c0"/>
<polygon points="564,209 565,210 566,216 566,224 566,237 565,250 565,266 564,285 564,303 565,316 567,324 571,332 576,339 580,347 585,355 587,360 589,365 591,370 591,374 591,379 589,384 587,393 583,401 578,409 571,424 567,440 564,463 563,479 562,494 562,510 562,530 562,550 562,570 563,585 562,594 562,603 562,609 562,614 562,617 561,618 561,618 564,617 567,614 569,609 570,603 571,594 572,585 572,570 571,550 570,530 570,510 570,494 570,479 571,463 573,440 577,424 584,409 589,401 593,393 596,384 598,379 598,374 598,370 595,365 593,360 590,355 586,347 581,339 576,332 572,324 571,316 570,303 570,285 571,266 572,250 572,237 572,224 571,216 568,210 564,209" fill="#5a74bd"/>
<polygon points="564,209 567,210 568,216 569,224 569,237 568,250 568,266 567,285 567,303 568,316 570,324 574,332 578,339 583,347 587,355 590,360 592,365 594,370 595,374 594,379 592,384 590,393 586,401 581,409 574,424 570,440 567,463 566,479 566,494 566,510 566,530 566,550 567,570 567,585 567,594 566,603 565,609 564,614 563,617 561,618 561,618 565,617 569,614 572,609 574,603 576,594 576,585 576,570 575,550 574,530 574,510 573,494 574,479 574,463 576,440 580,424 587,409 592,401 596,393 599,384 601,379 602,374 601,370 599,365 596,360 593,355 589,347 584,339 579,332 575,324 573,316 573,303 573,285 574,266 575,250 575,237 575,224 573,216 570,210 564,209" fill="#5370ba"/>
<polygon points="564,209 568,210 571,216 572,224 572,237 572,250 571,266 570,285 570,303 571,316 572,324 576,332 581,339 586,347 590,355 593,360 595,365 598,370 598,374 598,379 596,384 593,393 589,401 584,409 577,424 573,440 571,463 570,479 570,494 570,510 570,530 571,550 572,570 572,585 571,594 570,603 569,609 567,614 564,617 561,618 561,618 566,617 571,614 575,609 578,603 580,594 581,585 581,570 580,550 579,530 578,510 577,494 577,479 578,463 579,440 583,424 590,409 595,401 599,393 602,384 604,379 605,374 604,370 602,365 599,360 596,355 591,347 587,339 582,332 578,324 576,316 576,303 576,285 577,266 578,250 578,237 577,224 575,216 571,210 564,209" fill="#4e6db9"/>
<polygon points="564,209 570,210 573,216 575,224 575,237 575,250 574,266 573,285 573,303 573,316 575,324 579,332 584,339 589,347 593,355 596,360 599,365 601,370 602,374 601,379 599,384 596,393 592,401 587,409 580,424 576,440 574,463 574,479 573,494 574,510 574,530 575,550 576,570 576,585 576,594 574,603 572,609 569,614 565,617 561,618 561,618 568,617 574,614 578,609 582,603 584,594 585,585 585,570 584,550 583,530 582,510 581,494 581,479 581,463 583,440 586,424 593,409 598,401 602,393 605,384 608,379 609,374 608,370 605,365 602,360 599,355 594,347 590,339 585,332 581,324 579,316 579,303 579,285 580,266 581,250 581,237 580,224 578,216 572,210 564,209" fill="#4b6bb8"/>
<polygon points="564,209 571,210 575,216 577,224 578,237 578,250 577,266 576,285 576,303 576,316 578,324 582,332 587,339 591,347 596,355 599,360 602,365 604,370 605,374 604,379 602,384 599,393 595,401 590,409 583,424 579,440 578,463 577,479 577,494 578,510 579,530 580,550 581,570 581,585 580,594 578,603 575,609 571,614 566,617 561,618 561,618 572,617 583,614 592,609 598,603 602,594 604,585 604,570 602,550 601,530 598,510 596,494 595,479 595,463 596,440 598,424 605,409 610,401 614,393 618,384 622,379 623,374 622,370 618,365 615,360 611,355 606,347 601,339 596,332 592,324 591,316 590,303 591,285 592,266 594,250 594,237 592,224 588,216 578,210 564,209" fill="#6580c4"/></g>
</g>
<g clip-path="url(#c11)">
<g filter="url(#bl)"><polygon points="649,209 635,210 626,216 622,224 620,237 620,250 622,266 623,285 623,303 623,316 621,324 617,332 613,339 608,347 603,355 599,360 596,365 592,370 591,374 592,379 596,384 600,393 604,401 608,409 615,424 618,440 620,462 621,481 621,492 621,507 626,526 633,543 642,555 654,572 666,589 678,605 687,618 697,632 706,643 721,632 713,621 703,607 693,594 681,578 669,561 657,545 649,533 643,520 639,504 639,491 638,480 637,460 634,440 631,424 624,409 619,401 615,393 612,384 609,379 609,374 609,370 612,365 615,360 618,355 622,347 627,339 632,332 636,324 637,316 638,303 638,285 637,266 636,250 635,237 636,224 638,216 643,210 649,209" fill="#5271bc"/>
<polygon points="649,209 641,210 636,216 633,224 632,237 633,250 634,266 635,285 635,303 635,316 633,324 629,332 624,339 620,347 615,355 612,360 609,365 606,370 605,374 606,379 609,384 612,393 616,401 621,409 628,424 631,440 633,460 635,480 635,491 636,505 640,521 646,535 654,547 666,563 678,580 690,596 700,609 710,623 718,634 724,630 716,618 706,605 696,592 684,576 672,559 660,542 653,531 646,518 643,504 642,491 642,479 640,460 637,440 634,424 627,409 622,401 618,393 615,384 613,379 612,374 613,370 615,365 618,360 621,355 625,347 630,339 635,332 639,324 640,316 641,303 641,285 640,266 639,250 639,237 639,224 641,216 644,210 649,209" fill="#4a6ab8"/>
<polygon points="649,209 643,210 638,216 636,224 635,237 636,250 637,266 638,285 638,303 637,316 636,324 632,332 627,339 622,347 618,355 615,360 612,365 609,370 609,374 609,379 612,384 615,393 619,401 624,409 631,424 634,440 637,460 638,480 639,491 639,504 643,520 649,533 657,545 669,561 681,578 693,594 703,607 713,621 721,632 727,627 719,616 709,602 699,590 687,573 675,557 663,540 656,530 650,517 646,503 646,491 645,479 643,459 641,440 637,424 630,409 625,401 621,393 618,384 616,379 616,374 616,370 618,365 621,360 623,355 628,347 633,339 637,332 641,324 643,316 644,303 644,285 643,266 642,250 642,237 642,224 643,216 646,210 649,209" fill="#4b6bb9"/>
<polygon points="649,209 644,210 641,216 639,224 639,237 639,250 640,266 641,285 641,303 640,316 639,324 635,332 630,339 625,347 621,355 618,360 615,365 613,370 612,374 613,379 615,384 618,393 622,401 627,409 634,424 637,440 640,460 642,479 642,491 643,504 646,518 653,531 660,542 672,559 684,576 696,592 706,605 716,618 724,630 730,625 722,614 712,600 702,587 690,571 678,555 666,538 659,528 653,516 650,503 649,491 648,479 647,459 644,440 640,424 633,409 628,401 624,393 621,384 620,379 619,374 620,370 622,365 624,360 626,355 631,347 635,339 640,332 644,324 646,316 647,303 647,285 646,266 645,250 645,237 645,224 646,216 647,210 649,209" fill="#4c6cb9"/>
<polygon points="649,209 646,210 643,216 642,224 642,237 642,250 643,266 644,285 644,303 643,316 641,324 637,332 633,339 628,347 623,355 621,360 618,365 616,370 616,374 616,379 618,384 621,393 625,401 630,409 637,424 641,440 643,459 645,479 646,491 646,503 650,517 656,530 663,540 675,557 687,573 699,590 709,602 719,616 727,627 733,623 725,612 715,598 705,585 693,569 681,552 669,536 662,526 656,515 653,502 653,490 652,478 650,459 647,440 643,424 636,409 631,401 627,393 625,384 623,379 622,374 623,370 625,365 627,360 629,355 634,347 638,339 643,332 647,324 649,316 650,303 650,285 649,266 648,250 648,237 648,224 648,216 648,210 649,209" fill="#4d6db9"/>
<polygon points="649,209 647,210 646,216 645,224 645,237 645,250 646,266 647,285 647,303 646,316 644,324 640,332 635,339 631,347 626,355 624,360 622,365 620,370 619,374 620,379 621,384 624,393 628,401 633,409 640,424 644,440 647,459 648,479 649,491 650,503 653,516 659,528 666,538 678,555 690,571 702,587 712,600 722,614 730,625 735,621 727,610 717,596 708,583 696,567 684,550 672,534 665,524 660,513 657,502 656,490 655,478 653,458 650,440 646,424 639,409 634,401 630,393 628,384 626,379 626,374 626,370 628,365 630,360 632,355 636,347 641,339 646,332 650,324 652,316 652,303 652,285 652,266 652,250 651,237 651,224 651,216 650,210 649,209" fill="#4e6eba"/>
<polygon points="649,209 648,210 648,216 648,224 648,237 648,250 649,266 650,285 650,303 649,316 647,324 643,332 638,339 634,347 629,355 627,360 625,365 623,370 622,374 623,379 625,384 627,393 631,401 636,409 643,424 647,440 650,459 652,478 653,490 653,502 656,515 662,526 669,536 681,552 693,569 705,585 715,598 725,612 733,623 738,619 730,608 720,594 711,581 699,565 687,548 675,532 668,522 663,512 660,501 660,490 659,478 657,458 653,440 649,424 642,409 637,401 633,393 631,384 630,379 629,374 630,370 631,365 633,360 635,355 639,347 644,339 649,332 653,324 655,316 655,303 655,285 655,266 655,250 654,237 654,224 653,216 651,210 649,209" fill="#5070bb"/>
<polygon points="649,209 650,210 651,216 651,224 651,237 652,250 652,266 652,285 652,303 652,316 650,324 646,332 641,339 636,347 632,355 630,360 628,365 626,370 626,374 626,379 628,384 630,393 634,401 639,409 646,424 650,440 653,458 655,478 656,490 657,502 660,513 665,524 672,534 684,550 696,567 708,583 717,596 727,610 735,621 741,617 733,606 723,592 714,579 702,563 690,546 678,530 671,520 666,511 664,501 663,490 662,478 660,458 656,440 652,424 645,409 640,401 636,393 634,384 633,379 633,374 633,370 634,365 636,360 638,355 642,347 646,339 652,332 655,324 657,316 658,303 658,285 658,266 658,250 657,237 657,224 655,216 653,210 649,209" fill="#5473bd"/>
<polygon points="649,209 651,210 653,216 654,224 654,237 655,250 655,266 655,285 655,303 655,316 653,324 649,332 644,339 639,347 635,355 633,360 631,365 630,370 629,374 630,379 631,384 633,393 637,401 642,409 649,424 653,440 657,458 659,478 660,490 660,501 663,512 668,522 675,532 687,548 699,565 711,581 720,594 730,608 738,619 744,614 736,604 726,589 717,577 705,560 693,544 681,528 674,519 670,510 667,500 666,490 666,477 663,457 660,440 655,424 648,409 643,401 639,393 637,384 636,379 636,374 637,370 638,365 639,360 641,355 645,347 649,339 654,332 658,324 660,316 661,303 661,285 661,266 661,250 660,237 659,224 658,216 654,210 649,209" fill="#5876bf"/>
<polygon points="649,209 653,210 655,216 657,224 657,237 658,250 658,266 658,285 658,303 657,316 655,324 652,332 646,339 642,347 638,355 636,360 634,365 633,370 633,374 633,379 634,384 636,393 640,401 645,409 652,424 656,440 660,458 662,478 663,490 664,501 666,511 671,520 678,530 690,546 702,563 714,579 723,592 733,606 741,617 747,612 739,601 729,587 720,574 708,558 696,541 684,525 678,517 673,508 671,500 670,489 669,477 667,457 663,440 658,424 651,409 646,401 642,393 641,384 640,379 640,374 640,370 641,365 642,360 644,355 648,347 652,339 657,332 661,324 663,316 664,303 664,285 664,266 664,250 664,237 662,224 660,216 656,210 649,209" fill="#5e7bc2"/>
<polygon points="649,209 654,210 658,216 659,224 660,237 661,250 661,266 661,285 661,303 660,316 658,324 654,332 649,339 645,347 641,355 639,360 638,365 637,370 636,374 636,379 637,384 639,393 643,401 648,409 655,424 660,440 663,457 666,477 666,490 667,500 670,510 674,519 681,528 693,544 705,560 717,577 726,589 736,604 744,614 750,610 742,599 732,585 723,572 711,556 698,539 687,523 681,515 676,507 674,499 673,489 672,477 670,457 666,440 661,424 654,409 649,401 645,393 644,384 643,379 643,374 643,370 644,365 645,360 647,355 650,347 655,339 660,332 664,324 666,316 667,303 667,285 667,266 667,250 667,237 665,224 663,216 657,210 649,209" fill="#6782c5"/>
<polygon points="649,209 656,210 660,216 662,224 664,237 664,250 664,266 664,285 664,303 663,316 661,324 657,332 652,339 648,347 644,355 642,360 641,365 640,370 640,374 640,379 641,384 642,393 646,401 651,409 658,424 663,440 667,457 669,477 670,489 671,500 673,508 678,517 684,525 696,541 708,558 720,574 729,587 739,601 747,612 762,601 755,590 745,576 735,563 723,547 711,530 699,515 694,507 690,502 689,497 688,488 686,476 683,455 679,440 673,424 666,409 661,401 658,393 657,384 657,379 657,374 657,370 657,365 657,360 658,355 662,347 666,339 672,332 675,324 678,316 679,303 679,285 679,266 680,250 679,237 677,224 673,216 663,210 649,209" fill="#778dca"/></g>
<ellipse cx="724" cy="603" rx="26" ry="22" fill="url(#bend)"/>
</g>
<path d="M605.60,364.60 L608.20,364.60 L606.90,372.10 Z M605.60,384.60 L608.20,384.60 L606.90,377.10 Z" fill="#15161c" opacity="0.85"/>
<g clip-path="url(#h12)"><g filter="url(#hb2)" opacity="0.8"><ellipse cx="580.60" cy="375.80" rx="21.6" ry="18.2" fill="#2c4a98"/><ellipse cx="633.00" cy="375.80" rx="21.6" ry="18.2" fill="#2c4a98"/></g></g>
<ellipse cx="580.30" cy="375.20" rx="17.90" ry="14.30" fill="url(#cg)" stroke="#15161c" stroke-width="2"/>
<ellipse cx="632.70" cy="375.20" rx="17.90" ry="14.30" fill="url(#cg)" stroke="#15161c" stroke-width="2"/>
<path d="M1006.20,215.70 C1009.10,215.69 1012.50,216.09 1015.00,217.30 C1017.35,218.44 1019.47,220.36 1020.90,222.50 C1022.37,224.70 1022.96,227.39 1023.60,230.40 C1024.41,234.18 1024.70,239.11 1024.80,243.50 C1024.90,247.91 1024.46,252.16 1024.20,256.80 C1023.91,261.89 1023.44,267.24 1023.10,272.80 C1022.73,278.86 1022.32,285.55 1022.10,291.80 C1021.89,297.88 1021.72,304.32 1021.80,309.80 C1021.87,314.40 1021.92,318.78 1022.40,322.50 C1022.79,325.46 1023.19,327.82 1024.10,330.40 C1025.05,333.10 1026.66,335.70 1028.10,338.30 C1029.56,340.94 1031.24,343.49 1032.80,346.10 C1034.37,348.72 1035.93,351.38 1037.50,354.00 C1039.06,356.61 1040.75,359.43 1042.20,361.80 C1043.42,363.80 1044.51,365.54 1045.60,367.30 C1046.61,368.93 1047.55,370.42 1048.50,372.00 C1049.45,373.59 1050.70,375.17 1051.30,376.80 C1051.84,378.28 1052.10,379.80 1052.10,381.30 C1052.10,382.80 1051.83,384.31 1051.30,385.80 C1050.70,387.47 1049.41,388.86 1048.50,390.80 C1047.33,393.31 1046.36,396.86 1045.10,399.70 C1043.89,402.42 1042.53,404.91 1041.10,407.50 C1039.64,410.15 1038.04,412.26 1036.40,415.40 C1034.16,419.69 1031.04,425.77 1029.30,431.10 C1027.62,436.24 1026.78,441.04 1026.00,446.80 C1025.07,453.68 1024.88,462.77 1024.60,469.70 C1024.37,475.45 1024.30,480.24 1024.30,485.50 C1024.30,490.74 1024.38,495.98 1024.60,501.20 C1024.82,506.41 1025.23,511.28 1025.60,516.80 C1026.02,523.05 1026.58,530.13 1027.00,536.80 C1027.42,543.47 1027.72,550.13 1028.10,556.80 C1028.48,563.47 1029.09,570.61 1029.30,576.80 C1029.48,582.16 1029.65,587.44 1029.40,591.80 C1029.21,595.19 1028.92,597.86 1028.30,600.80 C1027.68,603.73 1026.82,606.76 1025.70,609.40 C1024.65,611.86 1023.42,614.19 1021.90,616.20 C1020.44,618.14 1018.78,619.97 1016.80,621.30 C1014.79,622.65 1012.28,623.55 1009.90,624.20 C1007.54,624.84 1005.02,625.20 1002.60,625.20 C1000.22,625.20 997.80,624.84 995.50,624.20 C993.16,623.55 990.80,622.60 988.70,621.30 C986.53,619.96 984.41,618.17 982.70,616.20 C980.97,614.21 979.52,611.89 978.40,609.40 C977.22,606.78 976.52,603.72 975.90,600.80 C975.28,597.86 974.94,595.19 974.70,591.80 C974.40,587.44 974.58,582.16 974.60,576.80 C974.63,570.61 974.73,563.47 974.90,556.80 C975.07,550.13 975.20,543.46 975.60,536.80 C976.00,530.13 976.63,523.05 977.30,516.80 C977.89,511.27 978.63,506.41 979.30,501.20 C979.97,495.98 980.57,490.74 981.30,485.50 C982.03,480.24 982.71,475.44 983.70,469.70 C984.89,462.76 986.33,453.67 988.10,446.80 C989.59,441.02 991.15,436.27 993.20,431.10 C995.30,425.80 998.39,419.71 1000.60,415.40 C1002.20,412.29 1003.61,410.14 1005.00,407.50 C1006.37,404.91 1008.02,402.46 1008.90,399.70 C1009.80,396.90 1010.00,393.35 1010.30,390.80 C1010.53,388.90 1010.62,387.42 1010.70,385.80 C1010.78,384.26 1010.82,382.80 1010.80,381.30 C1010.78,379.80 1010.73,378.32 1010.60,376.80 C1010.47,375.22 1010.25,373.59 1010.00,372.00 C1009.75,370.42 1009.48,368.92 1009.10,367.30 C1008.69,365.53 1008.35,363.75 1007.60,361.80 C1006.68,359.38 1005.06,356.60 1003.70,354.00 C1002.32,351.36 1000.96,348.69 999.40,346.10 C997.80,343.46 995.73,340.96 994.20,338.30 C992.71,335.72 991.29,333.09 990.30,330.40 C989.35,327.82 988.78,325.47 988.30,322.50 C987.70,318.79 987.60,314.40 987.40,309.80 C987.16,304.32 987.17,297.88 987.10,291.80 C987.03,285.55 987.02,278.86 987.00,272.80 C986.99,267.24 986.92,261.89 987.00,256.80 C987.07,252.16 987.07,247.91 987.40,243.50 C987.73,239.11 988.16,234.18 989.00,230.40 C989.67,227.40 990.11,224.69 991.60,222.50 C993.06,220.34 995.41,218.43 997.80,217.30 C1000.26,216.13 1003.37,215.71 1006.20,215.70Z" fill="#15161c"/>
<path d="M1091.20,215.70 C1094.03,215.71 1097.14,216.13 1099.60,217.30 C1101.99,218.43 1104.34,220.34 1105.80,222.50 C1107.29,224.69 1107.73,227.40 1108.40,230.40 C1109.24,234.18 1109.67,239.11 1110.00,243.50 C1110.33,247.91 1110.33,252.16 1110.40,256.80 C1110.48,261.89 1110.41,267.24 1110.40,272.80 C1110.38,278.86 1110.37,285.55 1110.30,291.80 C1110.23,297.88 1110.24,304.32 1110.00,309.80 C1109.80,314.40 1109.70,318.79 1109.10,322.50 C1108.62,325.47 1108.05,327.82 1107.10,330.40 C1106.11,333.09 1104.69,335.72 1103.20,338.30 C1101.67,340.96 1099.60,343.46 1098.00,346.10 C1096.44,348.69 1095.08,351.36 1093.70,354.00 C1092.34,356.60 1090.72,359.38 1089.80,361.80 C1089.05,363.75 1088.71,365.53 1088.30,367.30 C1087.92,368.92 1087.65,370.42 1087.40,372.00 C1087.15,373.59 1086.93,375.22 1086.80,376.80 C1086.67,378.32 1086.62,379.80 1086.60,381.30 C1086.58,382.80 1086.62,384.26 1086.70,385.80 C1086.78,387.42 1086.87,388.90 1087.10,390.80 C1087.40,393.35 1087.60,396.90 1088.50,399.70 C1089.38,402.46 1091.03,404.91 1092.40,407.50 C1093.79,410.14 1095.20,412.29 1096.80,415.40 C1099.01,419.71 1102.10,425.80 1104.20,431.10 C1106.25,436.27 1107.81,441.02 1109.30,446.80 C1111.07,453.67 1112.51,462.76 1113.70,469.70 C1114.69,475.44 1115.37,480.24 1116.10,485.50 C1116.83,490.74 1117.43,495.98 1118.10,501.20 C1118.77,506.41 1119.51,511.27 1120.10,516.80 C1120.77,523.05 1121.40,530.13 1121.80,536.80 C1122.20,543.46 1122.33,550.13 1122.50,556.80 C1122.67,563.47 1122.77,570.61 1122.80,576.80 C1122.82,582.16 1123.00,587.44 1122.70,591.80 C1122.46,595.19 1122.12,597.86 1121.50,600.80 C1120.88,603.72 1120.18,606.78 1119.00,609.40 C1117.88,611.89 1116.43,614.21 1114.70,616.20 C1112.99,618.17 1110.87,619.96 1108.70,621.30 C1106.60,622.60 1104.24,623.55 1101.90,624.20 C1099.60,624.84 1097.18,625.20 1094.80,625.20 C1092.38,625.20 1089.86,624.84 1087.50,624.20 C1085.12,623.55 1082.61,622.65 1080.60,621.30 C1078.62,619.97 1076.96,618.14 1075.50,616.20 C1073.98,614.19 1072.75,611.86 1071.70,609.40 C1070.58,606.76 1069.72,603.73 1069.10,600.80 C1068.48,597.86 1068.19,595.19 1068.00,591.80 C1067.75,587.44 1067.92,582.16 1068.10,576.80 C1068.31,570.61 1068.92,563.47 1069.30,556.80 C1069.68,550.13 1069.98,543.47 1070.40,536.80 C1070.82,530.13 1071.38,523.05 1071.80,516.80 C1072.17,511.28 1072.58,506.41 1072.80,501.20 C1073.02,495.98 1073.10,490.74 1073.10,485.50 C1073.10,480.24 1073.03,475.45 1072.80,469.70 C1072.52,462.77 1072.33,453.68 1071.40,446.80 C1070.62,441.04 1069.78,436.24 1068.10,431.10 C1066.36,425.77 1063.24,419.69 1061.00,415.40 C1059.36,412.26 1057.76,410.15 1056.30,407.50 C1054.87,404.91 1053.51,402.42 1052.30,399.70 C1051.04,396.86 1050.07,393.31 1048.90,390.80 C1047.99,388.86 1046.70,387.47 1046.10,385.80 C1045.57,384.31 1045.30,382.80 1045.30,381.30 C1045.30,379.80 1045.56,378.28 1046.10,376.80 C1046.70,375.17 1047.95,373.59 1048.90,372.00 C1049.85,370.42 1050.79,368.93 1051.80,367.30 C1052.89,365.54 1053.98,363.80 1055.20,361.80 C1056.65,359.43 1058.34,356.61 1059.90,354.00 C1061.47,351.38 1063.03,348.72 1064.60,346.10 C1066.16,343.49 1067.84,340.94 1069.30,338.30 C1070.74,335.70 1072.35,333.10 1073.30,330.40 C1074.21,327.82 1074.61,325.46 1075.00,322.50 C1075.48,318.78 1075.53,314.40 1075.60,309.80 C1075.68,304.32 1075.51,297.88 1075.30,291.80 C1075.08,285.55 1074.67,278.86 1074.30,272.80 C1073.96,267.24 1073.49,261.89 1073.20,256.80 C1072.94,252.16 1072.50,247.91 1072.60,243.50 C1072.70,239.11 1072.99,234.18 1073.80,230.40 C1074.44,227.39 1075.03,224.70 1076.50,222.50 C1077.93,220.36 1080.05,218.44 1082.40,217.30 C1084.90,216.09 1088.30,215.69 1091.20,215.70Z" fill="#15161c"/>
<g clip-path="url(#c13)">
<g filter="url(#bl)"><polygon points="1006,216 993,217 983,222 979,230 976,244 976,257 976,273 977,292 977,310 978,322 980,330 984,338 989,346 994,354 997,362 998,367 998,372 998,377 998,381 999,386 999,391 998,400 994,408 990,415 982,431 977,447 971,470 968,486 966,501 963,517 960,537 959,557 958,577 958,592 960,601 964,609 971,616 980,621 991,624 1003,625 1003,625 997,624 992,621 988,616 984,609 982,601 982,592 981,577 982,557 982,537 983,517 985,501 987,486 989,470 993,447 998,431 1005,415 1010,408 1013,400 1015,391 1016,386 1016,381 1016,377 1015,372 1014,367 1012,362 1008,354 1004,346 998,338 995,330 993,322 992,310 991,292 992,273 992,257 992,244 993,230 995,222 1000,217 1006,216" fill="#8c9bd6"/>
<polygon points="1006,216 999,217 993,222 990,230 989,244 989,257 989,273 989,292 989,310 990,322 992,330 996,338 1001,346 1005,354 1009,362 1011,367 1012,372 1012,377 1013,381 1012,386 1012,391 1010,400 1007,408 1002,415 995,431 990,447 985,470 983,486 981,501 979,517 978,537 977,557 977,577 977,592 978,601 980,609 984,616 990,621 996,624 1003,625 1003,625 998,624 995,621 991,616 988,609 987,601 986,592 986,577 986,557 986,537 987,517 989,501 990,486 992,470 996,447 1001,431 1008,415 1013,408 1016,400 1018,391 1019,386 1019,381 1019,377 1018,372 1017,367 1015,362 1011,354 1006,346 1001,338 997,330 995,322 995,310 994,292 995,273 995,257 995,244 996,230 998,222 1001,217 1006,216" fill="#8999d3"/>
<polygon points="1006,216 1000,217 995,222 993,230 992,244 992,257 992,273 991,292 992,310 993,322 995,330 998,338 1004,346 1008,354 1012,362 1014,367 1015,372 1016,377 1016,381 1016,386 1015,391 1013,400 1010,408 1005,415 998,431 993,447 989,470 987,486 985,501 983,517 982,537 982,557 981,577 982,592 982,601 984,609 988,616 992,621 997,624 1003,625 1003,625 1000,624 997,621 994,616 992,609 991,601 991,592 991,577 990,557 991,537 991,517 993,501 994,486 996,470 999,447 1004,431 1011,415 1016,408 1019,400 1021,391 1023,386 1023,381 1022,377 1021,372 1020,367 1018,362 1014,354 1009,346 1004,338 1000,330 998,322 997,310 997,292 998,273 998,257 998,244 999,230 1000,222 1003,217 1006,216" fill="#8494d0"/>
<polygon points="1006,216 1001,217 998,222 996,230 995,244 995,257 995,273 994,292 995,310 995,322 997,330 1001,338 1006,346 1011,354 1015,362 1017,367 1018,372 1019,377 1019,381 1019,386 1018,391 1016,400 1013,408 1008,415 1001,431 996,447 992,470 990,486 989,501 987,517 986,537 986,557 986,577 986,592 987,601 988,609 991,616 995,621 998,624 1003,625 1003,625 1001,624 999,621 997,616 996,609 996,601 995,592 995,577 995,557 995,537 995,517 996,501 997,486 999,470 1002,447 1007,431 1014,415 1019,408 1022,400 1025,391 1026,386 1026,381 1026,377 1024,372 1023,367 1021,362 1016,354 1012,346 1007,338 1003,330 1001,322 1000,310 1000,292 1001,273 1001,257 1001,244 1002,230 1003,222 1004,217 1006,216" fill="#7e90ce"/>
<polygon points="1006,216 1003,217 1000,222 999,230 998,244 998,257 998,273 997,292 997,310 998,322 1000,330 1004,338 1009,346 1014,354 1018,362 1020,367 1021,372 1022,377 1023,381 1023,386 1021,391 1019,400 1016,408 1011,415 1004,431 999,447 996,470 994,486 993,501 991,517 991,537 990,557 991,577 991,592 991,601 992,609 994,616 997,621 1000,624 1003,625 1003,625 1002,624 1002,621 1001,616 1000,609 1000,601 1000,592 1000,577 999,557 999,537 999,517 1000,501 1001,486 1002,470 1005,447 1010,431 1017,415 1022,408 1025,400 1028,391 1029,386 1030,381 1029,377 1028,372 1026,367 1023,362 1019,354 1015,346 1010,338 1006,330 1004,322 1003,310 1003,292 1004,273 1004,257 1005,244 1005,230 1005,222 1006,217 1006,216" fill="#778aca"/>
<polygon points="1006,216 1004,217 1003,222 1002,230 1001,244 1001,257 1001,273 1000,292 1000,310 1001,322 1003,330 1007,338 1012,346 1016,354 1021,362 1023,367 1024,372 1026,377 1026,381 1026,386 1025,391 1022,400 1019,408 1014,415 1007,431 1002,447 999,470 997,486 996,501 995,517 995,537 995,557 995,577 995,592 996,601 996,609 997,616 999,621 1001,624 1003,625 1003,625 1003,624 1004,621 1004,616 1004,609 1004,601 1004,592 1004,577 1004,557 1003,537 1003,517 1004,501 1005,486 1006,470 1009,447 1013,431 1020,415 1025,408 1029,400 1031,391 1033,386 1033,381 1033,377 1031,372 1029,367 1026,362 1022,354 1017,346 1013,338 1009,330 1007,322 1006,310 1006,292 1007,273 1007,257 1008,244 1008,230 1007,222 1007,217 1006,216" fill="#6c81c6"/>
<polygon points="1006,216 1006,217 1005,222 1005,230 1005,244 1004,257 1004,273 1003,292 1003,310 1004,322 1006,330 1010,338 1015,346 1019,354 1023,362 1026,367 1028,372 1029,377 1030,381 1029,386 1028,391 1025,400 1022,408 1017,415 1010,431 1005,447 1002,470 1001,486 1000,501 999,517 999,537 999,557 1000,577 1000,592 1000,601 1000,609 1001,616 1002,621 1002,624 1003,625 1003,625 1004,624 1006,621 1007,616 1008,609 1009,601 1009,592 1009,577 1008,557 1008,537 1007,517 1008,501 1008,486 1009,470 1012,447 1016,431 1023,415 1028,408 1032,400 1034,391 1036,386 1037,381 1036,377 1034,372 1032,367 1029,362 1025,354 1020,346 1015,338 1011,330 1010,322 1009,310 1009,292 1010,273 1010,257 1011,244 1011,230 1010,222 1009,217 1006,216" fill="#6179c0"/>
<polygon points="1006,216 1007,217 1007,222 1008,230 1008,244 1007,257 1007,273 1006,292 1006,310 1007,322 1009,330 1013,338 1017,346 1022,354 1026,362 1029,367 1031,372 1033,377 1033,381 1033,386 1031,391 1029,400 1025,408 1020,415 1013,431 1009,447 1006,470 1005,486 1004,501 1003,517 1003,537 1004,557 1004,577 1004,592 1004,601 1004,609 1004,616 1004,621 1003,624 1003,625 1003,625 1006,624 1009,621 1010,616 1012,609 1013,601 1013,592 1013,577 1013,557 1012,537 1012,517 1011,501 1012,486 1013,470 1015,447 1019,431 1026,415 1031,408 1035,400 1037,391 1039,386 1040,381 1039,377 1037,372 1035,367 1032,362 1028,354 1023,346 1018,338 1014,330 1012,322 1012,310 1012,292 1013,273 1013,257 1014,244 1014,230 1012,222 1010,217 1006,216" fill="#5a74bd"/>
<polygon points="1006,216 1009,217 1010,222 1011,230 1011,244 1010,257 1010,273 1009,292 1009,310 1010,322 1011,330 1015,338 1020,346 1025,354 1029,362 1032,367 1034,372 1036,377 1037,381 1036,386 1034,391 1032,400 1028,408 1023,415 1016,431 1012,447 1009,470 1008,486 1008,501 1007,517 1008,537 1008,557 1009,577 1009,592 1009,601 1008,609 1007,616 1006,621 1004,624 1003,625 1003,625 1007,624 1011,621 1014,616 1016,609 1017,601 1018,592 1018,577 1017,557 1016,537 1016,517 1015,501 1015,486 1016,470 1018,447 1022,431 1029,415 1034,408 1038,400 1041,391 1043,386 1043,381 1043,377 1040,372 1038,367 1035,362 1030,354 1026,346 1021,338 1017,330 1015,322 1015,310 1015,292 1016,273 1016,257 1017,244 1016,230 1015,222 1011,217 1006,216" fill="#5370ba"/>
<polygon points="1006,216 1010,217 1012,222 1014,230 1014,244 1013,257 1013,273 1012,292 1012,310 1012,322 1014,330 1018,338 1023,346 1028,354 1032,362 1035,367 1037,372 1039,377 1040,381 1039,386 1037,391 1035,400 1031,408 1026,415 1019,431 1015,447 1013,470 1012,486 1011,501 1012,517 1012,537 1013,557 1013,577 1013,592 1013,601 1012,609 1010,616 1009,621 1006,624 1003,625 1003,625 1008,624 1013,621 1017,616 1020,609 1022,601 1023,592 1022,577 1021,557 1021,537 1020,517 1019,501 1019,486 1019,470 1021,447 1025,431 1032,415 1037,408 1041,400 1044,391 1046,386 1047,381 1046,377 1044,372 1041,367 1038,362 1033,354 1029,346 1024,338 1020,330 1018,322 1018,310 1018,292 1019,273 1020,257 1020,244 1019,230 1017,222 1013,217 1006,216" fill="#4e6db9"/>
<polygon points="1006,216 1011,217 1015,222 1016,230 1017,244 1016,257 1016,273 1015,292 1015,310 1015,322 1017,330 1021,338 1026,346 1030,354 1035,362 1038,367 1040,372 1043,377 1043,381 1043,386 1041,391 1038,400 1034,408 1029,415 1022,431 1018,447 1016,470 1015,486 1015,501 1016,517 1016,537 1017,557 1018,577 1018,592 1017,601 1016,609 1014,616 1011,621 1007,624 1003,625 1003,625 1009,624 1016,621 1020,616 1024,609 1026,601 1027,592 1027,577 1026,557 1025,537 1024,517 1023,501 1023,486 1023,470 1024,447 1028,431 1035,415 1040,408 1044,400 1047,391 1050,386 1050,381 1050,377 1047,372 1044,367 1041,362 1036,354 1031,346 1027,338 1023,330 1021,322 1020,310 1021,292 1022,273 1023,257 1023,244 1022,230 1020,222 1014,217 1006,216" fill="#4b6bb8"/>
<polygon points="1006,216 1013,217 1017,222 1019,230 1020,244 1020,257 1019,273 1018,292 1018,310 1018,322 1020,330 1024,338 1029,346 1033,354 1038,362 1041,367 1044,372 1046,377 1047,381 1046,386 1044,391 1041,400 1037,408 1032,415 1025,431 1021,447 1019,470 1019,486 1019,501 1020,517 1021,537 1021,557 1022,577 1023,592 1022,601 1020,609 1017,616 1013,621 1008,624 1003,625 1003,625 1014,624 1025,621 1034,616 1040,609 1044,601 1046,592 1046,577 1044,557 1042,537 1040,517 1038,501 1037,486 1037,470 1037,447 1040,431 1047,415 1052,408 1056,400 1060,391 1063,386 1064,381 1064,377 1060,372 1057,367 1053,362 1048,354 1043,346 1038,338 1034,330 1033,322 1032,310 1033,292 1034,273 1035,257 1036,244 1034,230 1030,222 1020,217 1006,216" fill="#6580c4"/></g>
</g>
<g clip-path="url(#c14)">
<g clip-path="url(#u14)"><g filter="url(#bl)"><polygon points="1091,216 1077,217 1068,222 1063,230 1061,244 1062,257 1063,273 1065,292 1065,310 1065,322 1063,330 1059,338 1055,346 1050,354 1045,362 1041,367 1037,372 1034,377 1033,381 1034,386 1037,391 1041,400 1045,408 1050,415 1057,431 1060,447 1061,470 1060,486 1059,501 1057,517 1055,537 1053,557 1052,577 1052,592 1053,601 1058,609 1064,616 1072,621 1083,624 1095,625 1095,625 1089,624 1084,621 1080,616 1078,609 1076,601 1075,592 1075,577 1076,557 1077,537 1078,517 1078,501 1078,486 1078,470 1076,447 1073,431 1065,415 1061,408 1057,400 1054,391 1051,386 1050,381 1051,377 1054,372 1056,367 1060,362 1064,354 1069,346 1074,338 1078,330 1079,322 1080,310 1080,292 1079,273 1078,257 1077,244 1078,230 1080,222 1085,217 1091,216" fill="#6580c4"/>
<polygon points="1091,216 1083,217 1078,222 1075,230 1074,244 1075,257 1076,273 1077,292 1077,310 1076,322 1075,330 1071,338 1066,346 1061,354 1057,362 1053,367 1051,372 1048,377 1047,381 1048,386 1050,391 1054,400 1058,408 1062,415 1070,431 1073,447 1075,470 1075,486 1075,501 1074,517 1073,537 1072,557 1070,577 1070,592 1071,601 1074,609 1077,616 1082,621 1088,624 1095,625 1095,625 1090,624 1086,621 1084,616 1082,609 1080,601 1079,592 1079,577 1080,557 1081,537 1082,517 1082,501 1082,486 1081,470 1079,447 1076,431 1068,415 1064,408 1060,400 1057,391 1055,386 1054,381 1055,377 1057,372 1059,367 1062,362 1067,354 1072,346 1076,338 1080,330 1082,322 1083,310 1083,292 1082,273 1081,257 1080,244 1081,230 1083,222 1086,217 1091,216" fill="#4b6bb8"/>
<polygon points="1091,216 1085,217 1080,222 1078,230 1077,244 1078,257 1079,273 1080,292 1080,310 1079,322 1078,330 1074,338 1069,346 1064,354 1060,362 1056,367 1054,372 1051,377 1050,381 1051,386 1054,391 1057,400 1061,408 1065,415 1073,431 1076,447 1078,470 1078,486 1078,501 1078,517 1077,537 1076,557 1075,577 1075,592 1076,601 1078,609 1080,616 1084,621 1089,624 1095,625 1095,625 1092,624 1089,621 1087,616 1085,609 1084,601 1084,592 1084,577 1085,557 1085,537 1086,517 1086,501 1086,486 1085,470 1082,447 1079,431 1071,415 1067,408 1063,400 1060,391 1058,386 1057,381 1058,377 1060,372 1062,367 1065,362 1070,354 1074,346 1079,338 1083,330 1085,322 1086,310 1086,292 1085,273 1084,257 1084,244 1084,230 1085,222 1087,217 1091,216" fill="#4e6db9"/>
<polygon points="1091,216 1086,217 1083,222 1081,230 1080,244 1081,257 1082,273 1083,292 1083,310 1082,322 1080,330 1076,338 1072,346 1067,354 1062,362 1059,367 1057,372 1055,377 1054,381 1055,386 1057,391 1060,400 1064,408 1068,415 1076,431 1079,447 1081,470 1082,486 1082,501 1082,517 1081,537 1080,557 1079,577 1079,592 1080,601 1082,609 1084,616 1086,621 1090,624 1095,625 1095,625 1093,624 1091,621 1090,616 1089,609 1089,601 1089,592 1089,577 1089,557 1090,537 1090,517 1090,501 1089,486 1088,470 1086,447 1082,431 1074,415 1070,408 1066,400 1063,391 1061,386 1061,381 1061,377 1063,372 1065,367 1068,362 1073,354 1077,346 1082,338 1086,330 1088,322 1088,310 1088,292 1088,273 1087,257 1087,244 1087,230 1087,222 1089,217 1091,216" fill="#5370ba"/>
<polygon points="1091,216 1087,217 1085,222 1084,230 1084,244 1084,257 1085,273 1086,292 1086,310 1085,322 1083,330 1079,338 1074,346 1070,354 1065,362 1062,367 1060,372 1058,377 1057,381 1058,386 1060,391 1063,400 1067,408 1071,415 1079,431 1082,447 1085,470 1086,486 1086,501 1086,517 1085,537 1085,557 1084,577 1084,592 1084,601 1085,609 1087,616 1089,621 1092,624 1095,625 1095,625 1094,624 1093,621 1093,616 1093,609 1093,601 1093,592 1093,577 1094,557 1094,537 1094,517 1094,501 1093,486 1092,470 1089,447 1085,431 1077,415 1073,408 1069,400 1066,391 1065,386 1064,381 1065,377 1067,372 1069,367 1071,362 1075,354 1080,346 1085,338 1089,330 1091,322 1091,310 1091,292 1091,273 1090,257 1090,244 1090,230 1090,222 1090,217 1091,216" fill="#5a74bd"/>
<polygon points="1091,216 1089,217 1087,222 1087,230 1087,244 1087,257 1088,273 1088,292 1088,310 1088,322 1086,330 1082,338 1077,346 1073,354 1068,362 1065,367 1063,372 1061,377 1061,381 1061,386 1063,391 1066,400 1070,408 1074,415 1082,431 1086,447 1088,470 1089,486 1090,501 1090,517 1090,537 1089,557 1089,577 1089,592 1089,601 1089,609 1090,616 1091,621 1093,624 1095,625 1095,625 1095,624 1096,621 1097,616 1097,609 1097,601 1098,592 1098,577 1098,557 1098,537 1098,517 1097,501 1096,486 1095,470 1092,447 1088,431 1080,415 1076,408 1072,400 1070,391 1068,386 1068,381 1068,377 1070,372 1072,367 1074,362 1078,354 1083,346 1088,338 1092,330 1093,322 1094,310 1094,292 1094,273 1093,257 1093,244 1093,230 1092,222 1092,217 1091,216" fill="#6179c0"/>
<polygon points="1091,216 1090,217 1090,222 1090,230 1090,244 1090,257 1091,273 1091,292 1091,310 1091,322 1089,330 1085,338 1080,346 1075,354 1071,362 1069,367 1067,372 1065,377 1064,381 1065,386 1066,391 1069,400 1073,408 1077,415 1085,431 1089,447 1092,470 1093,486 1094,501 1094,517 1094,537 1094,557 1093,577 1093,592 1093,601 1093,609 1093,616 1093,621 1094,624 1095,625 1095,625 1096,624 1098,621 1100,616 1101,609 1102,601 1102,592 1102,577 1103,557 1103,537 1102,517 1101,501 1100,486 1098,470 1095,447 1091,431 1083,415 1079,408 1075,400 1073,391 1071,386 1071,381 1072,377 1073,372 1075,367 1077,362 1081,354 1085,346 1090,338 1094,330 1096,322 1097,310 1097,292 1097,273 1096,257 1096,244 1095,230 1095,222 1093,217 1091,216" fill="#6c81c6"/>
<polygon points="1091,216 1092,217 1092,222 1093,230 1093,244 1093,257 1094,273 1094,292 1094,310 1093,322 1092,330 1088,338 1083,346 1078,354 1074,362 1072,367 1070,372 1068,377 1068,381 1068,386 1070,391 1072,400 1076,408 1080,415 1088,431 1092,447 1095,470 1096,486 1097,501 1098,517 1098,537 1098,557 1098,577 1098,592 1097,601 1097,609 1097,616 1096,621 1095,624 1095,625 1095,625 1098,624 1101,621 1103,616 1105,609 1106,601 1107,592 1107,577 1107,557 1107,537 1106,517 1105,501 1104,486 1102,470 1098,447 1094,431 1086,415 1082,408 1078,400 1076,391 1075,386 1075,381 1075,377 1076,372 1078,367 1080,362 1084,354 1088,346 1093,338 1097,330 1099,322 1100,310 1100,292 1100,273 1100,257 1099,244 1098,230 1097,222 1095,217 1091,216" fill="#778aca"/>
<polygon points="1091,216 1093,217 1095,222 1095,230 1096,244 1096,257 1097,273 1097,292 1097,310 1096,322 1094,330 1090,338 1085,346 1081,354 1077,362 1075,367 1073,372 1072,377 1071,381 1071,386 1073,391 1075,400 1079,408 1083,415 1091,431 1095,447 1098,470 1100,486 1101,501 1102,517 1103,537 1103,557 1102,577 1102,592 1102,601 1101,609 1100,616 1098,621 1096,624 1095,625 1095,625 1099,624 1103,621 1107,616 1109,609 1111,601 1111,592 1111,577 1111,557 1111,537 1110,517 1109,501 1107,486 1105,470 1101,447 1097,431 1089,415 1085,408 1081,400 1079,391 1078,386 1078,381 1078,377 1079,372 1081,367 1083,362 1087,354 1091,346 1096,338 1100,330 1102,322 1103,310 1103,292 1103,273 1103,257 1102,244 1101,230 1100,222 1096,217 1091,216" fill="#7e90ce"/>
<polygon points="1091,216 1095,217 1097,222 1098,230 1099,244 1100,257 1100,273 1100,292 1100,310 1099,322 1097,330 1093,338 1088,346 1084,354 1080,362 1078,367 1076,372 1075,377 1075,381 1075,386 1076,391 1078,400 1082,408 1086,415 1094,431 1098,447 1102,470 1104,486 1105,501 1106,517 1107,537 1107,557 1107,577 1107,592 1106,601 1105,609 1103,616 1101,621 1098,624 1095,625 1095,625 1100,624 1105,621 1110,616 1113,609 1115,601 1116,592 1116,577 1116,557 1115,537 1114,517 1112,501 1111,486 1109,470 1105,447 1100,431 1092,415 1088,408 1084,400 1082,391 1082,386 1081,381 1082,377 1083,372 1084,367 1085,362 1089,354 1094,346 1099,338 1103,330 1105,322 1106,310 1106,292 1106,273 1106,257 1105,244 1104,230 1102,222 1097,217 1091,216" fill="#8494d0"/>
<polygon points="1091,216 1096,217 1100,222 1101,230 1102,244 1103,257 1103,273 1103,292 1103,310 1102,322 1100,330 1096,338 1091,346 1087,354 1083,362 1081,367 1079,372 1078,377 1078,381 1078,386 1079,391 1081,400 1085,408 1089,415 1097,431 1101,447 1105,470 1107,486 1109,501 1110,517 1111,537 1111,557 1111,577 1111,592 1111,601 1109,609 1107,616 1103,621 1099,624 1095,625 1095,625 1101,624 1108,621 1113,616 1117,609 1119,601 1120,592 1121,577 1120,557 1120,537 1118,517 1116,501 1114,486 1112,470 1108,447 1103,431 1095,415 1091,408 1087,400 1086,391 1085,386 1085,381 1085,377 1086,372 1087,367 1088,362 1092,354 1097,346 1102,338 1106,330 1108,322 1109,310 1109,292 1109,273 1109,257 1108,244 1107,230 1105,222 1099,217 1091,216" fill="#8999d3"/>
<polygon points="1091,216 1097,217 1102,222 1104,230 1105,244 1106,257 1106,273 1106,292 1106,310 1105,322 1103,330 1099,338 1094,346 1089,354 1085,362 1084,367 1083,372 1082,377 1081,381 1082,386 1082,391 1084,400 1088,408 1092,415 1100,431 1105,447 1109,470 1111,486 1112,501 1114,517 1115,537 1116,557 1116,577 1116,592 1115,601 1113,609 1110,616 1105,621 1100,624 1095,625 1095,625 1106,624 1117,621 1126,616 1133,609 1137,601 1139,592 1139,577 1138,557 1137,537 1135,517 1132,501 1129,486 1126,470 1121,447 1115,431 1108,415 1103,408 1099,400 1099,391 1099,386 1099,381 1099,377 1099,372 1099,367 1100,362 1104,354 1108,346 1113,338 1117,330 1119,322 1120,310 1121,292 1121,273 1122,257 1121,244 1119,230 1115,222 1105,217 1091,216" fill="#8c9bd6"/></g></g>
<g clip-path="url(#d14)"><g filter="url(#bl)"><polygon points="1091,216 1077,217 1068,222 1063,230 1061,244 1062,257 1063,273 1065,292 1065,310 1065,322 1063,330 1059,338 1055,346 1050,354 1045,362 1041,367 1037,372 1034,377 1033,381 1034,386 1037,391 1041,400 1045,408 1050,415 1057,431 1060,447 1061,470 1060,486 1059,501 1057,517 1055,537 1053,557 1052,577 1052,592 1053,601 1058,609 1064,616 1072,621 1083,624 1095,625 1095,625 1089,624 1084,621 1080,616 1078,609 1076,601 1075,592 1075,577 1076,557 1077,537 1078,517 1078,501 1078,486 1078,470 1076,447 1073,431 1065,415 1061,408 1057,400 1054,391 1051,386 1050,381 1051,377 1054,372 1056,367 1060,362 1064,354 1069,346 1074,338 1078,330 1079,322 1080,310 1080,292 1079,273 1078,257 1077,244 1078,230 1080,222 1085,217 1091,216" fill="#f37658"/>
<polygon points="1091,216 1083,217 1078,222 1075,230 1074,244 1075,257 1076,273 1077,292 1077,310 1076,322 1075,330 1071,338 1066,346 1061,354 1057,362 1053,367 1051,372 1048,377 1047,381 1048,386 1050,391 1054,400 1058,408 1062,415 1070,431 1073,447 1075,470 1075,486 1075,501 1074,517 1073,537 1072,557 1070,577 1070,592 1071,601 1074,609 1077,616 1082,621 1088,624 1095,625 1095,625 1090,624 1086,621 1084,616 1082,609 1080,601 1079,592 1079,577 1080,557 1081,537 1082,517 1082,501 1082,486 1081,470 1079,447 1076,431 1068,415 1064,408 1060,400 1057,391 1055,386 1054,381 1055,377 1057,372 1059,367 1062,362 1067,354 1072,346 1076,338 1080,330 1082,322 1083,310 1083,292 1082,273 1081,257 1080,244 1081,230 1083,222 1086,217 1091,216" fill="#f16d4f"/>
<polygon points="1091,216 1085,217 1080,222 1078,230 1077,244 1078,257 1079,273 1080,292 1080,310 1079,322 1078,330 1074,338 1069,346 1064,354 1060,362 1056,367 1054,372 1051,377 1050,381 1051,386 1054,391 1057,400 1061,408 1065,415 1073,431 1076,447 1078,470 1078,486 1078,501 1078,517 1077,537 1076,557 1075,577 1075,592 1076,601 1078,609 1080,616 1084,621 1089,624 1095,625 1095,625 1092,624 1089,621 1087,616 1085,609 1084,601 1084,592 1084,577 1085,557 1085,537 1086,517 1086,501 1086,486 1085,470 1082,447 1079,431 1071,415 1067,408 1063,400 1060,391 1058,386 1057,381 1058,377 1060,372 1062,367 1065,362 1070,354 1074,346 1079,338 1083,330 1085,322 1086,310 1086,292 1085,273 1084,257 1084,244 1084,230 1085,222 1087,217 1091,216" fill="#f06447"/>
<polygon points="1091,216 1086,217 1083,222 1081,230 1080,244 1081,257 1082,273 1083,292 1083,310 1082,322 1080,330 1076,338 1072,346 1067,354 1062,362 1059,367 1057,372 1055,377 1054,381 1055,386 1057,391 1060,400 1064,408 1068,415 1076,431 1079,447 1081,470 1082,486 1082,501 1082,517 1081,537 1080,557 1079,577 1079,592 1080,601 1082,609 1084,616 1086,621 1090,624 1095,625 1095,625 1093,624 1091,621 1090,616 1089,609 1089,601 1089,592 1089,577 1089,557 1090,537 1090,517 1090,501 1089,486 1088,470 1086,447 1082,431 1074,415 1070,408 1066,400 1063,391 1061,386 1061,381 1061,377 1063,372 1065,367 1068,362 1073,354 1077,346 1082,338 1086,330 1088,322 1088,310 1088,292 1088,273 1087,257 1087,244 1087,230 1087,222 1089,217 1091,216" fill="#ef5b41"/>
<polygon points="1091,216 1087,217 1085,222 1084,230 1084,244 1084,257 1085,273 1086,292 1086,310 1085,322 1083,330 1079,338 1074,346 1070,354 1065,362 1062,367 1060,372 1058,377 1057,381 1058,386 1060,391 1063,400 1067,408 1071,415 1079,431 1082,447 1085,470 1086,486 1086,501 1086,517 1085,537 1085,557 1084,577 1084,592 1084,601 1085,609 1087,616 1089,621 1092,624 1095,625 1095,625 1094,624 1093,621 1093,616 1093,609 1093,601 1093,592 1093,577 1094,557 1094,537 1094,517 1094,501 1093,486 1092,470 1089,447 1085,431 1077,415 1073,408 1069,400 1066,391 1065,386 1064,381 1065,377 1067,372 1069,367 1071,362 1075,354 1080,346 1085,338 1089,330 1091,322 1091,310 1091,292 1091,273 1090,257 1090,244 1090,230 1090,222 1090,217 1091,216" fill="#ee533a"/>
<polygon points="1091,216 1089,217 1087,222 1087,230 1087,244 1087,257 1088,273 1088,292 1088,310 1088,322 1086,330 1082,338 1077,346 1073,354 1068,362 1065,367 1063,372 1061,377 1061,381 1061,386 1063,391 1066,400 1070,408 1074,415 1082,431 1086,447 1088,470 1089,486 1090,501 1090,517 1090,537 1089,557 1089,577 1089,592 1089,601 1089,609 1090,616 1091,621 1093,624 1095,625 1095,625 1095,624 1096,621 1097,616 1097,609 1097,601 1098,592 1098,577 1098,557 1098,537 1098,517 1097,501 1096,486 1095,470 1092,447 1088,431 1080,415 1076,408 1072,400 1070,391 1068,386 1068,381 1068,377 1070,372 1072,367 1074,362 1078,354 1083,346 1088,338 1092,330 1093,322 1094,310 1094,292 1094,273 1093,257 1093,244 1093,230 1092,222 1092,217 1091,216" fill="#ee4934"/>
<polygon points="1091,216 1090,217 1090,222 1090,230 1090,244 1090,257 1091,273 1091,292 1091,310 1091,322 1089,330 1085,338 1080,346 1075,354 1071,362 1069,367 1067,372 1065,377 1064,381 1065,386 1066,391 1069,400 1073,408 1077,415 1085,431 1089,447 1092,470 1093,486 1094,501 1094,517 1094,537 1094,557 1093,577 1093,592 1093,601 1093,609 1093,616 1093,621 1094,624 1095,625 1095,625 1096,624 1098,621 1100,616 1101,609 1102,601 1102,592 1102,577 1103,557 1103,537 1102,517 1101,501 1100,486 1098,470 1095,447 1091,431 1083,415 1079,408 1075,400 1073,391 1071,386 1071,381 1072,377 1073,372 1075,367 1077,362 1081,354 1085,346 1090,338 1094,330 1096,322 1097,310 1097,292 1097,273 1096,257 1096,244 1095,230 1095,222 1093,217 1091,216" fill="#ed402f"/>
<polygon points="1091,216 1092,217 1092,222 1093,230 1093,244 1093,257 1094,273 1094,292 1094,310 1093,322 1092,330 1088,338 1083,346 1078,354 1074,362 1072,367 1070,372 1068,377 1068,381 1068,386 1070,391 1072,400 1076,408 1080,415 1088,431 1092,447 1095,470 1096,486 1097,501 1098,517 1098,537 1098,557 1098,577 1098,592 1097,601 1097,609 1097,616 1096,621 1095,624 1095,625 1095,625 1098,624 1101,621 1103,616 1105,609 1106,601 1107,592 1107,577 1107,557 1107,537 1106,517 1105,501 1104,486 1102,470 1098,447 1094,431 1086,415 1082,408 1078,400 1076,391 1075,386 1075,381 1075,377 1076,372 1078,367 1080,362 1084,354 1088,346 1093,338 1097,330 1099,322 1100,310 1100,292 1100,273 1100,257 1099,244 1098,230 1097,222 1095,217 1091,216" fill="#ec372a"/>
<polygon points="1091,216 1093,217 1095,222 1095,230 1096,244 1096,257 1097,273 1097,292 1097,310 1096,322 1094,330 1090,338 1085,346 1081,354 1077,362 1075,367 1073,372 1072,377 1071,381 1071,386 1073,391 1075,400 1079,408 1083,415 1091,431 1095,447 1098,470 1100,486 1101,501 1102,517 1103,537 1103,557 1102,577 1102,592 1102,601 1101,609 1100,616 1098,621 1096,624 1095,625 1095,625 1099,624 1103,621 1107,616 1109,609 1111,601 1111,592 1111,577 1111,557 1111,537 1110,517 1109,501 1107,486 1105,470 1101,447 1097,431 1089,415 1085,408 1081,400 1079,391 1078,386 1078,381 1078,377 1079,372 1081,367 1083,362 1087,354 1091,346 1096,338 1100,330 1102,322 1103,310 1103,292 1103,273 1103,257 1102,244 1101,230 1100,222 1096,217 1091,216" fill="#ec2f27"/>
<polygon points="1091,216 1095,217 1097,222 1098,230 1099,244 1100,257 1100,273 1100,292 1100,310 1099,322 1097,330 1093,338 1088,346 1084,354 1080,362 1078,367 1076,372 1075,377 1075,381 1075,386 1076,391 1078,400 1082,408 1086,415 1094,431 1098,447 1102,470 1104,486 1105,501 1106,517 1107,537 1107,557 1107,577 1107,592 1106,601 1105,609 1103,616 1101,621 1098,624 1095,625 1095,625 1100,624 1105,621 1110,616 1113,609 1115,601 1116,592 1116,577 1116,557 1115,537 1114,517 1112,501 1111,486 1109,470 1105,447 1100,431 1092,415 1088,408 1084,400 1082,391 1082,386 1081,381 1082,377 1083,372 1084,367 1085,362 1089,354 1094,346 1099,338 1103,330 1105,322 1106,310 1106,292 1106,273 1106,257 1105,244 1104,230 1102,222 1097,217 1091,216" fill="#ec2925"/>
<polygon points="1091,216 1096,217 1100,222 1101,230 1102,244 1103,257 1103,273 1103,292 1103,310 1102,322 1100,330 1096,338 1091,346 1087,354 1083,362 1081,367 1079,372 1078,377 1078,381 1078,386 1079,391 1081,400 1085,408 1089,415 1097,431 1101,447 1105,470 1107,486 1109,501 1110,517 1111,537 1111,557 1111,577 1111,592 1111,601 1109,609 1107,616 1103,621 1099,624 1095,625 1095,625 1101,624 1108,621 1113,616 1117,609 1119,601 1120,592 1121,577 1120,557 1120,537 1118,517 1116,501 1114,486 1112,470 1108,447 1103,431 1095,415 1091,408 1087,400 1086,391 1085,386 1085,381 1085,377 1086,372 1087,367 1088,362 1092,354 1097,346 1102,338 1106,330 1108,322 1109,310 1109,292 1109,273 1109,257 1108,244 1107,230 1105,222 1099,217 1091,216" fill="#ec2625"/>
<polygon points="1091,216 1097,217 1102,222 1104,230 1105,244 1106,257 1106,273 1106,292 1106,310 1105,322 1103,330 1099,338 1094,346 1089,354 1085,362 1084,367 1083,372 1082,377 1081,381 1082,386 1082,391 1084,400 1088,408 1092,415 1100,431 1105,447 1109,470 1111,486 1112,501 1114,517 1115,537 1116,557 1116,577 1116,592 1115,601 1113,609 1110,616 1105,621 1100,624 1095,625 1095,625 1106,624 1117,621 1126,616 1133,609 1137,601 1139,592 1139,577 1138,557 1137,537 1135,517 1132,501 1129,486 1126,470 1121,447 1115,431 1108,415 1103,408 1099,400 1099,391 1099,386 1099,381 1099,377 1099,372 1099,367 1100,362 1104,354 1108,346 1113,338 1117,330 1119,322 1120,310 1121,292 1121,273 1122,257 1121,244 1119,230 1115,222 1105,217 1091,216" fill="#ef5340"/></g></g>
</g>
<path d="M1047.40,371.40 L1050.00,371.40 L1048.70,378.90 Z M1047.40,391.40 L1050.00,391.40 L1048.70,383.90 Z" fill="#15161c" opacity="0.85"/>
<g clip-path="url(#h15)"><g filter="url(#hb2)" opacity="0.8"><ellipse cx="1022.40" cy="382.60" rx="21.6" ry="18.2" fill="#2c4a98"/><ellipse cx="1074.80" cy="382.60" rx="21.6" ry="18.2" fill="#2c4a98"/></g></g>
<ellipse cx="1022.10" cy="382.00" rx="17.90" ry="14.30" fill="url(#cg)" stroke="#15161c" stroke-width="2"/>
<ellipse cx="1074.50" cy="382.00" rx="17.90" ry="14.30" fill="url(#cg)" stroke="#15161c" stroke-width="2"/>
<path d="M1239.20,215.70 C1242.10,215.69 1245.50,216.09 1248.00,217.30 C1250.35,218.44 1252.47,220.36 1253.90,222.50 C1255.37,224.70 1255.96,227.39 1256.60,230.40 C1257.41,234.18 1257.70,239.11 1257.80,243.50 C1257.90,247.91 1257.46,252.16 1257.20,256.80 C1256.91,261.89 1256.44,267.24 1256.10,272.80 C1255.73,278.86 1255.32,285.55 1255.10,291.80 C1254.89,297.88 1254.72,304.32 1254.80,309.80 C1254.87,314.40 1254.92,318.78 1255.40,322.50 C1255.79,325.46 1256.19,327.82 1257.10,330.40 C1258.05,333.10 1259.66,335.70 1261.10,338.30 C1262.56,340.94 1264.24,343.49 1265.80,346.10 C1267.37,348.72 1268.93,351.38 1270.50,354.00 C1272.06,356.61 1273.75,359.43 1275.20,361.80 C1276.42,363.80 1277.51,365.54 1278.60,367.30 C1279.61,368.93 1280.55,370.42 1281.50,372.00 C1282.45,373.59 1283.70,375.17 1284.30,376.80 C1284.84,378.28 1285.10,379.80 1285.10,381.30 C1285.10,382.80 1284.83,384.31 1284.30,385.80 C1283.70,387.47 1282.41,388.86 1281.50,390.80 C1280.33,393.31 1279.36,396.86 1278.10,399.70 C1276.89,402.42 1275.53,404.91 1274.10,407.50 C1272.64,410.15 1271.04,412.26 1269.40,415.40 C1267.16,419.69 1264.04,425.77 1262.30,431.10 C1260.62,436.24 1259.78,441.04 1259.00,446.80 C1258.07,453.68 1257.88,462.77 1257.60,469.70 C1257.37,475.45 1257.30,480.24 1257.30,485.50 C1257.30,490.74 1257.38,495.98 1257.60,501.20 C1257.82,506.41 1258.23,511.28 1258.60,516.80 C1259.02,523.05 1259.58,530.13 1260.00,536.80 C1260.42,543.47 1260.72,550.13 1261.10,556.80 C1261.48,563.47 1262.09,570.61 1262.30,576.80 C1262.48,582.16 1262.65,587.44 1262.40,591.80 C1262.21,595.19 1261.92,597.86 1261.30,600.80 C1260.68,603.73 1259.82,606.76 1258.70,609.40 C1257.65,611.86 1256.42,614.19 1254.90,616.20 C1253.44,618.14 1251.78,619.97 1249.80,621.30 C1247.79,622.65 1245.28,623.55 1242.90,624.20 C1240.54,624.84 1238.02,625.20 1235.60,625.20 C1233.22,625.20 1230.80,624.84 1228.50,624.20 C1226.16,623.55 1223.80,622.60 1221.70,621.30 C1219.53,619.96 1217.41,618.17 1215.70,616.20 C1213.97,614.21 1212.52,611.89 1211.40,609.40 C1210.22,606.78 1209.52,603.72 1208.90,600.80 C1208.28,597.86 1207.94,595.19 1207.70,591.80 C1207.40,587.44 1207.58,582.16 1207.60,576.80 C1207.63,570.61 1207.73,563.47 1207.90,556.80 C1208.07,550.13 1208.20,543.46 1208.60,536.80 C1209.00,530.13 1209.63,523.05 1210.30,516.80 C1210.89,511.27 1211.63,506.41 1212.30,501.20 C1212.97,495.98 1213.57,490.74 1214.30,485.50 C1215.03,480.24 1215.71,475.44 1216.70,469.70 C1217.89,462.76 1219.33,453.67 1221.10,446.80 C1222.59,441.02 1224.15,436.27 1226.20,431.10 C1228.30,425.80 1231.39,419.71 1233.60,415.40 C1235.20,412.29 1236.61,410.14 1238.00,407.50 C1239.37,404.91 1241.02,402.46 1241.90,399.70 C1242.80,396.90 1243.00,393.35 1243.30,390.80 C1243.53,388.90 1243.62,387.42 1243.70,385.80 C1243.78,384.26 1243.82,382.80 1243.80,381.30 C1243.78,379.80 1243.73,378.32 1243.60,376.80 C1243.47,375.22 1243.25,373.59 1243.00,372.00 C1242.75,370.42 1242.48,368.92 1242.10,367.30 C1241.69,365.53 1241.35,363.75 1240.60,361.80 C1239.68,359.38 1238.06,356.60 1236.70,354.00 C1235.32,351.36 1233.96,348.69 1232.40,346.10 C1230.80,343.46 1228.73,340.96 1227.20,338.30 C1225.71,335.72 1224.29,333.09 1223.30,330.40 C1222.35,327.82 1221.78,325.47 1221.30,322.50 C1220.70,318.79 1220.60,314.40 1220.40,309.80 C1220.16,304.32 1220.17,297.88 1220.10,291.80 C1220.03,285.55 1220.02,278.86 1220.00,272.80 C1219.99,267.24 1219.92,261.89 1220.00,256.80 C1220.07,252.16 1220.07,247.91 1220.40,243.50 C1220.73,239.11 1221.16,234.18 1222.00,230.40 C1222.67,227.40 1223.11,224.69 1224.60,222.50 C1226.06,220.34 1228.41,218.43 1230.80,217.30 C1233.26,216.13 1236.37,215.71 1239.20,215.70Z" fill="#2a1412"/>
<path d="M1324.20,215.70 C1327.03,215.71 1330.14,216.13 1332.60,217.30 C1334.99,218.43 1337.34,220.34 1338.80,222.50 C1340.29,224.69 1340.73,227.40 1341.40,230.40 C1342.24,234.18 1342.67,239.11 1343.00,243.50 C1343.33,247.91 1343.33,252.16 1343.40,256.80 C1343.48,261.89 1343.41,267.24 1343.40,272.80 C1343.38,278.86 1343.37,285.55 1343.30,291.80 C1343.23,297.88 1343.24,304.32 1343.00,309.80 C1342.80,314.40 1342.70,318.79 1342.10,322.50 C1341.62,325.47 1341.05,327.82 1340.10,330.40 C1339.11,333.09 1337.69,335.72 1336.20,338.30 C1334.67,340.96 1332.60,343.46 1331.00,346.10 C1329.44,348.69 1328.08,351.36 1326.70,354.00 C1325.34,356.60 1323.72,359.38 1322.80,361.80 C1322.05,363.75 1321.71,365.53 1321.30,367.30 C1320.92,368.92 1320.65,370.42 1320.40,372.00 C1320.15,373.59 1319.93,375.22 1319.80,376.80 C1319.67,378.32 1319.62,379.80 1319.60,381.30 C1319.58,382.80 1319.62,384.26 1319.70,385.80 C1319.78,387.42 1319.87,388.90 1320.10,390.80 C1320.40,393.35 1320.60,396.90 1321.50,399.70 C1322.38,402.46 1324.03,404.91 1325.40,407.50 C1326.79,410.14 1328.20,412.29 1329.80,415.40 C1332.01,419.71 1335.10,425.80 1337.20,431.10 C1339.25,436.27 1340.81,441.02 1342.30,446.80 C1344.07,453.67 1345.51,462.76 1346.70,469.70 C1347.69,475.44 1348.37,480.24 1349.10,485.50 C1349.83,490.74 1350.43,495.98 1351.10,501.20 C1351.77,506.41 1352.51,511.27 1353.10,516.80 C1353.77,523.05 1354.40,530.13 1354.80,536.80 C1355.20,543.46 1355.33,550.13 1355.50,556.80 C1355.67,563.47 1355.77,570.61 1355.80,576.80 C1355.82,582.16 1356.00,587.44 1355.70,591.80 C1355.46,595.19 1355.12,597.86 1354.50,600.80 C1353.88,603.72 1353.18,606.78 1352.00,609.40 C1350.88,611.89 1349.43,614.21 1347.70,616.20 C1345.99,618.17 1343.87,619.96 1341.70,621.30 C1339.60,622.60 1337.24,623.55 1334.90,624.20 C1332.60,624.84 1330.18,625.20 1327.80,625.20 C1325.38,625.20 1322.86,624.84 1320.50,624.20 C1318.12,623.55 1315.61,622.65 1313.60,621.30 C1311.62,619.97 1309.96,618.14 1308.50,616.20 C1306.98,614.19 1305.75,611.86 1304.70,609.40 C1303.58,606.76 1302.72,603.73 1302.10,600.80 C1301.48,597.86 1301.19,595.19 1301.00,591.80 C1300.75,587.44 1300.92,582.16 1301.10,576.80 C1301.31,570.61 1301.92,563.47 1302.30,556.80 C1302.68,550.13 1302.98,543.47 1303.40,536.80 C1303.82,530.13 1304.38,523.05 1304.80,516.80 C1305.17,511.28 1305.58,506.41 1305.80,501.20 C1306.02,495.98 1306.10,490.74 1306.10,485.50 C1306.10,480.24 1306.03,475.45 1305.80,469.70 C1305.52,462.77 1305.33,453.68 1304.40,446.80 C1303.62,441.04 1302.78,436.24 1301.10,431.10 C1299.36,425.77 1296.24,419.69 1294.00,415.40 C1292.36,412.26 1290.76,410.15 1289.30,407.50 C1287.87,404.91 1286.51,402.42 1285.30,399.70 C1284.04,396.86 1283.07,393.31 1281.90,390.80 C1280.99,388.86 1279.70,387.47 1279.10,385.80 C1278.57,384.31 1278.30,382.80 1278.30,381.30 C1278.30,379.80 1278.56,378.28 1279.10,376.80 C1279.70,375.17 1280.95,373.59 1281.90,372.00 C1282.85,370.42 1283.79,368.93 1284.80,367.30 C1285.89,365.54 1286.98,363.80 1288.20,361.80 C1289.65,359.43 1291.34,356.61 1292.90,354.00 C1294.47,351.38 1296.03,348.72 1297.60,346.10 C1299.16,343.49 1300.84,340.94 1302.30,338.30 C1303.74,335.70 1305.35,333.10 1306.30,330.40 C1307.21,327.82 1307.61,325.46 1308.00,322.50 C1308.48,318.78 1308.53,314.40 1308.60,309.80 C1308.68,304.32 1308.51,297.88 1308.30,291.80 C1308.08,285.55 1307.67,278.86 1307.30,272.80 C1306.96,267.24 1306.49,261.89 1306.20,256.80 C1305.94,252.16 1305.50,247.91 1305.60,243.50 C1305.70,239.11 1305.99,234.18 1306.80,230.40 C1307.44,227.39 1308.03,224.70 1309.50,222.50 C1310.93,220.36 1313.05,218.44 1315.40,217.30 C1317.90,216.09 1321.30,215.69 1324.20,215.70Z" fill="#2a1412"/>
<g clip-path="url(#c16)">
<g clip-path="url(#u16)"><g filter="url(#bl)"><polygon points="1239,216 1226,217 1216,222 1212,230 1209,244 1209,257 1209,273 1210,292 1210,310 1211,322 1213,330 1217,338 1222,346 1227,354 1230,362 1231,367 1231,372 1231,377 1231,381 1232,386 1232,391 1231,400 1227,408 1223,415 1215,431 1210,447 1204,470 1201,486 1199,501 1196,517 1193,537 1192,557 1191,577 1191,592 1193,601 1197,609 1204,616 1213,621 1224,624 1236,625 1236,625 1230,624 1225,621 1221,616 1217,609 1215,601 1215,592 1214,577 1215,557 1215,537 1216,517 1218,501 1220,486 1222,470 1226,447 1231,431 1238,415 1243,408 1246,400 1248,391 1249,386 1249,381 1249,377 1248,372 1247,367 1245,362 1241,354 1237,346 1231,338 1228,330 1226,322 1225,310 1224,292 1225,273 1225,257 1225,244 1226,230 1228,222 1233,217 1239,216" fill="#f37658"/>
<polygon points="1239,216 1232,217 1226,222 1223,230 1222,244 1222,257 1222,273 1222,292 1222,310 1223,322 1225,330 1229,338 1234,346 1238,354 1242,362 1244,367 1245,372 1245,377 1246,381 1245,386 1245,391 1243,400 1240,408 1235,415 1228,431 1223,447 1218,470 1216,486 1214,501 1212,517 1211,537 1210,557 1210,577 1210,592 1211,601 1213,609 1217,616 1223,621 1229,624 1236,625 1236,625 1232,624 1228,621 1224,616 1221,609 1220,601 1219,592 1219,577 1219,557 1219,537 1220,517 1222,501 1223,486 1225,470 1229,447 1234,431 1241,415 1246,408 1249,400 1251,391 1252,386 1252,381 1252,377 1251,372 1250,367 1248,362 1244,354 1239,346 1234,338 1230,330 1228,322 1228,310 1227,292 1228,273 1228,257 1228,244 1229,230 1231,222 1234,217 1239,216" fill="#f16d4f"/>
<polygon points="1239,216 1233,217 1228,222 1226,230 1225,244 1225,257 1225,273 1224,292 1225,310 1226,322 1228,330 1231,338 1237,346 1241,354 1245,362 1247,367 1248,372 1249,377 1249,381 1249,386 1248,391 1246,400 1243,408 1238,415 1231,431 1226,447 1222,470 1220,486 1218,501 1216,517 1215,537 1215,557 1214,577 1215,592 1215,601 1217,609 1221,616 1225,621 1230,624 1236,625 1236,625 1233,624 1230,621 1227,616 1225,609 1224,601 1224,592 1224,577 1223,557 1224,537 1224,517 1226,501 1227,486 1229,470 1232,447 1237,431 1244,415 1249,408 1252,400 1254,391 1256,386 1256,381 1255,377 1254,372 1253,367 1251,362 1247,354 1242,346 1237,338 1233,330 1231,322 1230,310 1230,292 1231,273 1231,257 1231,244 1232,230 1233,222 1236,217 1239,216" fill="#f06447"/>
<polygon points="1239,216 1234,217 1231,222 1229,230 1228,244 1228,257 1228,273 1227,292 1228,310 1228,322 1230,330 1234,338 1239,346 1244,354 1248,362 1250,367 1251,372 1252,377 1252,381 1252,386 1251,391 1249,400 1246,408 1241,415 1234,431 1229,447 1225,470 1223,486 1222,501 1220,517 1219,537 1219,557 1219,577 1219,592 1220,601 1221,609 1224,616 1228,621 1232,624 1236,625 1236,625 1234,624 1232,621 1230,616 1229,609 1229,601 1228,592 1228,577 1228,557 1228,537 1228,517 1229,501 1230,486 1232,470 1235,447 1240,431 1247,415 1252,408 1255,400 1258,391 1259,386 1259,381 1259,377 1257,372 1256,367 1254,362 1249,354 1245,346 1240,338 1236,330 1234,322 1233,310 1233,292 1234,273 1234,257 1234,244 1235,230 1236,222 1237,217 1239,216" fill="#ef5b41"/>
<polygon points="1239,216 1236,217 1233,222 1232,230 1231,244 1231,257 1231,273 1230,292 1230,310 1231,322 1233,330 1237,338 1242,346 1247,354 1251,362 1253,367 1254,372 1255,377 1256,381 1256,386 1254,391 1252,400 1249,408 1244,415 1237,431 1232,447 1229,470 1227,486 1226,501 1224,517 1224,537 1223,557 1224,577 1224,592 1224,601 1225,609 1227,616 1230,621 1233,624 1236,625 1236,625 1235,624 1235,621 1234,616 1233,609 1233,601 1233,592 1233,577 1232,557 1232,537 1232,517 1233,501 1234,486 1235,470 1238,447 1243,431 1250,415 1255,408 1258,400 1261,391 1262,386 1263,381 1262,377 1261,372 1259,367 1256,362 1252,354 1248,346 1243,338 1239,330 1237,322 1236,310 1236,292 1237,273 1237,257 1238,244 1238,230 1238,222 1239,217 1239,216" fill="#ee533a"/>
<polygon points="1239,216 1237,217 1236,222 1235,230 1234,244 1234,257 1234,273 1233,292 1233,310 1234,322 1236,330 1240,338 1245,346 1249,354 1254,362 1256,367 1257,372 1259,377 1259,381 1259,386 1258,391 1255,400 1252,408 1247,415 1240,431 1235,447 1232,470 1230,486 1229,501 1228,517 1228,537 1228,557 1228,577 1228,592 1229,601 1229,609 1230,616 1232,621 1234,624 1236,625 1236,625 1236,624 1237,621 1237,616 1237,609 1237,601 1237,592 1237,577 1237,557 1236,537 1236,517 1237,501 1238,486 1239,470 1242,447 1246,431 1253,415 1258,408 1262,400 1264,391 1266,386 1266,381 1266,377 1264,372 1262,367 1259,362 1255,354 1250,346 1246,338 1242,330 1240,322 1239,310 1239,292 1240,273 1240,257 1241,244 1241,230 1240,222 1240,217 1239,216" fill="#ee4934"/>
<polygon points="1239,216 1239,217 1238,222 1238,230 1238,244 1237,257 1237,273 1236,292 1236,310 1237,322 1239,330 1243,338 1248,346 1252,354 1256,362 1259,367 1261,372 1262,377 1263,381 1262,386 1261,391 1258,400 1255,408 1250,415 1243,431 1238,447 1235,470 1234,486 1233,501 1232,517 1232,537 1232,557 1233,577 1233,592 1233,601 1233,609 1234,616 1235,621 1235,624 1236,625 1236,625 1238,624 1239,621 1240,616 1241,609 1242,601 1242,592 1242,577 1241,557 1241,537 1240,517 1241,501 1241,486 1242,470 1245,447 1249,431 1256,415 1261,408 1265,400 1267,391 1269,386 1270,381 1269,377 1267,372 1265,367 1262,362 1258,354 1253,346 1248,338 1244,330 1243,322 1242,310 1242,292 1243,273 1243,257 1244,244 1244,230 1243,222 1242,217 1239,216" fill="#ed402f"/>
<polygon points="1239,216 1240,217 1240,222 1241,230 1241,244 1240,257 1240,273 1239,292 1239,310 1240,322 1242,330 1246,338 1250,346 1255,354 1259,362 1262,367 1264,372 1266,377 1266,381 1266,386 1264,391 1262,400 1258,408 1253,415 1246,431 1242,447 1239,470 1238,486 1237,501 1236,517 1236,537 1237,557 1237,577 1237,592 1237,601 1237,609 1237,616 1237,621 1236,624 1236,625 1236,625 1239,624 1242,621 1243,616 1245,609 1246,601 1246,592 1246,577 1246,557 1245,537 1245,517 1244,501 1245,486 1246,470 1248,447 1252,431 1259,415 1264,408 1268,400 1270,391 1272,386 1273,381 1272,377 1270,372 1268,367 1265,362 1261,354 1256,346 1251,338 1247,330 1245,322 1245,310 1245,292 1246,273 1246,257 1247,244 1247,230 1245,222 1243,217 1239,216" fill="#ec372a"/>
<polygon points="1239,216 1242,217 1243,222 1244,230 1244,244 1243,257 1243,273 1242,292 1242,310 1243,322 1244,330 1248,338 1253,346 1258,354 1262,362 1265,367 1267,372 1269,377 1270,381 1269,386 1267,391 1265,400 1261,408 1256,415 1249,431 1245,447 1242,470 1241,486 1241,501 1240,517 1241,537 1241,557 1242,577 1242,592 1242,601 1241,609 1240,616 1239,621 1238,624 1236,625 1236,625 1240,624 1244,621 1247,616 1249,609 1250,601 1251,592 1251,577 1250,557 1249,537 1249,517 1248,501 1248,486 1249,470 1251,447 1255,431 1262,415 1267,408 1271,400 1274,391 1276,386 1276,381 1276,377 1273,372 1271,367 1268,362 1263,354 1259,346 1254,338 1250,330 1248,322 1248,310 1248,292 1249,273 1249,257 1250,244 1249,230 1248,222 1244,217 1239,216" fill="#ec2f27"/>
<polygon points="1239,216 1243,217 1245,222 1247,230 1247,244 1246,257 1246,273 1245,292 1245,310 1245,322 1247,330 1251,338 1256,346 1261,354 1265,362 1268,367 1270,372 1272,377 1273,381 1272,386 1270,391 1268,400 1264,408 1259,415 1252,431 1248,447 1246,470 1245,486 1244,501 1245,517 1245,537 1246,557 1246,577 1246,592 1246,601 1245,609 1243,616 1242,621 1239,624 1236,625 1236,625 1241,624 1246,621 1250,616 1253,609 1255,601 1256,592 1255,577 1254,557 1254,537 1253,517 1252,501 1252,486 1252,470 1254,447 1258,431 1265,415 1270,408 1274,400 1277,391 1279,386 1280,381 1279,377 1277,372 1274,367 1271,362 1266,354 1262,346 1257,338 1253,330 1251,322 1250,310 1251,292 1252,273 1253,257 1253,244 1252,230 1250,222 1246,217 1239,216" fill="#ec2925"/>
<polygon points="1239,216 1244,217 1248,222 1249,230 1250,244 1249,257 1249,273 1248,292 1248,310 1248,322 1250,330 1254,338 1259,346 1263,354 1268,362 1271,367 1273,372 1276,377 1276,381 1276,386 1274,391 1271,400 1267,408 1262,415 1255,431 1251,447 1249,470 1248,486 1248,501 1249,517 1249,537 1250,557 1251,577 1251,592 1250,601 1249,609 1247,616 1244,621 1240,624 1236,625 1236,625 1242,624 1249,621 1253,616 1257,609 1259,601 1260,592 1260,577 1259,557 1258,537 1257,517 1256,501 1256,486 1256,470 1257,447 1261,431 1268,415 1273,408 1277,400 1280,391 1283,386 1283,381 1283,377 1280,372 1277,367 1274,362 1269,354 1264,346 1260,338 1256,330 1254,322 1253,310 1254,292 1255,273 1256,257 1256,244 1255,230 1253,222 1247,217 1239,216" fill="#ec2625"/>
<polygon points="1239,216 1246,217 1250,222 1252,230 1253,244 1253,257 1252,273 1251,292 1250,310 1251,322 1253,330 1257,338 1262,346 1266,354 1271,362 1274,367 1277,372 1279,377 1280,381 1279,386 1277,391 1274,400 1270,408 1265,415 1258,431 1254,447 1252,470 1252,486 1252,501 1253,517 1254,537 1254,557 1255,577 1256,592 1255,601 1253,609 1250,616 1246,621 1241,624 1236,625 1236,625 1247,624 1258,621 1267,616 1273,609 1277,601 1279,592 1279,577 1277,557 1275,537 1273,517 1271,501 1270,486 1270,470 1270,447 1273,431 1280,415 1285,408 1289,400 1293,391 1296,386 1297,381 1297,377 1293,372 1290,367 1286,362 1281,354 1276,346 1271,338 1267,330 1266,322 1265,310 1266,292 1267,273 1268,257 1269,244 1267,230 1263,222 1253,217 1239,216" fill="#ef5340"/></g></g>
<g clip-path="url(#d16)"><g filter="url(#bl)"><polygon points="1239,216 1226,217 1216,222 1212,230 1209,244 1209,257 1209,273 1210,292 1210,310 1211,322 1213,330 1217,338 1222,346 1227,354 1230,362 1231,367 1231,372 1231,377 1231,381 1232,386 1232,391 1231,400 1227,408 1223,415 1215,431 1210,447 1204,470 1201,486 1199,501 1196,517 1193,537 1192,557 1191,577 1191,592 1193,601 1197,609 1204,616 1213,621 1224,624 1236,625 1236,625 1230,624 1225,621 1221,616 1217,609 1215,601 1215,592 1214,577 1215,557 1215,537 1216,517 1218,501 1220,486 1222,470 1226,447 1231,431 1238,415 1243,408 1246,400 1248,391 1249,386 1249,381 1249,377 1248,372 1247,367 1245,362 1241,354 1237,346 1231,338 1228,330 1226,322 1225,310 1224,292 1225,273 1225,257 1225,244 1226,230 1228,222 1233,217 1239,216" fill="#6580c4"/>
<polygon points="1239,216 1232,217 1226,222 1223,230 1222,244 1222,257 1222,273 1222,292 1222,310 1223,322 1225,330 1229,338 1234,346 1238,354 1242,362 1244,367 1245,372 1245,377 1246,381 1245,386 1245,391 1243,400 1240,408 1235,415 1228,431 1223,447 1218,470 1216,486 1214,501 1212,517 1211,537 1210,557 1210,577 1210,592 1211,601 1213,609 1217,616 1223,621 1229,624 1236,625 1236,625 1232,624 1228,621 1224,616 1221,609 1220,601 1219,592 1219,577 1219,557 1219,537 1220,517 1222,501 1223,486 1225,470 1229,447 1234,431 1241,415 1246,408 1249,400 1251,391 1252,386 1252,381 1252,377 1251,372 1250,367 1248,362 1244,354 1239,346 1234,338 1230,330 1228,322 1228,310 1227,292 1228,273 1228,257 1228,244 1229,230 1231,222 1234,217 1239,216" fill="#4b6bb8"/>
<polygon points="1239,216 1233,217 1228,222 1226,230 1225,244 1225,257 1225,273 1224,292 1225,310 1226,322 1228,330 1231,338 1237,346 1241,354 1245,362 1247,367 1248,372 1249,377 1249,381 1249,386 1248,391 1246,400 1243,408 1238,415 1231,431 1226,447 1222,470 1220,486 1218,501 1216,517 1215,537 1215,557 1214,577 1215,592 1215,601 1217,609 1221,616 1225,621 1230,624 1236,625 1236,625 1233,624 1230,621 1227,616 1225,609 1224,601 1224,592 1224,577 1223,557 1224,537 1224,517 1226,501 1227,486 1229,470 1232,447 1237,431 1244,415 1249,408 1252,400 1254,391 1256,386 1256,381 1255,377 1254,372 1253,367 1251,362 1247,354 1242,346 1237,338 1233,330 1231,322 1230,310 1230,292 1231,273 1231,257 1231,244 1232,230 1233,222 1236,217 1239,216" fill="#4e6db9"/>
<polygon points="1239,216 1234,217 1231,222 1229,230 1228,244 1228,257 1228,273 1227,292 1228,310 1228,322 1230,330 1234,338 1239,346 1244,354 1248,362 1250,367 1251,372 1252,377 1252,381 1252,386 1251,391 1249,400 1246,408 1241,415 1234,431 1229,447 1225,470 1223,486 1222,501 1220,517 1219,537 1219,557 1219,577 1219,592 1220,601 1221,609 1224,616 1228,621 1232,624 1236,625 1236,625 1234,624 1232,621 1230,616 1229,609 1229,601 1228,592 1228,577 1228,557 1228,537 1228,517 1229,501 1230,486 1232,470 1235,447 1240,431 1247,415 1252,408 1255,400 1258,391 1259,386 1259,381 1259,377 1257,372 1256,367 1254,362 1249,354 1245,346 1240,338 1236,330 1234,322 1233,310 1233,292 1234,273 1234,257 1234,244 1235,230 1236,222 1237,217 1239,216" fill="#5370ba"/>
<polygon points="1239,216 1236,217 1233,222 1232,230 1231,244 1231,257 1231,273 1230,292 1230,310 1231,322 1233,330 1237,338 1242,346 1247,354 1251,362 1253,367 1254,372 1255,377 1256,381 1256,386 1254,391 1252,400 1249,408 1244,415 1237,431 1232,447 1229,470 1227,486 1226,501 1224,517 1224,537 1223,557 1224,577 1224,592 1224,601 1225,609 1227,616 1230,621 1233,624 1236,625 1236,625 1235,624 1235,621 1234,616 1233,609 1233,601 1233,592 1233,577 1232,557 1232,537 1232,517 1233,501 1234,486 1235,470 1238,447 1243,431 1250,415 1255,408 1258,400 1261,391 1262,386 1263,381 1262,377 1261,372 1259,367 1256,362 1252,354 1248,346 1243,338 1239,330 1237,322 1236,310 1236,292 1237,273 1237,257 1238,244 1238,230 1238,222 1239,217 1239,216" fill="#5a74bd"/>
<polygon points="1239,216 1237,217 1236,222 1235,230 1234,244 1234,257 1234,273 1233,292 1233,310 1234,322 1236,330 1240,338 1245,346 1249,354 1254,362 1256,367 1257,372 1259,377 1259,381 1259,386 1258,391 1255,400 1252,408 1247,415 1240,431 1235,447 1232,470 1230,486 1229,501 1228,517 1228,537 1228,557 1228,577 1228,592 1229,601 1229,609 1230,616 1232,621 1234,624 1236,625 1236,625 1236,624 1237,621 1237,616 1237,609 1237,601 1237,592 1237,577 1237,557 1236,537 1236,517 1237,501 1238,486 1239,470 1242,447 1246,431 1253,415 1258,408 1262,400 1264,391 1266,386 1266,381 1266,377 1264,372 1262,367 1259,362 1255,354 1250,346 1246,338 1242,330 1240,322 1239,310 1239,292 1240,273 1240,257 1241,244 1241,230 1240,222 1240,217 1239,216" fill="#6179c0"/>
<polygon points="1239,216 1239,217 1238,222 1238,230 1238,244 1237,257 1237,273 1236,292 1236,310 1237,322 1239,330 1243,338 1248,346 1252,354 1256,362 1259,367 1261,372 1262,377 1263,381 1262,386 1261,391 1258,400 1255,408 1250,415 1243,431 1238,447 1235,470 1234,486 1233,501 1232,517 1232,537 1232,557 1233,577 1233,592 1233,601 1233,609 1234,616 1235,621 1235,624 1236,625 1236,625 1238,624 1239,621 1240,616 1241,609 1242,601 1242,592 1242,577 1241,557 1241,537 1240,517 1241,501 1241,486 1242,470 1245,447 1249,431 1256,415 1261,408 1265,400 1267,391 1269,386 1270,381 1269,377 1267,372 1265,367 1262,362 1258,354 1253,346 1248,338 1244,330 1243,322 1242,310 1242,292 1243,273 1243,257 1244,244 1244,230 1243,222 1242,217 1239,216" fill="#6c81c6"/>
<polygon points="1239,216 1240,217 1240,222 1241,230 1241,244 1240,257 1240,273 1239,292 1239,310 1240,322 1242,330 1246,338 1250,346 1255,354 1259,362 1262,367 1264,372 1266,377 1266,381 1266,386 1264,391 1262,400 1258,408 1253,415 1246,431 1242,447 1239,470 1238,486 1237,501 1236,517 1236,537 1237,557 1237,577 1237,592 1237,601 1237,609 1237,616 1237,621 1236,624 1236,625 1236,625 1239,624 1242,621 1243,616 1245,609 1246,601 1246,592 1246,577 1246,557 1245,537 1245,517 1244,501 1245,486 1246,470 1248,447 1252,431 1259,415 1264,408 1268,400 1270,391 1272,386 1273,381 1272,377 1270,372 1268,367 1265,362 1261,354 1256,346 1251,338 1247,330 1245,322 1245,310 1245,292 1246,273 1246,257 1247,244 1247,230 1245,222 1243,217 1239,216" fill="#778aca"/>
<polygon points="1239,216 1242,217 1243,222 1244,230 1244,244 1243,257 1243,273 1242,292 1242,310 1243,322 1244,330 1248,338 1253,346 1258,354 1262,362 1265,367 1267,372 1269,377 1270,381 1269,386 1267,391 1265,400 1261,408 1256,415 1249,431 1245,447 1242,470 1241,486 1241,501 1240,517 1241,537 1241,557 1242,577 1242,592 1242,601 1241,609 1240,616 1239,621 1238,624 1236,625 1236,625 1240,624 1244,621 1247,616 1249,609 1250,601 1251,592 1251,577 1250,557 1249,537 1249,517 1248,501 1248,486 1249,470 1251,447 1255,431 1262,415 1267,408 1271,400 1274,391 1276,386 1276,381 1276,377 1273,372 1271,367 1268,362 1263,354 1259,346 1254,338 1250,330 1248,322 1248,310 1248,292 1249,273 1249,257 1250,244 1249,230 1248,222 1244,217 1239,216" fill="#7e90ce"/>
<polygon points="1239,216 1243,217 1245,222 1247,230 1247,244 1246,257 1246,273 1245,292 1245,310 1245,322 1247,330 1251,338 1256,346 1261,354 1265,362 1268,367 1270,372 1272,377 1273,381 1272,386 1270,391 1268,400 1264,408 1259,415 1252,431 1248,447 1246,470 1245,486 1244,501 1245,517 1245,537 1246,557 1246,577 1246,592 1246,601 1245,609 1243,616 1242,621 1239,624 1236,625 1236,625 1241,624 1246,621 1250,616 1253,609 1255,601 1256,592 1255,577 1254,557 1254,537 1253,517 1252,501 1252,486 1252,470 1254,447 1258,431 1265,415 1270,408 1274,400 1277,391 1279,386 1280,381 1279,377 1277,372 1274,367 1271,362 1266,354 1262,346 1257,338 1253,330 1251,322 1250,310 1251,292 1252,273 1253,257 1253,244 1252,230 1250,222 1246,217 1239,216" fill="#8494d0"/>
<polygon points="1239,216 1244,217 1248,222 1249,230 1250,244 1249,257 1249,273 1248,292 1248,310 1248,322 1250,330 1254,338 1259,346 1263,354 1268,362 1271,367 1273,372 1276,377 1276,381 1276,386 1274,391 1271,400 1267,408 1262,415 1255,431 1251,447 1249,470 1248,486 1248,501 1249,517 1249,537 1250,557 1251,577 1251,592 1250,601 1249,609 1247,616 1244,621 1240,624 1236,625 1236,625 1242,624 1249,621 1253,616 1257,609 1259,601 1260,592 1260,577 1259,557 1258,537 1257,517 1256,501 1256,486 1256,470 1257,447 1261,431 1268,415 1273,408 1277,400 1280,391 1283,386 1283,381 1283,377 1280,372 1277,367 1274,362 1269,354 1264,346 1260,338 1256,330 1254,322 1253,310 1254,292 1255,273 1256,257 1256,244 1255,230 1253,222 1247,217 1239,216" fill="#8999d3"/>
<polygon points="1239,216 1246,217 1250,222 1252,230 1253,244 1253,257 1252,273 1251,292 1250,310 1251,322 1253,330 1257,338 1262,346 1266,354 1271,362 1274,367 1277,372 1279,377 1280,381 1279,386 1277,391 1274,400 1270,408 1265,415 1258,431 1254,447 1252,470 1252,486 1252,501 1253,517 1254,537 1254,557 1255,577 1256,592 1255,601 1253,609 1250,616 1246,621 1241,624 1236,625 1236,625 1247,624 1258,621 1267,616 1273,609 1277,601 1279,592 1279,577 1277,557 1275,537 1273,517 1271,501 1270,486 1270,470 1270,447 1273,431 1280,415 1285,408 1289,400 1293,391 1296,386 1297,381 1297,377 1293,372 1290,367 1286,362 1281,354 1276,346 1271,338 1267,330 1266,322 1265,310 1266,292 1267,273 1268,257 1269,244 1267,230 1263,222 1253,217 1239,216" fill="#8c9bd6"/></g></g>
</g>
<g clip-path="url(#c17)">
<g filter="url(#bl)"><polygon points="1324,216 1310,217 1301,222 1296,230 1294,244 1295,257 1296,273 1298,292 1298,310 1298,322 1296,330 1292,338 1288,346 1283,354 1278,362 1274,367 1270,372 1267,377 1266,381 1267,386 1270,391 1274,400 1278,408 1283,415 1290,431 1293,447 1294,470 1293,486 1292,501 1290,517 1288,537 1286,557 1285,577 1285,592 1286,601 1291,609 1297,616 1305,621 1316,624 1328,625 1328,625 1322,624 1317,621 1313,616 1311,609 1309,601 1308,592 1308,577 1309,557 1310,537 1311,517 1311,501 1311,486 1311,470 1309,447 1306,431 1298,415 1294,408 1290,400 1287,391 1284,386 1283,381 1284,377 1287,372 1289,367 1293,362 1297,354 1302,346 1307,338 1311,330 1312,322 1313,310 1313,292 1312,273 1311,257 1310,244 1311,230 1313,222 1318,217 1324,216" fill="#ef5340"/>
<polygon points="1324,216 1316,217 1311,222 1308,230 1307,244 1308,257 1309,273 1310,292 1310,310 1309,322 1308,330 1304,338 1299,346 1294,354 1290,362 1286,367 1284,372 1281,377 1280,381 1281,386 1283,391 1287,400 1291,408 1295,415 1303,431 1306,447 1308,470 1308,486 1308,501 1307,517 1306,537 1305,557 1303,577 1303,592 1304,601 1307,609 1310,616 1315,621 1321,624 1328,625 1328,625 1324,624 1319,621 1317,616 1315,609 1313,601 1312,592 1312,577 1313,557 1314,537 1315,517 1315,501 1315,486 1314,470 1312,447 1309,431 1301,415 1297,408 1293,400 1290,391 1288,386 1287,381 1288,377 1290,372 1292,367 1295,362 1300,354 1305,346 1309,338 1313,330 1315,322 1316,310 1316,292 1315,273 1314,257 1313,244 1314,230 1316,222 1319,217 1324,216" fill="#ec2625"/>
<polygon points="1324,216 1318,217 1313,222 1311,230 1310,244 1311,257 1312,273 1313,292 1313,310 1312,322 1311,330 1307,338 1302,346 1297,354 1293,362 1289,367 1287,372 1284,377 1283,381 1284,386 1287,391 1290,400 1294,408 1298,415 1306,431 1309,447 1311,470 1311,486 1311,501 1311,517 1310,537 1309,557 1308,577 1308,592 1309,601 1311,609 1313,616 1317,621 1322,624 1328,625 1328,625 1325,624 1322,621 1320,616 1318,609 1317,601 1317,592 1317,577 1318,557 1318,537 1319,517 1319,501 1319,486 1318,470 1315,447 1312,431 1304,415 1300,408 1296,400 1293,391 1291,386 1290,381 1291,377 1293,372 1295,367 1298,362 1303,354 1307,346 1312,338 1316,330 1318,322 1319,310 1319,292 1318,273 1317,257 1317,244 1317,230 1318,222 1320,217 1324,216" fill="#ec2925"/>
<polygon points="1324,216 1319,217 1316,222 1314,230 1313,244 1314,257 1315,273 1316,292 1316,310 1315,322 1313,330 1309,338 1305,346 1300,354 1295,362 1292,367 1290,372 1288,377 1287,381 1288,386 1290,391 1293,400 1297,408 1301,415 1309,431 1312,447 1314,470 1315,486 1315,501 1315,517 1314,537 1313,557 1312,577 1312,592 1313,601 1315,609 1317,616 1319,621 1324,624 1328,625 1328,625 1326,624 1324,621 1323,616 1322,609 1322,601 1322,592 1322,577 1322,557 1323,537 1323,517 1323,501 1322,486 1321,470 1319,447 1315,431 1307,415 1303,408 1299,400 1296,391 1294,386 1294,381 1294,377 1296,372 1298,367 1301,362 1306,354 1310,346 1315,338 1319,330 1321,322 1322,310 1321,292 1321,273 1320,257 1320,244 1320,230 1320,222 1322,217 1324,216" fill="#ec2f27"/>
<polygon points="1324,216 1320,217 1318,222 1317,230 1317,244 1317,257 1318,273 1319,292 1319,310 1318,322 1316,330 1312,338 1307,346 1303,354 1298,362 1295,367 1293,372 1291,377 1290,381 1291,386 1293,391 1296,400 1300,408 1304,415 1312,431 1315,447 1318,470 1319,486 1319,501 1319,517 1318,537 1318,557 1317,577 1317,592 1317,601 1318,609 1320,616 1322,621 1325,624 1328,625 1328,625 1327,624 1326,621 1326,616 1326,609 1326,601 1326,592 1326,577 1327,557 1327,537 1327,517 1327,501 1326,486 1325,470 1322,447 1318,431 1310,415 1306,408 1302,400 1299,391 1298,386 1297,381 1298,377 1300,372 1302,367 1304,362 1308,354 1313,346 1318,338 1322,330 1324,322 1324,310 1324,292 1324,273 1323,257 1323,244 1323,230 1323,222 1323,217 1324,216" fill="#ec372a"/>
<polygon points="1324,216 1322,217 1320,222 1320,230 1320,244 1320,257 1321,273 1321,292 1322,310 1321,322 1319,330 1315,338 1310,346 1306,354 1301,362 1298,367 1296,372 1294,377 1294,381 1294,386 1296,391 1299,400 1303,408 1307,415 1315,431 1319,447 1321,470 1322,486 1323,501 1323,517 1323,537 1322,557 1322,577 1322,592 1322,601 1322,609 1323,616 1324,621 1326,624 1328,625 1328,625 1328,624 1329,621 1330,616 1330,609 1330,601 1331,592 1331,577 1331,557 1331,537 1331,517 1330,501 1329,486 1328,470 1325,447 1321,431 1313,415 1309,408 1305,400 1303,391 1301,386 1301,381 1301,377 1303,372 1305,367 1307,362 1311,354 1316,346 1321,338 1325,330 1326,322 1327,310 1327,292 1327,273 1326,257 1326,244 1326,230 1325,222 1325,217 1324,216" fill="#ed402f"/>
<polygon points="1324,216 1323,217 1323,222 1323,230 1323,244 1323,257 1324,273 1324,292 1324,310 1324,322 1322,330 1318,338 1313,346 1308,354 1304,362 1302,367 1300,372 1298,377 1297,381 1298,386 1299,391 1302,400 1306,408 1310,415 1318,431 1322,447 1325,470 1326,486 1327,501 1327,517 1327,537 1327,557 1326,577 1326,592 1326,601 1326,609 1326,616 1326,621 1327,624 1328,625 1328,625 1330,624 1331,621 1333,616 1334,609 1335,601 1335,592 1335,577 1336,557 1336,537 1335,517 1334,501 1333,486 1331,470 1328,447 1324,431 1316,415 1312,408 1308,400 1306,391 1304,386 1304,381 1305,377 1306,372 1308,367 1310,362 1314,354 1318,346 1323,338 1327,330 1329,322 1330,310 1330,292 1330,273 1329,257 1329,244 1328,230 1328,222 1326,217 1324,216" fill="#ee4934"/>
<polygon points="1324,216 1325,217 1325,222 1326,230 1326,244 1326,257 1327,273 1327,292 1327,310 1326,322 1325,330 1321,338 1316,346 1311,354 1307,362 1305,367 1303,372 1301,377 1301,381 1301,386 1303,391 1305,400 1309,408 1313,415 1321,431 1325,447 1328,470 1329,486 1330,501 1331,517 1331,537 1331,557 1331,577 1331,592 1330,601 1330,609 1330,616 1329,621 1328,624 1328,625 1328,625 1331,624 1334,621 1336,616 1338,609 1339,601 1340,592 1340,577 1340,557 1340,537 1339,517 1338,501 1337,486 1335,470 1331,447 1327,431 1319,415 1315,408 1311,400 1309,391 1308,386 1308,381 1308,377 1309,372 1311,367 1313,362 1317,354 1321,346 1326,338 1330,330 1332,322 1333,310 1333,292 1333,273 1333,257 1332,244 1331,230 1330,222 1328,217 1324,216" fill="#ee533a"/>
<polygon points="1324,216 1326,217 1328,222 1328,230 1329,244 1329,257 1330,273 1330,292 1330,310 1329,322 1327,330 1323,338 1318,346 1314,354 1310,362 1308,367 1306,372 1305,377 1304,381 1304,386 1306,391 1308,400 1312,408 1316,415 1324,431 1328,447 1331,470 1333,486 1334,501 1335,517 1336,537 1336,557 1335,577 1335,592 1335,601 1334,609 1333,616 1331,621 1330,624 1328,625 1328,625 1332,624 1336,621 1340,616 1342,609 1344,601 1344,592 1344,577 1344,557 1344,537 1343,517 1342,501 1340,486 1338,470 1334,447 1330,431 1322,415 1318,408 1314,400 1312,391 1311,386 1311,381 1311,377 1312,372 1314,367 1316,362 1320,354 1324,346 1329,338 1333,330 1335,322 1336,310 1336,292 1336,273 1336,257 1335,244 1334,230 1333,222 1329,217 1324,216" fill="#ef5b41"/>
<polygon points="1324,216 1328,217 1330,222 1331,230 1332,244 1333,257 1333,273 1333,292 1333,310 1332,322 1330,330 1326,338 1321,346 1317,354 1313,362 1311,367 1309,372 1308,377 1308,381 1308,386 1309,391 1311,400 1315,408 1319,415 1327,431 1331,447 1335,470 1337,486 1338,501 1339,517 1340,537 1340,557 1340,577 1340,592 1339,601 1338,609 1336,616 1334,621 1331,624 1328,625 1328,625 1333,624 1338,621 1343,616 1346,609 1348,601 1349,592 1349,577 1349,557 1348,537 1347,517 1345,501 1344,486 1342,470 1338,447 1333,431 1325,415 1321,408 1317,400 1315,391 1315,386 1314,381 1315,377 1316,372 1317,367 1318,362 1322,354 1327,346 1332,338 1336,330 1338,322 1339,310 1339,292 1339,273 1339,257 1338,244 1337,230 1335,222 1330,217 1324,216" fill="#f06447"/>
<polygon points="1324,216 1329,217 1333,222 1334,230 1335,244 1336,257 1336,273 1336,292 1336,310 1335,322 1333,330 1329,338 1324,346 1320,354 1316,362 1314,367 1312,372 1311,377 1311,381 1311,386 1312,391 1314,400 1318,408 1322,415 1330,431 1334,447 1338,470 1340,486 1342,501 1343,517 1344,537 1344,557 1344,577 1344,592 1344,601 1342,609 1340,616 1336,621 1332,624 1328,625 1328,625 1334,624 1341,621 1346,616 1350,609 1352,601 1353,592 1354,577 1353,557 1353,537 1351,517 1349,501 1347,486 1345,470 1341,447 1336,431 1328,415 1324,408 1320,400 1319,391 1318,386 1318,381 1318,377 1319,372 1320,367 1321,362 1325,354 1330,346 1335,338 1339,330 1341,322 1342,310 1342,292 1342,273 1342,257 1341,244 1340,230 1338,222 1332,217 1324,216" fill="#f16d4f"/>
<polygon points="1324,216 1330,217 1335,222 1337,230 1338,244 1339,257 1339,273 1339,292 1339,310 1338,322 1336,330 1332,338 1327,346 1322,354 1318,362 1317,367 1316,372 1315,377 1314,381 1315,386 1315,391 1317,400 1321,408 1325,415 1333,431 1338,447 1342,470 1344,486 1345,501 1347,517 1348,537 1349,557 1349,577 1349,592 1348,601 1346,609 1343,616 1338,621 1333,624 1328,625 1328,625 1339,624 1350,621 1359,616 1366,609 1370,601 1372,592 1372,577 1371,557 1370,537 1368,517 1365,501 1362,486 1359,470 1354,447 1348,431 1341,415 1336,408 1332,400 1332,391 1332,386 1332,381 1332,377 1332,372 1332,367 1333,362 1337,354 1341,346 1346,338 1350,330 1352,322 1353,310 1354,292 1354,273 1355,257 1354,244 1352,230 1348,222 1338,217 1324,216" fill="#f37658"/></g>
</g>
<path d="M1280.40,371.40 L1283.00,371.40 L1281.70,378.90 Z M1280.40,391.40 L1283.00,391.40 L1281.70,383.90 Z" fill="#2a1412" opacity="0.85"/>
<g clip-path="url(#h18)"><g filter="url(#hb2)" opacity="0.8"><ellipse cx="1255.40" cy="382.60" rx="21.6" ry="18.2" fill="#a8141a"/><ellipse cx="1307.80" cy="382.60" rx="21.6" ry="18.2" fill="#a8141a"/></g></g>
<ellipse cx="1255.10" cy="382.00" rx="17.90" ry="14.30" fill="url(#cg)" stroke="#15161c" stroke-width="2"/>
<ellipse cx="1307.50" cy="382.00" rx="17.90" ry="14.30" fill="url(#cg)" stroke="#15161c" stroke-width="2"/>
<path d="M427.4,348.5 H485.5 V327.5 L521.2,380.6 L485.5,433.6 V412.4 H427.4 Z" fill="#d1d2d4" stroke="#6d6e71" stroke-width="1.5" stroke-linejoin="miter"/>
<path d="M857.9,348.5 H916.0 V327.5 L951.7,380.6 L916.0,433.6 V412.4 H857.9 Z" fill="#d1d2d4" stroke="#6d6e71" stroke-width="1.5" stroke-linejoin="miter"/>

<g fill="#000">
<rect x="1162.9" y="169.2" width="4.8" height="24"/>
<rect x="1091.3" y="189.9" width="148.3" height="4.8"/>
<rect x="1091.3" y="189.9" width="4.7" height="34"/>
<rect x="1234.8" y="189.9" width="4.8" height="34"/>
<rect x="1000.7" y="615" width="4.7" height="38.5"/>
<rect x="1327.6" y="615" width="4.8" height="38.5"/>
<rect x="1000.7" y="648.3" width="331.7" height="4.9"/>
<rect x="1165.3" y="650" width="4.7" height="24"/>
</g>
<text x="628.0" y="37.6" textLength="150.5" lengthAdjust="spacingAndGlyphs" class="sf" font-size="26.0">Çaprazlama</text>
<text x="183.0" y="127.0" textLength="115.8" lengthAdjust="spacingAndGlyphs" class="sf" font-size="26.0">Homolog</text>
<text x="143.6" y="158.6" textLength="194.6" lengthAdjust="spacingAndGlyphs" class="sf" font-size="26.0">kromozomların</text>
<text x="164.5" y="190.7" textLength="152.5" lengthAdjust="spacingAndGlyphs" class="sf" font-size="26.0">hizalanması</text>
<text x="608.7" y="127.7" textLength="140.0" lengthAdjust="spacingAndGlyphs" class="sf" font-size="26.0">Kromozom</text>
<text x="595.7" y="159.1" textLength="164.1" lengthAdjust="spacingAndGlyphs" class="sf" font-size="26.0">çaprazlaması</text>
<text x="1076.5" y="112.4" textLength="173.4" lengthAdjust="spacingAndGlyphs" class="sf" font-size="26.0">Rekombinant</text>
<text x="1077.9" y="144.2" textLength="169.1" lengthAdjust="spacingAndGlyphs" class="sf" font-size="26.0">kromozomlar</text>
<text x="1028.3" y="709.9" textLength="287.5" lengthAdjust="spacingAndGlyphs" class="sf" font-size="26.0">Rekombinant olmayan</text>
<text x="1087.4" y="741.3" textLength="168.4" lengthAdjust="spacingAndGlyphs" class="sf" font-size="26.0">kromozomlar</text>
<text x="6.99" y="464.8" class="lb" textLength="22.29" lengthAdjust="spacingAndGlyphs">A</text>
<text x="7.05" y="536.6" class="lb" textLength="21.71" lengthAdjust="spacingAndGlyphs">B</text>
<text x="4.30" y="608.5" class="lb" textLength="24.76" lengthAdjust="spacingAndGlyphs">C</text>
<text x="190.69" y="464.8" class="lb" textLength="22.29" lengthAdjust="spacingAndGlyphs">A</text>
<text x="189.25" y="536.6" class="lb" textLength="21.71" lengthAdjust="spacingAndGlyphs">B</text>
<text x="186.60" y="608.5" class="lb" textLength="24.76" lengthAdjust="spacingAndGlyphs">C</text>
<text x="240.90" y="464.8" class="lb" textLength="19.07" lengthAdjust="spacingAndGlyphs">a</text>
<text x="241.15" y="536.6" class="lb" textLength="18.29" lengthAdjust="spacingAndGlyphs">b</text>
<text x="242.80" y="608.5" class="lb" textLength="16.62" lengthAdjust="spacingAndGlyphs">c</text>
<text x="424.00" y="464.8" class="lb" textLength="19.07" lengthAdjust="spacingAndGlyphs">a</text>
<text x="424.25" y="536.6" class="lb" textLength="18.29" lengthAdjust="spacingAndGlyphs">b</text>
<text x="424.10" y="608.5" class="lb" textLength="16.62" lengthAdjust="spacingAndGlyphs">c</text>
<text x="500.89" y="464.8" class="lb" textLength="22.29" lengthAdjust="spacingAndGlyphs">A</text>
<text x="499.75" y="536.6" class="lb" textLength="21.71" lengthAdjust="spacingAndGlyphs">B</text>
<text x="497.70" y="608.5" class="lb" textLength="24.76" lengthAdjust="spacingAndGlyphs">C</text>
<text x="828.90" y="464.8" class="lb" textLength="19.07" lengthAdjust="spacingAndGlyphs">a</text>
<text x="829.15" y="536.6" class="lb" textLength="18.29" lengthAdjust="spacingAndGlyphs">b</text>
<text x="829.20" y="608.5" class="lb" textLength="16.62" lengthAdjust="spacingAndGlyphs">c</text>
<text x="946.09" y="464.8" class="lb" textLength="22.29" lengthAdjust="spacingAndGlyphs">A</text>
<text x="946.15" y="536.6" class="lb" textLength="21.71" lengthAdjust="spacingAndGlyphs">B</text>
<text x="944.90" y="608.5" class="lb" textLength="24.76" lengthAdjust="spacingAndGlyphs">C</text>
<text x="1128.09" y="464.8" class="lb" textLength="22.29" lengthAdjust="spacingAndGlyphs">A</text>
<text x="1126.75" y="536.6" class="lb" textLength="21.71" lengthAdjust="spacingAndGlyphs">B</text>
<text x="1126.80" y="608.5" class="lb" textLength="16.62" lengthAdjust="spacingAndGlyphs">c</text>
<text x="1179.20" y="464.8" class="lb" textLength="19.07" lengthAdjust="spacingAndGlyphs">a</text>
<text x="1179.25" y="536.6" class="lb" textLength="18.29" lengthAdjust="spacingAndGlyphs">b</text>
<text x="1178.30" y="608.5" class="lb" textLength="24.76" lengthAdjust="spacingAndGlyphs">C</text>
<text x="1363.30" y="464.8" class="lb" textLength="19.07" lengthAdjust="spacingAndGlyphs">a</text>
<text x="1363.55" y="536.6" class="lb" textLength="18.29" lengthAdjust="spacingAndGlyphs">b</text>
<text x="1363.60" y="608.5" class="lb" textLength="16.62" lengthAdjust="spacingAndGlyphs">c</text>
</svg>
</body></html>
